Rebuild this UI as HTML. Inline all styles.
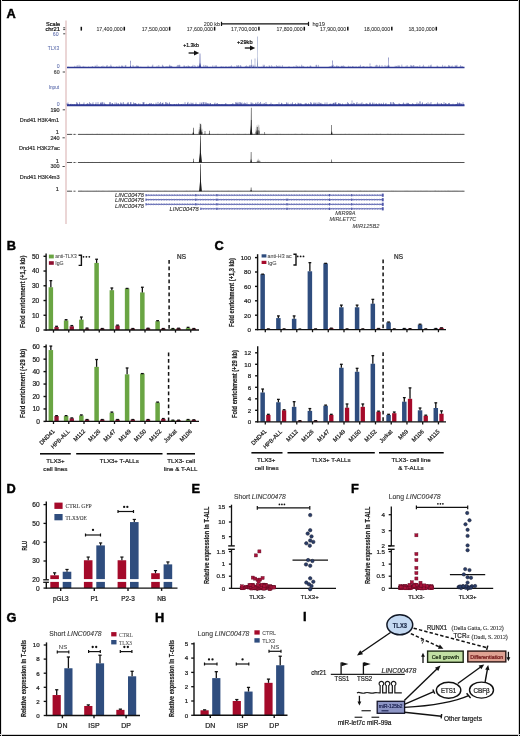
<!DOCTYPE html>
<html><head><meta charset="utf-8"><style>
html,body{margin:0;padding:0;background:#fff;}
svg{display:block;will-change:transform;}
text{font-family:"Liberation Sans", sans-serif;}
</style></head><body>
<svg width="520" height="736" viewBox="0 0 520 736">
<rect x="0" y="0" width="520" height="736" fill="#fff"/>
<text x="6.6" y="17.6" font-size="12.8" text-anchor="start" fill="#000" font-weight="bold" font-style="normal" stroke="#000" stroke-width="0.45">A</text>
<line x1="66" y1="20.5" x2="66" y2="224" stroke="#e4c9c8" stroke-width="1.5"/>
<text x="60" y="25.7" font-size="5.5" text-anchor="end" fill="#111" font-weight="normal" font-style="normal" textLength="14" lengthAdjust="spacingAndGlyphs" stroke="#111" stroke-width="0.22">Scale</text>
<text x="60" y="30.7" font-size="5.5" text-anchor="end" fill="#111" font-weight="normal" font-style="normal" textLength="14.6" lengthAdjust="spacingAndGlyphs" stroke="#111" stroke-width="0.22">chr21</text>
<line x1="63.2" y1="27.8" x2="65.2" y2="27.8" stroke="#333" stroke-width="0.9"/>
<line x1="63.2" y1="29.6" x2="65.2" y2="29.6" stroke="#333" stroke-width="0.9"/>
<line x1="63.2" y1="33.8" x2="65.2" y2="33.8" stroke="#333" stroke-width="0.9"/>
<text x="58.6" y="36" font-size="5.2" text-anchor="end" fill="#5868aa" font-weight="normal" font-style="normal" stroke="#5868aa" stroke-width="0.05">60</text>
<text x="59.2" y="50.3" font-size="5.2" text-anchor="end" fill="#5868aa" font-weight="normal" font-style="normal" textLength="11.5" lengthAdjust="spacingAndGlyphs" stroke="#5868aa" stroke-width="0.05">TLX3</text>
<text x="59.6" y="67.8" font-size="5.2" text-anchor="end" fill="#5868aa" font-weight="normal" font-style="normal" stroke="#5868aa" stroke-width="0.05">0</text>
<text x="59.6" y="73.8" font-size="5.2" text-anchor="end" fill="#555" font-weight="normal" font-style="normal" stroke="#555" stroke-width="0.22">60</text>
<line x1="62.7" y1="72" x2="65" y2="72" stroke="#333" stroke-width="0.9"/>
<text x="59.2" y="89" font-size="5.2" text-anchor="end" fill="#5868aa" font-weight="normal" font-style="normal" textLength="10.5" lengthAdjust="spacingAndGlyphs" stroke="#5868aa" stroke-width="0.05">Input</text>
<text x="59.6" y="106" font-size="5.2" text-anchor="end" fill="#5868aa" font-weight="normal" font-style="normal" stroke="#5868aa" stroke-width="0.05">0</text>
<text x="59.6" y="111.6" font-size="5.5" text-anchor="end" fill="#333" font-weight="normal" font-style="normal" stroke="#333" stroke-width="0.22">190</text>
<line x1="62.7" y1="109.8" x2="65" y2="109.8" stroke="#333" stroke-width="0.9"/>
<text x="59" y="121.6" font-size="5.5" text-anchor="end" fill="#333" font-weight="normal" font-style="normal" textLength="39.2" lengthAdjust="spacingAndGlyphs" stroke="#333" stroke-width="0.22">Dnd41 H3K4m1</text>
<text x="58.8" y="134.3" font-size="5.5" text-anchor="end" fill="#333" font-weight="normal" font-style="normal" stroke="#333" stroke-width="0.22">1</text>
<text x="59.6" y="139.9" font-size="5.5" text-anchor="end" fill="#333" font-weight="normal" font-style="normal" stroke="#333" stroke-width="0.22">240</text>
<line x1="62.5" y1="137.8" x2="64.8" y2="137.8" stroke="#333" stroke-width="0.9"/>
<text x="59.8" y="150.4" font-size="5.5" text-anchor="end" fill="#333" font-weight="normal" font-style="normal" textLength="40.8" lengthAdjust="spacingAndGlyphs" stroke="#333" stroke-width="0.22">Dnd41 H3K27ac</text>
<text x="58.8" y="163.1" font-size="5.5" text-anchor="end" fill="#333" font-weight="normal" font-style="normal" stroke="#333" stroke-width="0.22">1</text>
<text x="59.6" y="168.3" font-size="5.5" text-anchor="end" fill="#333" font-weight="normal" font-style="normal" stroke="#333" stroke-width="0.22">300</text>
<line x1="62.5" y1="166.5" x2="64.8" y2="166.5" stroke="#333" stroke-width="0.9"/>
<text x="59.6" y="178.6" font-size="5.5" text-anchor="end" fill="#333" font-weight="normal" font-style="normal" textLength="39.8" lengthAdjust="spacingAndGlyphs" stroke="#333" stroke-width="0.22">Dnd41 H3K4m3</text>
<text x="58.8" y="191.3" font-size="5.5" text-anchor="end" fill="#333" font-weight="normal" font-style="normal" stroke="#333" stroke-width="0.22">1</text>
<text x="220" y="25.6" font-size="5.5" text-anchor="end" fill="#333" font-weight="normal" font-style="normal" textLength="16.2" lengthAdjust="spacingAndGlyphs" stroke="#333" stroke-width="0.08">200 kb</text>
<line x1="221.5" y1="23.9" x2="308.5" y2="23.9" stroke="#111" stroke-width="1.2"/>
<line x1="221.5" y1="21.8" x2="221.5" y2="26" stroke="#111" stroke-width="1.2"/>
<line x1="308.5" y1="21.8" x2="308.5" y2="26" stroke="#111" stroke-width="1.2"/>
<text x="312.5" y="25.8" font-size="5.5" text-anchor="start" fill="#333" font-weight="normal" font-style="normal" textLength="12.5" lengthAdjust="spacingAndGlyphs" stroke="#333" stroke-width="0.08">hg19</text>
<line x1="81.3" y1="26.8" x2="81.3" y2="30.6" stroke="#111" stroke-width="1.5"/>
<text x="122.7" y="30.8" font-size="5.5" text-anchor="end" fill="#333" font-weight="normal" font-style="normal" textLength="26.3" lengthAdjust="spacingAndGlyphs" stroke="#333" stroke-width="0.08">17,400,000</text>
<line x1="124.3" y1="26.8" x2="124.3" y2="30.6" stroke="#111" stroke-width="1.5"/>
<text x="168" y="30.8" font-size="5.5" text-anchor="end" fill="#333" font-weight="normal" font-style="normal" textLength="26.3" lengthAdjust="spacingAndGlyphs" stroke="#333" stroke-width="0.08">17,500,000</text>
<line x1="169.6" y1="26.8" x2="169.6" y2="30.6" stroke="#111" stroke-width="1.5"/>
<text x="213" y="30.8" font-size="5.5" text-anchor="end" fill="#333" font-weight="normal" font-style="normal" textLength="26.3" lengthAdjust="spacingAndGlyphs" stroke="#333" stroke-width="0.08">17,600,000</text>
<line x1="214.6" y1="26.8" x2="214.6" y2="30.6" stroke="#111" stroke-width="1.5"/>
<text x="257.3" y="30.8" font-size="5.5" text-anchor="end" fill="#333" font-weight="normal" font-style="normal" textLength="26.3" lengthAdjust="spacingAndGlyphs" stroke="#333" stroke-width="0.08">17,700,000</text>
<line x1="258.9" y1="26.8" x2="258.9" y2="30.6" stroke="#111" stroke-width="1.5"/>
<text x="302.7" y="30.8" font-size="5.5" text-anchor="end" fill="#333" font-weight="normal" font-style="normal" textLength="26.3" lengthAdjust="spacingAndGlyphs" stroke="#333" stroke-width="0.08">17,800,000</text>
<line x1="304.3" y1="26.8" x2="304.3" y2="30.6" stroke="#111" stroke-width="1.5"/>
<text x="346.2" y="30.8" font-size="5.5" text-anchor="end" fill="#333" font-weight="normal" font-style="normal" textLength="26.3" lengthAdjust="spacingAndGlyphs" stroke="#333" stroke-width="0.08">17,900,000</text>
<line x1="347.8" y1="26.8" x2="347.8" y2="30.6" stroke="#111" stroke-width="1.5"/>
<text x="390.2" y="30.8" font-size="5.5" text-anchor="end" fill="#333" font-weight="normal" font-style="normal" textLength="26.3" lengthAdjust="spacingAndGlyphs" stroke="#333" stroke-width="0.08">18,000,000</text>
<line x1="391.8" y1="26.8" x2="391.8" y2="30.6" stroke="#111" stroke-width="1.5"/>
<text x="434.7" y="30.8" font-size="5.5" text-anchor="end" fill="#333" font-weight="normal" font-style="normal" textLength="26.3" lengthAdjust="spacingAndGlyphs" stroke="#333" stroke-width="0.08">18,100,000</text>
<line x1="436.3" y1="26.8" x2="436.3" y2="30.6" stroke="#111" stroke-width="1.5"/>
<path d="M67,67.4 v-0.1 M67.6,67.4 v-0.01 M68.2,67.4 v-0.77 M68.8,67.4 v-0 M69.4,67.4 v-0.43 M70,67.4 v-0.14 M70.6,67.4 v-0 M71.2,67.4 v-0.37 M71.8,67.4 v-0 M72.4,67.4 v-0.23 M73,67.4 v-0 M73.6,67.4 v-0 M74.2,67.4 v-0.21 M74.8,67.4 v-1.58 M75.4,67.4 v-0.01 M76,67.4 v-0.03 M76.6,67.4 v-0.69 M77.2,67.4 v-2.38 M77.8,67.4 v-0.54 M78.4,67.4 v-0.17 M79,67.4 v-2.61 M79.6,67.4 v-0 M80.2,67.4 v-1.77 M80.8,67.4 v-0.07 M81.4,67.4 v-0.01 M82,67.4 v-0 M82.6,67.4 v-0.08 M83.2,67.4 v-1.52 M83.8,67.4 v-0.02 M84.4,67.4 v-0.55 M85,67.4 v-0.73 M85.6,67.4 v-0.14 M86.2,67.4 v-0.46 M86.8,67.4 v-0 M87.4,67.4 v-0 M88,67.4 v-0.02 M88.6,67.4 v-0.88 M89.2,67.4 v-0.22 M89.8,67.4 v-0.09 M90.4,67.4 v-0.56 M91,67.4 v-0.26 M91.6,67.4 v-0.08 M92.2,67.4 v-1.4 M92.8,67.4 v-0.96 M93.4,67.4 v-0.04 M94,67.4 v-0.53 M94.6,67.4 v-0.41 M95.2,67.4 v-1.88 M95.8,67.4 v-1.09 M96.4,67.4 v-0.07 M97,67.4 v-2.64 M97.6,67.4 v-0 M98.2,67.4 v-0.2 M98.8,67.4 v-1.22 M99.4,67.4 v-0.01 M100,67.4 v-0.33 M100.6,67.4 v-0 M101.2,67.4 v-0.84 M101.8,67.4 v-1.25 M102.4,67.4 v-0.53 M103,67.4 v-1.88 M103.6,67.4 v-0.09 M104.2,67.4 v-0.94 M104.8,67.4 v-0.59 M105.4,67.4 v-0.55 M106,67.4 v-0.27 M106.6,67.4 v-1.66 M107.2,67.4 v-2.36 M107.8,67.4 v-0.3 M108.4,67.4 v-0.82 M109,67.4 v-0 M109.6,67.4 v-0.97 M110.2,67.4 v-0.76 M110.8,67.4 v-2.74 M111.4,67.4 v-1.55 M112,67.4 v-0.06 M112.6,67.4 v-0.16 M113.2,67.4 v-0.84 M113.8,67.4 v-0 M114.4,67.4 v-0.28 M115,67.4 v-0.01 M115.6,67.4 v-0 M116.2,67.4 v-0 M116.8,67.4 v-1.27 M117.4,67.4 v-0.01 M118,67.4 v-0.04 M118.6,67.4 v-0.17 M119.2,67.4 v-1.85 M119.8,67.4 v-0 M120.4,67.4 v-0.25 M121,67.4 v-0.46 M121.6,67.4 v-1.93 M122.2,67.4 v-1.54 M122.8,67.4 v-1.81 M123.4,67.4 v-0.06 M124,67.4 v-0.2 M124.6,67.4 v-0.13 M125.2,67.4 v-1.94 M125.8,67.4 v-2.46 M126.4,67.4 v-0.01 M127,67.4 v-0.02 M127.6,67.4 v-0.03 M128.2,67.4 v-0.04 M128.8,67.4 v-0.32 M129.4,67.4 v-0.57 M130,67.4 v-0.05 M130.6,67.4 v-0 M131.2,67.4 v-0.21 M131.8,67.4 v-0.14 M132.4,67.4 v-0.51 M133,67.4 v-2.42 M133.6,67.4 v-0.92 M134.2,67.4 v-0.38 M134.8,67.4 v-0.66 M135.4,67.4 v-0.87 M136,67.4 v-0 M136.6,67.4 v-2.04 M137.2,67.4 v-1.33 M137.8,67.4 v-1.87 M138.4,67.4 v-1.42 M139,67.4 v-0.17 M139.6,67.4 v-0.18 M140.2,67.4 v-0 M140.8,67.4 v-0.71 M141.4,67.4 v-0 M142,67.4 v-0 M142.6,67.4 v-0.03 M143.2,67.4 v-0.01 M143.8,67.4 v-0.11 M144.4,67.4 v-0 M145,67.4 v-0 M145.6,67.4 v-0.01 M146.2,67.4 v-0 M146.8,67.4 v-0.13 M147.4,67.4 v-0 M148,67.4 v-1.87 M148.6,67.4 v-0.65 M149.2,67.4 v-0.01 M149.8,67.4 v-0.04 M150.4,67.4 v-0.12 M151,67.4 v-0.14 M151.6,67.4 v-0.01 M152.2,67.4 v-1.71 M152.8,67.4 v-2.74 M153.4,67.4 v-0.28 M154,67.4 v-0.32 M154.6,67.4 v-0 M155.2,67.4 v-0 M155.8,67.4 v-0.11 M156.4,67.4 v-0.05 M157,67.4 v-1.59 M157.6,67.4 v-0.01 M158.2,67.4 v-0 M158.8,67.4 v-2.41 M159.4,67.4 v-0.41 M160,67.4 v-0.01 M160.6,67.4 v-0.45 M161.2,67.4 v-0 M161.8,67.4 v-0.41 M162.4,67.4 v-2.62 M163,67.4 v-1.8 M163.6,67.4 v-0.94 M164.2,67.4 v-0.05 M164.8,67.4 v-0.14 M165.4,67.4 v-0.01 M166,67.4 v-1.29 M166.6,67.4 v-0.42 M167.2,67.4 v-1.32 M167.8,67.4 v-0.1 M168.4,67.4 v-0.03 M169,67.4 v-1.5 M169.6,67.4 v-2.68 M170.2,67.4 v-1.74 M170.8,67.4 v-1.47 M171.4,67.4 v-1.53 M172,67.4 v-1.13 M172.6,67.4 v-0.03 M173.2,67.4 v-0.39 M173.8,67.4 v-0.13 M174.4,67.4 v-0 M175,67.4 v-0 M175.6,67.4 v-0.06 M176.2,67.4 v-0.05 M176.8,67.4 v-0.93 M177.4,67.4 v-2.45 M178,67.4 v-0.25 M178.6,67.4 v-2.3 M179.2,67.4 v-2.7 M179.8,67.4 v-2.44 M180.4,67.4 v-0.14 M181,67.4 v-0.03 M181.6,67.4 v-0.03 M182.2,67.4 v-0.02 M182.8,67.4 v-0.02 M183.4,67.4 v-0.68 M184,67.4 v-2.04 M184.6,67.4 v-1.66 M185.2,67.4 v-0.31 M185.8,67.4 v-0.78 M186.4,67.4 v-1.43 M187,67.4 v-0 M187.6,67.4 v-0.81 M188.2,67.4 v-2.11 M188.8,67.4 v-1.34 M189.4,67.4 v-1.18 M190,67.4 v-0.31 M190.6,67.4 v-0.02 M191.2,67.4 v-1.38 M191.8,67.4 v-0.1 M192.4,67.4 v-1.44 M193,67.4 v-2.57 M193.6,67.4 v-0.17 M194.2,67.4 v-0.18 M194.8,67.4 v-2.38 M195.4,67.4 v-1.07 M196,67.4 v-0.01 M196.6,67.4 v-0.01 M197.2,67.4 v-0.01 M197.8,67.4 v-2.07 M198.4,67.4 v-1.47 M199,67.4 v-0.01 M199.6,67.4 v-1.58 M200.2,67.4 v-2.64 M200.8,67.4 v-0.8 M201.4,67.4 v-0.12 M202,67.4 v-0.46 M202.6,67.4 v-0.01 M203.2,67.4 v-0 M203.8,67.4 v-2.56 M204.4,67.4 v-0.77 M205,67.4 v-0.41 M205.6,67.4 v-2.28 M206.2,67.4 v-0.23 M206.8,67.4 v-1.85 M207.4,67.4 v-1.58 M208,67.4 v-0.03 M208.6,67.4 v-0.04 M209.2,67.4 v-0.07 M209.8,67.4 v-0.04 M210.4,67.4 v-0.56 M211,67.4 v-0.05 M211.6,67.4 v-0.21 M212.2,67.4 v-0.01 M212.8,67.4 v-2.11 M213.4,67.4 v-0.12 M214,67.4 v-0.27 M214.6,67.4 v-0.56 M215.2,67.4 v-2.07 M215.8,67.4 v-0.21 M216.4,67.4 v-2.16 M217,67.4 v-0.35 M217.6,67.4 v-0.42 M218.2,67.4 v-0.4 M218.8,67.4 v-0 M219.4,67.4 v-0.24 M220,67.4 v-0.02 M220.6,67.4 v-0 M221.2,67.4 v-1.43 M221.8,67.4 v-0.01 M222.4,67.4 v-0.3 M223,67.4 v-1.07 M223.6,67.4 v-0.48 M224.2,67.4 v-0.1 M224.8,67.4 v-0.39 M225.4,67.4 v-0.48 M226,67.4 v-1.35 M226.6,67.4 v-0 M227.2,67.4 v-0.49 M227.8,67.4 v-0.04 M228.4,67.4 v-0.06 M229,67.4 v-1.29 M229.6,67.4 v-0.37 M230.2,67.4 v-0.5 M230.8,67.4 v-1.23 M231.4,67.4 v-2.13 M232,67.4 v-0.24 M232.6,67.4 v-0.64 M233.2,67.4 v-0.36 M233.8,67.4 v-0.38 M234.4,67.4 v-0.93 M235,67.4 v-0.26 M235.6,67.4 v-0.42 M236.2,67.4 v-0.31 M236.8,67.4 v-2.34 M237.4,67.4 v-0.96 M238,67.4 v-1.89 M238.6,67.4 v-2.34 M239.2,67.4 v-0.05 M239.8,67.4 v-0.49 M240.4,67.4 v-2.35 M241,67.4 v-1.66 M241.6,67.4 v-0.01 M242.2,67.4 v-0.01 M242.8,67.4 v-0.24 M243.4,67.4 v-0 M244,67.4 v-0.04 M244.6,67.4 v-0 M245.2,67.4 v-0.84 M245.8,67.4 v-1.35 M246.4,67.4 v-2.02 M247,67.4 v-0.01 M247.6,67.4 v-1.03 M248.2,67.4 v-0.81 M248.8,67.4 v-0.01 M249.4,67.4 v-1.93 M250,67.4 v-2.54 M250.6,67.4 v-0.03 M251.2,67.4 v-2.42 M251.8,67.4 v-0.18 M252.4,67.4 v-0.32 M253,67.4 v-2.72 M253.6,67.4 v-1.62 M254.2,67.4 v-0.01 M254.8,67.4 v-0.22 M255.4,67.4 v-0.38 M256,67.4 v-0.11 M256.6,67.4 v-0.02 M257.2,67.4 v-0.09 M257.8,67.4 v-1.05 M258.4,67.4 v-0 M259,67.4 v-0.48 M259.6,67.4 v-0.24 M260.2,67.4 v-0 M260.8,67.4 v-0.1 M261.4,67.4 v-0.68 M262,67.4 v-0.38 M262.6,67.4 v-0 M263.2,67.4 v-2.68 M263.8,67.4 v-1.37 M264.4,67.4 v-2.57 M265,67.4 v-0 M265.6,67.4 v-0.05 M266.2,67.4 v-0 M266.8,67.4 v-1.32 M267.4,67.4 v-0.06 M268,67.4 v-0.01 M268.6,67.4 v-0.21 M269.2,67.4 v-2.12 M269.8,67.4 v-1.54 M270.4,67.4 v-0.05 M271,67.4 v-0.01 M271.6,67.4 v-2.17 M272.2,67.4 v-0.52 M272.8,67.4 v-0.96 M273.4,67.4 v-0 M274,67.4 v-0 M274.6,67.4 v-0.91 M275.2,67.4 v-0.22 M275.8,67.4 v-0 M276.4,67.4 v-2.31 M277,67.4 v-0.72 M277.6,67.4 v-1.44 M278.2,67.4 v-0 M278.8,67.4 v-1.76 M279.4,67.4 v-0 M280,67.4 v-1.8 M280.6,67.4 v-0.26 M281.2,67.4 v-0.11 M281.8,67.4 v-0.47 M282.4,67.4 v-2.23 M283,67.4 v-0.05 M283.6,67.4 v-0.01 M284.2,67.4 v-0.41 M284.8,67.4 v-0.04 M285.4,67.4 v-0 M286,67.4 v-0.01 M286.6,67.4 v-0 M287.2,67.4 v-0.02 M287.8,67.4 v-0.09 M288.4,67.4 v-0.08 M289,67.4 v-1.23 M289.6,67.4 v-0.07 M290.2,67.4 v-0.35 M290.8,67.4 v-0.02 M291.4,67.4 v-0.12 M292,67.4 v-0 M292.6,67.4 v-0.04 M293.2,67.4 v-0 M293.8,67.4 v-1.1 M294.4,67.4 v-0.47 M295,67.4 v-0.02 M295.6,67.4 v-0.3 M296.2,67.4 v-2.29 M296.8,67.4 v-0 M297.4,67.4 v-1.54 M298,67.4 v-0.23 M298.6,67.4 v-0.34 M299.2,67.4 v-1.63 M299.8,67.4 v-0.17 M300.4,67.4 v-0.36 M301,67.4 v-0.91 M301.6,67.4 v-2.66 M302.2,67.4 v-0.11 M302.8,67.4 v-1.61 M303.4,67.4 v-0.99 M304,67.4 v-0.72 M304.6,67.4 v-0.19 M305.2,67.4 v-0.12 M305.8,67.4 v-0 M306.4,67.4 v-0.01 M307,67.4 v-0 M307.6,67.4 v-1.14 M308.2,67.4 v-0.05 M308.8,67.4 v-0.01 M309.4,67.4 v-0 M310,67.4 v-1.67 M310.6,67.4 v-1.85 M311.2,67.4 v-0.84 M311.8,67.4 v-0.06 M312.4,67.4 v-0.04 M313,67.4 v-0.07 M313.6,67.4 v-0.27 M314.2,67.4 v-0.01 M314.8,67.4 v-0.25 M315.4,67.4 v-0.05 M316,67.4 v-2.49 M316.6,67.4 v-2.58 M317.2,67.4 v-0.46 M317.8,67.4 v-0.04 M318.4,67.4 v-2.52 M319,67.4 v-0.08 M319.6,67.4 v-0.13 M320.2,67.4 v-0 M320.8,67.4 v-0.16 M321.4,67.4 v-0.3 M322,67.4 v-0.36 M322.6,67.4 v-0.02 M323.2,67.4 v-0.36 M323.8,67.4 v-0 M324.4,67.4 v-0.05 M325,67.4 v-0 M325.6,67.4 v-0.18 M326.2,67.4 v-0 M326.8,67.4 v-0 M327.4,67.4 v-0.08 M328,67.4 v-0.04 M328.6,67.4 v-0.56 M329.2,67.4 v-0.41 M329.8,67.4 v-1.18 M330.4,67.4 v-0.8 M331,67.4 v-1.03 M331.6,67.4 v-1.9 M332.2,67.4 v-0.17 M332.8,67.4 v-0.1 M333.4,67.4 v-2.67 M334,67.4 v-0.01 M334.6,67.4 v-1.06 M335.2,67.4 v-0.75 M335.8,67.4 v-0 M336.4,67.4 v-1.63 M337,67.4 v-1.99 M337.6,67.4 v-0.69 M338.2,67.4 v-1.11 M338.8,67.4 v-1.5 M339.4,67.4 v-0.01 M340,67.4 v-0.4 M340.6,67.4 v-0.36 M341.2,67.4 v-1.63 M341.8,67.4 v-1.46 M342.4,67.4 v-1.58 M343,67.4 v-0.56 M343.6,67.4 v-1.99 M344.2,67.4 v-0.89 M344.8,67.4 v-0.93 M345.4,67.4 v-0.03 M346,67.4 v-0 M346.6,67.4 v-0.01 M347.2,67.4 v-0.13 M347.8,67.4 v-0 M348.4,67.4 v-1.63 M349,67.4 v-0.49 M349.6,67.4 v-0.69 M350.2,67.4 v-0.69 M350.8,67.4 v-0.88 M351.4,67.4 v-0.33 M352,67.4 v-0 M352.6,67.4 v-1.42 M353.2,67.4 v-1.17 M353.8,67.4 v-0.36 M354.4,67.4 v-0.43 M355,67.4 v-0.8 M355.6,67.4 v-0 M356.2,67.4 v-1.12 M356.8,67.4 v-0.04 M357.4,67.4 v-0 M358,67.4 v-0.05 M358.6,67.4 v-1.09 M359.2,67.4 v-0.02 M359.8,67.4 v-1.13 M360.4,67.4 v-2.6 M361,67.4 v-0.34 M361.6,67.4 v-0.16 M362.2,67.4 v-0.31 M362.8,67.4 v-0.89 M363.4,67.4 v-1.26 M364,67.4 v-0.66 M364.6,67.4 v-0.74 M365.2,67.4 v-0 M365.8,67.4 v-0.01 M366.4,67.4 v-0.05 M367,67.4 v-1.15 M367.6,67.4 v-0.08 M368.2,67.4 v-0.51 M368.8,67.4 v-0 M369.4,67.4 v-0 M370,67.4 v-0.05 M370.6,67.4 v-0.85 M371.2,67.4 v-0.93 M371.8,67.4 v-0.86 M372.4,67.4 v-0.07 M373,67.4 v-0.39 M373.6,67.4 v-0.28 M374.2,67.4 v-0.28 M374.8,67.4 v-0 M375.4,67.4 v-2 M376,67.4 v-0.02 M376.6,67.4 v-2.62 M377.2,67.4 v-2.3 M377.8,67.4 v-0 M378.4,67.4 v-0.27 M379,67.4 v-1.54 M379.6,67.4 v-2.54 M380.2,67.4 v-0.25 M380.8,67.4 v-0.05 M381.4,67.4 v-0.03 M382,67.4 v-2.37 M382.6,67.4 v-0.03 M383.2,67.4 v-0.55 M383.8,67.4 v-0.01 M384.4,67.4 v-0.4 M385,67.4 v-2.42 M385.6,67.4 v-0.01 M386.2,67.4 v-1.55 M386.8,67.4 v-0.37 M387.4,67.4 v-1.95 M388,67.4 v-0.97 M388.6,67.4 v-0.03 M389.2,67.4 v-2.03 M389.8,67.4 v-0.32 M390.4,67.4 v-0 M391,67.4 v-0 M391.6,67.4 v-0.33 M392.2,67.4 v-0.26 M392.8,67.4 v-0.08 M393.4,67.4 v-0.01 M394,67.4 v-0.11 M394.6,67.4 v-0.09 M395.2,67.4 v-1.66 M395.8,67.4 v-0 M396.4,67.4 v-1.18 M397,67.4 v-1.65 M397.6,67.4 v-0 M398.2,67.4 v-2.23 M398.8,67.4 v-1.02 M399.4,67.4 v-2.05 M400,67.4 v-0.07 M400.6,67.4 v-0.14 M401.2,67.4 v-0.17 M401.8,67.4 v-2.79 M402.4,67.4 v-0.57 M403,67.4 v-0.13 M403.6,67.4 v-0.22 M404.2,67.4 v-0.06 M404.8,67.4 v-0 M405.4,67.4 v-0 M406,67.4 v-1.63 M406.6,67.4 v-0.07 M407.2,67.4 v-2.29 M407.8,67.4 v-0.04 M408.4,67.4 v-0.05 M409,67.4 v-0.37 M409.6,67.4 v-0.02 M410.2,67.4 v-0.15 M410.8,67.4 v-2.45 M411.4,67.4 v-1.94 M412,67.4 v-1.5 M412.6,67.4 v-0.7 M413.2,67.4 v-2.13 M413.8,67.4 v-2.33 M414.4,67.4 v-0.46 M415,67.4 v-1.04 M415.6,67.4 v-0 M416.2,67.4 v-1.1 M416.8,67.4 v-0.26 M417.4,67.4 v-1.19 M418,67.4 v-0.75 M418.6,67.4 v-0.07 M419.2,67.4 v-0 M419.8,67.4 v-2.23 M420.4,67.4 v-0.01 M421,67.4 v-0.29 M421.6,67.4 v-0.11 M422.2,67.4 v-0.07 M422.8,67.4 v-1.13 M423.4,67.4 v-2.61 M424,67.4 v-0.05 M424.6,67.4 v-0.79 M425.2,67.4 v-0.08 M425.8,67.4 v-0.48 M426.4,67.4 v-0.17 M427,67.4 v-0.01 M427.6,67.4 v-0.01 M428.2,67.4 v-0.03 M428.8,67.4 v-2.08 M429.4,67.4 v-0.34 M430,67.4 v-0.03 M430.6,67.4 v-2.08 M431.2,67.4 v-2.77 M431.8,67.4 v-0.26 M432.4,67.4 v-0.01 M433,67.4 v-0.02 M433.6,67.4 v-0 M434.2,67.4 v-0.11 M434.8,67.4 v-0 M435.4,67.4 v-0.04 M436,67.4 v-0.05 M436.6,67.4 v-0.52 M437.2,67.4 v-1.96 M437.8,67.4 v-1.18 M438.4,67.4 v-0.2 M439,67.4 v-0.2 M439.6,67.4 v-0.4 M440.2,67.4 v-0.15 M440.8,67.4 v-0.11 M441.4,67.4 v-0 M442,67.4 v-0.06 M442.6,67.4 v-2.54 M443.2,67.4 v-0.01 M443.8,67.4 v-0.36 M444.4,67.4 v-0.7 M445,67.4 v-1.8 M445.6,67.4 v-0.03 M446.2,67.4 v-0.06 M446.8,67.4 v-0.04 M447.4,67.4 v-0.18 M448,67.4 v-0.25 M448.6,67.4 v-2.43 M449.2,67.4 v-1.71 M449.8,67.4 v-1.86 M450.4,67.4 v-0 M451,67.4 v-0 M451.6,67.4 v-1 M452.2,67.4 v-2.01 M452.8,67.4 v-0.3 M453.4,67.4 v-0.57 M454,67.4 v-0 M454.6,67.4 v-0.17 M455.2,67.4 v-2.23 M455.8,67.4 v-1.58 M456.4,67.4 v-1.75 M457,67.4 v-2.57 M457.6,67.4 v-0.04 M458.2,67.4 v-0 M458.8,67.4 v-0.01 M459.4,67.4 v-0.4 M460,67.4 v-0.89 M460.6,67.4 v-2.34 M461.2,67.4 v-1.05 M461.8,67.4 v-0.76 M462.4,67.4 v-1.25 M463,67.4 v-0.27 M463.6,67.4 v-0.47 M464.2,67.4 v-0 " stroke="#2e3894" fill="none" stroke-width="0.45" opacity="0.85"/>
<line x1="67" y1="67.4" x2="464.5" y2="67.4" stroke="#2e3894" stroke-width="1.5"/>
<path d="M199,67.4 L199.65,62.54 L199.75,53.5 L200.25,53.5 L200.35,62.54 L201,67.4 Z" stroke="none" fill="#2e3894" stroke-width="1"/>
<path d="M256.9,67.4 L257.22,56.62 L257.15,36.6 L257.65,36.6 L257.57,56.62 L257.9,67.4 Z" stroke="none" fill="#7080b0" stroke-width="1"/>
<path d="M250.7,67.4 L251.09,64.64 L251.05,59.5 L251.55,59.5 L251.51,64.64 L251.9,67.4 Z" stroke="none" fill="#6070b0" stroke-width="1"/>
<path d="M254.5,67.4 L254.82,64.28 L254.75,58.5 L255.25,58.5 L255.18,64.28 L255.5,67.4 Z" stroke="none" fill="#6070b0" stroke-width="1"/>
<path d="M130.1,67.4 L130.42,65.09 L130.35,60.8 L130.85,60.8 L130.78,65.09 L131.1,67.4 Z" stroke="none" fill="#2e3894" stroke-width="1"/>
<path d="M332,67.4 L332.32,64.98 L332.25,60.5 L332.75,60.5 L332.68,64.98 L333,67.4 Z" stroke="none" fill="#2e3894" stroke-width="1"/>
<path d="M369.6,67.4 L369.86,66.03 L369.75,63.5 L370.25,63.5 L370.14,66.03 L370.4,67.4 Z" stroke="none" fill="#2e3894" stroke-width="1"/>
<path d="M388.05,67.4 L388.34,63.94 L388.25,57.5 L388.75,57.5 L388.66,63.94 L388.95,67.4 Z" stroke="none" fill="#2e3894" stroke-width="1"/>
<path d="M67,105.3 v-1.98 M67.5,105.3 v-0.14 M68,105.3 v-2.83 M68.5,105.3 v-1.3 M69,105.3 v-0.25 M69.5,105.3 v-0.04 M70,105.3 v-0.16 M70.5,105.3 v-1.26 M71,105.3 v-1.54 M71.5,105.3 v-0.03 M72,105.3 v-0.01 M72.5,105.3 v-0.82 M73,105.3 v-1.04 M73.5,105.3 v-0.42 M74,105.3 v-0.13 M74.5,105.3 v-1.11 M75,105.3 v-0 M75.5,105.3 v-0.24 M76,105.3 v-0.62 M76.5,105.3 v-3.1 M77,105.3 v-1.29 M77.5,105.3 v-2.59 M78,105.3 v-0.66 M78.5,105.3 v-0.14 M79,105.3 v-0.16 M79.5,105.3 v-3.11 M80,105.3 v-1.57 M80.5,105.3 v-0.25 M81,105.3 v-0 M81.5,105.3 v-0.73 M82,105.3 v-1.43 M82.5,105.3 v-0.5 M83,105.3 v-0.17 M83.5,105.3 v-1.4 M84,105.3 v-2.87 M84.5,105.3 v-0.13 M85,105.3 v-0 M85.5,105.3 v-0.31 M86,105.3 v-0.51 M86.5,105.3 v-1.47 M87,105.3 v-0.1 M87.5,105.3 v-2.06 M88,105.3 v-1.75 M88.5,105.3 v-0.76 M89,105.3 v-0.1 M89.5,105.3 v-3.18 M90,105.3 v-0.26 M90.5,105.3 v-2.2 M91,105.3 v-0.14 M91.5,105.3 v-0.12 M92,105.3 v-1.86 M92.5,105.3 v-0.23 M93,105.3 v-3.05 M93.5,105.3 v-0.73 M94,105.3 v-0.09 M94.5,105.3 v-0.13 M95,105.3 v-0.5 M95.5,105.3 v-1.39 M96,105.3 v-3.03 M96.5,105.3 v-0.05 M97,105.3 v-0.44 M97.5,105.3 v-0.11 M98,105.3 v-3.21 M98.5,105.3 v-0.05 M99,105.3 v-0.01 M99.5,105.3 v-0.01 M100,105.3 v-0.44 M100.5,105.3 v-2.68 M101,105.3 v-2.59 M101.5,105.3 v-1.72 M102,105.3 v-3.38 M102.5,105.3 v-2.91 M103,105.3 v-0.3 M103.5,105.3 v-0.08 M104,105.3 v-2.94 M104.5,105.3 v-1.79 M105,105.3 v-0 M105.5,105.3 v-1.38 M106,105.3 v-0.4 M106.5,105.3 v-0.39 M107,105.3 v-0.3 M107.5,105.3 v-0.07 M108,105.3 v-0 M108.5,105.3 v-0.21 M109,105.3 v-0.34 M109.5,105.3 v-3.08 M110,105.3 v-0.03 M110.5,105.3 v-3.14 M111,105.3 v-0.11 M111.5,105.3 v-0.35 M112,105.3 v-2.21 M112.5,105.3 v-2.21 M113,105.3 v-0.54 M113.5,105.3 v-0 M114,105.3 v-0.66 M114.5,105.3 v-0.39 M115,105.3 v-2.83 M115.5,105.3 v-0.09 M116,105.3 v-0.37 M116.5,105.3 v-2.68 M117,105.3 v-0 M117.5,105.3 v-0.48 M118,105.3 v-2.15 M118.5,105.3 v-1.9 M119,105.3 v-0 M119.5,105.3 v-0 M120,105.3 v-0.01 M120.5,105.3 v-2.83 M121,105.3 v-0.17 M121.5,105.3 v-1.79 M122,105.3 v-2.69 M122.5,105.3 v-0.31 M123,105.3 v-0.19 M123.5,105.3 v-3.09 M124,105.3 v-1.18 M124.5,105.3 v-0.18 M125,105.3 v-1.63 M125.5,105.3 v-0.27 M126,105.3 v-0.2 M126.5,105.3 v-0 M127,105.3 v-1.84 M127.5,105.3 v-2.81 M128,105.3 v-1.25 M128.5,105.3 v-2.99 M129,105.3 v-0 M129.5,105.3 v-0.14 M130,105.3 v-0.66 M130.5,105.3 v-3.09 M131,105.3 v-3.06 M131.5,105.3 v-0.42 M132,105.3 v-0.16 M132.5,105.3 v-0.53 M133,105.3 v-0.72 M133.5,105.3 v-2.89 M134,105.3 v-0.08 M134.5,105.3 v-2.1 M135,105.3 v-1.75 M135.5,105.3 v-2.21 M136,105.3 v-1.93 M136.5,105.3 v-1.13 M137,105.3 v-0.29 M137.5,105.3 v-0.28 M138,105.3 v-0.36 M138.5,105.3 v-1.98 M139,105.3 v-0.01 M139.5,105.3 v-0.1 M140,105.3 v-1.82 M140.5,105.3 v-0.16 M141,105.3 v-0.01 M141.5,105.3 v-0 M142,105.3 v-0.92 M142.5,105.3 v-0.29 M143,105.3 v-3.25 M143.5,105.3 v-2.59 M144,105.3 v-3.31 M144.5,105.3 v-0.18 M145,105.3 v-0.01 M145.5,105.3 v-0.02 M146,105.3 v-0.74 M146.5,105.3 v-1.6 M147,105.3 v-0.58 M147.5,105.3 v-0.14 M148,105.3 v-0.5 M148.5,105.3 v-1.19 M149,105.3 v-1.43 M149.5,105.3 v-1.79 M150,105.3 v-2.36 M150.5,105.3 v-1.38 M151,105.3 v-0.03 M151.5,105.3 v-2.32 M152,105.3 v-0.23 M152.5,105.3 v-0.98 M153,105.3 v-0.39 M153.5,105.3 v-1.74 M154,105.3 v-0.1 M154.5,105.3 v-0.16 M155,105.3 v-0.15 M155.5,105.3 v-0.05 M156,105.3 v-2.59 M156.5,105.3 v-1.02 M157,105.3 v-0.29 M157.5,105.3 v-0.44 M158,105.3 v-3.34 M158.5,105.3 v-0.76 M159,105.3 v-0.14 M159.5,105.3 v-2.13 M160,105.3 v-1.33 M160.5,105.3 v-3.33 M161,105.3 v-0.02 M161.5,105.3 v-0.66 M162,105.3 v-2.19 M162.5,105.3 v-2.32 M163,105.3 v-2.79 M163.5,105.3 v-0 M164,105.3 v-0.23 M164.5,105.3 v-0.03 M165,105.3 v-0.09 M165.5,105.3 v-3.2 M166,105.3 v-1.04 M166.5,105.3 v-2.9 M167,105.3 v-0.39 M167.5,105.3 v-2.48 M168,105.3 v-0.58 M168.5,105.3 v-0.18 M169,105.3 v-1.96 M169.5,105.3 v-3.01 M170,105.3 v-0.02 M170.5,105.3 v-1.09 M171,105.3 v-1.19 M171.5,105.3 v-0.12 M172,105.3 v-0.38 M172.5,105.3 v-0.05 M173,105.3 v-0.1 M173.5,105.3 v-0.17 M174,105.3 v-1.1 M174.5,105.3 v-1.33 M175,105.3 v-0.1 M175.5,105.3 v-0 M176,105.3 v-0.29 M176.5,105.3 v-1.45 M177,105.3 v-0.08 M177.5,105.3 v-0.26 M178,105.3 v-0.1 M178.5,105.3 v-2.05 M179,105.3 v-0.91 M179.5,105.3 v-0.01 M180,105.3 v-0.02 M180.5,105.3 v-0.44 M181,105.3 v-0.91 M181.5,105.3 v-1.27 M182,105.3 v-0.02 M182.5,105.3 v-0.06 M183,105.3 v-1.53 M183.5,105.3 v-0.48 M184,105.3 v-0.21 M184.5,105.3 v-0.25 M185,105.3 v-3.06 M185.5,105.3 v-0.26 M186,105.3 v-0.97 M186.5,105.3 v-0.35 M187,105.3 v-0.49 M187.5,105.3 v-2.47 M188,105.3 v-3.37 M188.5,105.3 v-0.37 M189,105.3 v-0.1 M189.5,105.3 v-1.69 M190,105.3 v-0.1 M190.5,105.3 v-0 M191,105.3 v-2.71 M191.5,105.3 v-0.51 M192,105.3 v-2.2 M192.5,105.3 v-0.47 M193,105.3 v-2.58 M193.5,105.3 v-0.62 M194,105.3 v-0.06 M194.5,105.3 v-0 M195,105.3 v-0.92 M195.5,105.3 v-1.28 M196,105.3 v-2.76 M196.5,105.3 v-0.02 M197,105.3 v-1.2 M197.5,105.3 v-0.38 M198,105.3 v-0.75 M198.5,105.3 v-0.05 M199,105.3 v-0.21 M199.5,105.3 v-0.81 M200,105.3 v-2.87 M200.5,105.3 v-0.03 M201,105.3 v-0.71 M201.5,105.3 v-2.11 M202,105.3 v-3.16 M202.5,105.3 v-0.1 M203,105.3 v-0.04 M203.5,105.3 v-2.99 M204,105.3 v-3.22 M204.5,105.3 v-0.68 M205,105.3 v-0.01 M205.5,105.3 v-2.87 M206,105.3 v-0.42 M206.5,105.3 v-2.72 M207,105.3 v-1.19 M207.5,105.3 v-2.22 M208,105.3 v-0.06 M208.5,105.3 v-2 M209,105.3 v-0.12 M209.5,105.3 v-0.46 M210,105.3 v-2.36 M210.5,105.3 v-2.25 M211,105.3 v-0.08 M211.5,105.3 v-0.12 M212,105.3 v-0.45 M212.5,105.3 v-0.8 M213,105.3 v-0.41 M213.5,105.3 v-0.03 M214,105.3 v-0.16 M214.5,105.3 v-1.68 M215,105.3 v-2.68 M215.5,105.3 v-0 M216,105.3 v-0.96 M216.5,105.3 v-1.85 M217,105.3 v-0 M217.5,105.3 v-2.31 M218,105.3 v-0.03 M218.5,105.3 v-1.1 M219,105.3 v-0.91 M219.5,105.3 v-1.22 M220,105.3 v-0.25 M220.5,105.3 v-0.5 M221,105.3 v-1.04 M221.5,105.3 v-0.52 M222,105.3 v-1.36 M222.5,105.3 v-0.58 M223,105.3 v-0.55 M223.5,105.3 v-0 M224,105.3 v-1.18 M224.5,105.3 v-0.71 M225,105.3 v-0.14 M225.5,105.3 v-1.88 M226,105.3 v-1.97 M226.5,105.3 v-0.61 M227,105.3 v-0.08 M227.5,105.3 v-0.66 M228,105.3 v-0.02 M228.5,105.3 v-0.04 M229,105.3 v-0.53 M229.5,105.3 v-0.02 M230,105.3 v-0.56 M230.5,105.3 v-0.77 M231,105.3 v-0 M231.5,105.3 v-1.26 M232,105.3 v-0.01 M232.5,105.3 v-1.72 M233,105.3 v-1.96 M233.5,105.3 v-0.78 M234,105.3 v-0.01 M234.5,105.3 v-0.75 M235,105.3 v-0.4 M235.5,105.3 v-3.04 M236,105.3 v-0.04 M236.5,105.3 v-2.42 M237,105.3 v-3.37 M237.5,105.3 v-1.71 M238,105.3 v-2.17 M238.5,105.3 v-0.09 M239,105.3 v-3.26 M239.5,105.3 v-0.71 M240,105.3 v-3.08 M240.5,105.3 v-2.8 M241,105.3 v-0.06 M241.5,105.3 v-2.02 M242,105.3 v-2.9 M242.5,105.3 v-0.01 M243,105.3 v-0.34 M243.5,105.3 v-1.84 M244,105.3 v-0.06 M244.5,105.3 v-2.67 M245,105.3 v-0.2 M245.5,105.3 v-2.17 M246,105.3 v-0.05 M246.5,105.3 v-0.75 M247,105.3 v-2.83 M247.5,105.3 v-0.11 M248,105.3 v-0.18 M248.5,105.3 v-0.76 M249,105.3 v-0.28 M249.5,105.3 v-0 M250,105.3 v-0.08 M250.5,105.3 v-0.06 M251,105.3 v-2.94 M251.5,105.3 v-1.45 M252,105.3 v-2.67 M252.5,105.3 v-0.07 M253,105.3 v-2 M253.5,105.3 v-0.03 M254,105.3 v-0.84 M254.5,105.3 v-1.26 M255,105.3 v-0.36 M255.5,105.3 v-2.52 M256,105.3 v-0.93 M256.5,105.3 v-1.03 M257,105.3 v-2.58 M257.5,105.3 v-0.02 M258,105.3 v-3.35 M258.5,105.3 v-1.23 M259,105.3 v-0.44 M259.5,105.3 v-2.07 M260,105.3 v-0.18 M260.5,105.3 v-3.33 M261,105.3 v-1.02 M261.5,105.3 v-0.36 M262,105.3 v-1.88 M262.5,105.3 v-0.56 M263,105.3 v-0.08 M263.5,105.3 v-1.77 M264,105.3 v-0 M264.5,105.3 v-2.2 M265,105.3 v-0.17 M265.5,105.3 v-1.27 M266,105.3 v-3.28 M266.5,105.3 v-1.05 M267,105.3 v-1.38 M267.5,105.3 v-0.26 M268,105.3 v-0 M268.5,105.3 v-0 M269,105.3 v-0.05 M269.5,105.3 v-1.17 M270,105.3 v-0.54 M270.5,105.3 v-0.78 M271,105.3 v-2.67 M271.5,105.3 v-0.04 M272,105.3 v-0.13 M272.5,105.3 v-1.33 M273,105.3 v-0 M273.5,105.3 v-0 M274,105.3 v-0.35 M274.5,105.3 v-0.02 M275,105.3 v-0.35 M275.5,105.3 v-0.13 M276,105.3 v-1.04 M276.5,105.3 v-1.06 M277,105.3 v-0.1 M277.5,105.3 v-1.2 M278,105.3 v-0.66 M278.5,105.3 v-0.04 M279,105.3 v-2.94 M279.5,105.3 v-0.15 M280,105.3 v-0.05 M280.5,105.3 v-0.02 M281,105.3 v-1.27 M281.5,105.3 v-2.51 M282,105.3 v-1.98 M282.5,105.3 v-0.46 M283,105.3 v-0.18 M283.5,105.3 v-0 M284,105.3 v-1.3 M284.5,105.3 v-0.96 M285,105.3 v-0.34 M285.5,105.3 v-1.3 M286,105.3 v-0.57 M286.5,105.3 v-2.95 M287,105.3 v-1.72 M287.5,105.3 v-0.16 M288,105.3 v-2.72 M288.5,105.3 v-0 M289,105.3 v-0.85 M289.5,105.3 v-0.47 M290,105.3 v-0.14 M290.5,105.3 v-0.01 M291,105.3 v-1.96 M291.5,105.3 v-0 M292,105.3 v-0.92 M292.5,105.3 v-2.97 M293,105.3 v-0.05 M293.5,105.3 v-0.1 M294,105.3 v-1.14 M294.5,105.3 v-0.76 M295,105.3 v-1.28 M295.5,105.3 v-2.16 M296,105.3 v-0.07 M296.5,105.3 v-0.26 M297,105.3 v-0.24 M297.5,105.3 v-0 M298,105.3 v-2.63 M298.5,105.3 v-1.98 M299,105.3 v-1.63 M299.5,105.3 v-0 M300,105.3 v-2.34 M300.5,105.3 v-1.78 M301,105.3 v-0.63 M301.5,105.3 v-1.76 M302,105.3 v-0.59 M302.5,105.3 v-0.13 M303,105.3 v-0.02 M303.5,105.3 v-0.14 M304,105.3 v-0 M304.5,105.3 v-0.31 M305,105.3 v-1.8 M305.5,105.3 v-1.53 M306,105.3 v-2.35 M306.5,105.3 v-1.61 M307,105.3 v-0.18 M307.5,105.3 v-0.93 M308,105.3 v-0.55 M308.5,105.3 v-2.02 M309,105.3 v-0.82 M309.5,105.3 v-0.18 M310,105.3 v-1.28 M310.5,105.3 v-3.14 M311,105.3 v-0.12 M311.5,105.3 v-2.57 M312,105.3 v-0 M312.5,105.3 v-0.18 M313,105.3 v-0.14 M313.5,105.3 v-1.77 M314,105.3 v-3 M314.5,105.3 v-1.79 M315,105.3 v-0.29 M315.5,105.3 v-2.57 M316,105.3 v-0.29 M316.5,105.3 v-0.15 M317,105.3 v-2.75 M317.5,105.3 v-1.23 M318,105.3 v-1.52 M318.5,105.3 v-1.39 M319,105.3 v-3.24 M319.5,105.3 v-0.64 M320,105.3 v-2.32 M320.5,105.3 v-1.54 M321,105.3 v-2.42 M321.5,105.3 v-0.55 M322,105.3 v-1.67 M322.5,105.3 v-0.99 M323,105.3 v-0.25 M323.5,105.3 v-0.11 M324,105.3 v-1.2 M324.5,105.3 v-0.01 M325,105.3 v-2.77 M325.5,105.3 v-0.05 M326,105.3 v-0 M326.5,105.3 v-0.02 M327,105.3 v-2.89 M327.5,105.3 v-0.33 M328,105.3 v-0.05 M328.5,105.3 v-0 M329,105.3 v-0 M329.5,105.3 v-1.52 M330,105.3 v-1.25 M330.5,105.3 v-1.54 M331,105.3 v-1.74 M331.5,105.3 v-0.01 M332,105.3 v-1.07 M332.5,105.3 v-0.37 M333,105.3 v-2.18 M333.5,105.3 v-2.19 M334,105.3 v-2.64 M334.5,105.3 v-0.01 M335,105.3 v-2.49 M335.5,105.3 v-2.79 M336,105.3 v-3 M336.5,105.3 v-0.02 M337,105.3 v-0.1 M337.5,105.3 v-0.03 M338,105.3 v-0 M338.5,105.3 v-2.36 M339,105.3 v-2.15 M339.5,105.3 v-1.25 M340,105.3 v-2.23 M340.5,105.3 v-1.24 M341,105.3 v-0.22 M341.5,105.3 v-0.02 M342,105.3 v-0.02 M342.5,105.3 v-1.84 M343,105.3 v-0.1 M343.5,105.3 v-0.28 M344,105.3 v-0.51 M344.5,105.3 v-0 M345,105.3 v-0.17 M345.5,105.3 v-0.21 M346,105.3 v-1.63 M346.5,105.3 v-0.38 M347,105.3 v-0.28 M347.5,105.3 v-3.14 M348,105.3 v-0.75 M348.5,105.3 v-2.39 M349,105.3 v-1.18 M349.5,105.3 v-0 M350,105.3 v-0.49 M350.5,105.3 v-0.55 M351,105.3 v-1.93 M351.5,105.3 v-0.33 M352,105.3 v-1.57 M352.5,105.3 v-0.87 M353,105.3 v-0.12 M353.5,105.3 v-2.45 M354,105.3 v-0.02 M354.5,105.3 v-2.2 M355,105.3 v-0.07 M355.5,105.3 v-0 M356,105.3 v-0.1 M356.5,105.3 v-1.87 M357,105.3 v-3.24 M357.5,105.3 v-0 M358,105.3 v-0.71 M358.5,105.3 v-0.71 M359,105.3 v-2.06 M359.5,105.3 v-0.08 M360,105.3 v-0.72 M360.5,105.3 v-0.33 M361,105.3 v-2.27 M361.5,105.3 v-0.18 M362,105.3 v-2.99 M362.5,105.3 v-0.21 M363,105.3 v-0.12 M363.5,105.3 v-1.55 M364,105.3 v-0.73 M364.5,105.3 v-0.03 M365,105.3 v-1.26 M365.5,105.3 v-0.01 M366,105.3 v-2.01 M366.5,105.3 v-1.54 M367,105.3 v-2.01 M367.5,105.3 v-1.22 M368,105.3 v-0.35 M368.5,105.3 v-0.46 M369,105.3 v-0.44 M369.5,105.3 v-2.63 M370,105.3 v-0.02 M370.5,105.3 v-2.62 M371,105.3 v-0 M371.5,105.3 v-0.11 M372,105.3 v-0.18 M372.5,105.3 v-2.7 M373,105.3 v-0.74 M373.5,105.3 v-0.4 M374,105.3 v-2.59 M374.5,105.3 v-0.14 M375,105.3 v-0.62 M375.5,105.3 v-0.85 M376,105.3 v-1.83 M376.5,105.3 v-1.82 M377,105.3 v-1.3 M377.5,105.3 v-0.33 M378,105.3 v-0.29 M378.5,105.3 v-0.06 M379,105.3 v-2.34 M379.5,105.3 v-1.37 M380,105.3 v-1.76 M380.5,105.3 v-0.07 M381,105.3 v-0.56 M381.5,105.3 v-1.93 M382,105.3 v-1.02 M382.5,105.3 v-0.04 M383,105.3 v-0.62 M383.5,105.3 v-2.6 M384,105.3 v-0.14 M384.5,105.3 v-0.09 M385,105.3 v-0.24 M385.5,105.3 v-1.57 M386,105.3 v-2.34 M386.5,105.3 v-0.06 M387,105.3 v-0.06 M387.5,105.3 v-0.16 M388,105.3 v-0.29 M388.5,105.3 v-0.81 M389,105.3 v-0.06 M389.5,105.3 v-0.29 M390,105.3 v-0.09 M390.5,105.3 v-3.22 M391,105.3 v-1.69 M391.5,105.3 v-0.02 M392,105.3 v-3.12 M392.5,105.3 v-0.02 M393,105.3 v-0.41 M393.5,105.3 v-3.28 M394,105.3 v-2.05 M394.5,105.3 v-1.72 M395,105.3 v-0.54 M395.5,105.3 v-0.09 M396,105.3 v-1.26 M396.5,105.3 v-0.02 M397,105.3 v-0.11 M397.5,105.3 v-0.42 M398,105.3 v-0 M398.5,105.3 v-0.45 M399,105.3 v-2.03 M399.5,105.3 v-1.52 M400,105.3 v-0.74 M400.5,105.3 v-1.24 M401,105.3 v-0.63 M401.5,105.3 v-0.05 M402,105.3 v-1.12 M402.5,105.3 v-0.46 M403,105.3 v-1.76 M403.5,105.3 v-2.75 M404,105.3 v-0.53 M404.5,105.3 v-1 M405,105.3 v-1.8 M405.5,105.3 v-0.51 M406,105.3 v-0.13 M406.5,105.3 v-1.66 M407,105.3 v-2.57 M407.5,105.3 v-1.94 M408,105.3 v-1.55 M408.5,105.3 v-2.39 M409,105.3 v-1.45 M409.5,105.3 v-1.28 M410,105.3 v-0.6 M410.5,105.3 v-0.26 M411,105.3 v-1.22 M411.5,105.3 v-0.02 M412,105.3 v-0.5 M412.5,105.3 v-1.98 M413,105.3 v-1.62 M413.5,105.3 v-1.23 M414,105.3 v-0.16 M414.5,105.3 v-0.51 M415,105.3 v-0.6 M415.5,105.3 v-1.19 M416,105.3 v-0.48 M416.5,105.3 v-1.43 M417,105.3 v-2.9 M417.5,105.3 v-0.08 M418,105.3 v-1.34 M418.5,105.3 v-1.96 M419,105.3 v-0.43 M419.5,105.3 v-0.71 M420,105.3 v-3.21 M420.5,105.3 v-0 M421,105.3 v-0.89 M421.5,105.3 v-0.06 M422,105.3 v-1.98 M422.5,105.3 v-2.97 M423,105.3 v-0.8 M423.5,105.3 v-0.02 M424,105.3 v-1 M424.5,105.3 v-0.88 M425,105.3 v-1.64 M425.5,105.3 v-0.78 M426,105.3 v-1.27 M426.5,105.3 v-2.25 M427,105.3 v-0.81 M427.5,105.3 v-0.48 M428,105.3 v-3.02 M428.5,105.3 v-0.11 M429,105.3 v-1.48 M429.5,105.3 v-0.43 M430,105.3 v-1.87 M430.5,105.3 v-0.03 M431,105.3 v-3.28 M431.5,105.3 v-0.35 M432,105.3 v-0.01 M432.5,105.3 v-0.2 M433,105.3 v-0.45 M433.5,105.3 v-0 M434,105.3 v-0.5 M434.5,105.3 v-0.51 M435,105.3 v-1.54 M435.5,105.3 v-0.34 M436,105.3 v-0.18 M436.5,105.3 v-0.13 M437,105.3 v-1.76 M437.5,105.3 v-2.97 M438,105.3 v-0.83 M438.5,105.3 v-0.12 M439,105.3 v-2.09 M439.5,105.3 v-0.43 M440,105.3 v-0.11 M440.5,105.3 v-0.04 M441,105.3 v-1.95 M441.5,105.3 v-2.14 M442,105.3 v-1.25 M442.5,105.3 v-0.64 M443,105.3 v-0.96 M443.5,105.3 v-0.13 M444,105.3 v-3.14 M444.5,105.3 v-0.34 M445,105.3 v-1.27 M445.5,105.3 v-2.19 M446,105.3 v-2.17 M446.5,105.3 v-0.64 M447,105.3 v-0.23 M447.5,105.3 v-0.91 M448,105.3 v-0.04 M448.5,105.3 v-2.28 M449,105.3 v-0.35 M449.5,105.3 v-2.38 M450,105.3 v-0.19 M450.5,105.3 v-0.4 M451,105.3 v-0.17 M451.5,105.3 v-0.52 M452,105.3 v-0.08 M452.5,105.3 v-0 M453,105.3 v-1.66 M453.5,105.3 v-0.21 M454,105.3 v-0.15 M454.5,105.3 v-0.24 M455,105.3 v-0.68 M455.5,105.3 v-0.53 M456,105.3 v-1.26 M456.5,105.3 v-1.36 M457,105.3 v-0.36 M457.5,105.3 v-2.89 M458,105.3 v-2.41 M458.5,105.3 v-0.01 M459,105.3 v-2.24 M459.5,105.3 v-2.73 M460,105.3 v-1.99 M460.5,105.3 v-0.05 M461,105.3 v-2.26 M461.5,105.3 v-1.24 M462,105.3 v-0 M462.5,105.3 v-0 M463,105.3 v-3.05 M463.5,105.3 v-1.34 M464,105.3 v-0.16 " stroke="#2e3894" fill="none" stroke-width="0.55" opacity="0.9"/>
<line x1="67" y1="105.3" x2="464.5" y2="105.3" stroke="#2e3894" stroke-width="1.9"/>
<path d="M351.6,105.3 L351.86,103.62 L351.75,100.5 L352.25,100.5 L352.14,103.62 L352.4,105.3 Z" stroke="none" fill="#2e3894" stroke-width="1"/>
<path d="M419.6,105.3 L419.86,103.8 L419.75,101 L420.25,101 L420.14,103.8 L420.4,105.3 Z" stroke="none" fill="#2e3894" stroke-width="1"/>
<line x1="199" y1="134.4" x2="199" y2="129.48" stroke="#999" stroke-width="0.45"/>
<line x1="199" y1="134.4" x2="199" y2="132.19" stroke="#222" stroke-width="0.5"/>
<line x1="199.45" y1="134.4" x2="199.45" y2="127.04" stroke="#999" stroke-width="0.45"/>
<line x1="199.45" y1="134.4" x2="199.45" y2="131.09" stroke="#222" stroke-width="0.5"/>
<line x1="199.9" y1="134.4" x2="199.9" y2="123.19" stroke="#999" stroke-width="0.45"/>
<line x1="199.9" y1="134.4" x2="199.9" y2="129.36" stroke="#222" stroke-width="0.5"/>
<line x1="200.35" y1="134.4" x2="200.35" y2="124.07" stroke="#999" stroke-width="0.45"/>
<line x1="200.35" y1="134.4" x2="200.35" y2="129.75" stroke="#222" stroke-width="0.5"/>
<line x1="200.8" y1="134.4" x2="200.8" y2="123.65" stroke="#999" stroke-width="0.45"/>
<line x1="200.8" y1="134.4" x2="200.8" y2="129.56" stroke="#222" stroke-width="0.5"/>
<line x1="201.25" y1="134.4" x2="201.25" y2="124.76" stroke="#999" stroke-width="0.45"/>
<line x1="201.25" y1="134.4" x2="201.25" y2="130.06" stroke="#222" stroke-width="0.5"/>
<line x1="201.7" y1="134.4" x2="201.7" y2="128.4" stroke="#999" stroke-width="0.45"/>
<line x1="201.7" y1="134.4" x2="201.7" y2="131.7" stroke="#222" stroke-width="0.5"/>
<line x1="202.15" y1="134.4" x2="202.15" y2="129.3" stroke="#999" stroke-width="0.45"/>
<line x1="202.15" y1="134.4" x2="202.15" y2="132.11" stroke="#222" stroke-width="0.5"/>
<line x1="255.8" y1="134.4" x2="255.8" y2="129.41" stroke="#aaa" stroke-width="0.45"/>
<line x1="255.8" y1="134.4" x2="255.8" y2="132.16" stroke="#333" stroke-width="0.5"/>
<line x1="256.25" y1="134.4" x2="256.25" y2="127.35" stroke="#aaa" stroke-width="0.45"/>
<line x1="256.25" y1="134.4" x2="256.25" y2="131.23" stroke="#333" stroke-width="0.5"/>
<line x1="256.7" y1="134.4" x2="256.7" y2="125.44" stroke="#aaa" stroke-width="0.45"/>
<line x1="256.7" y1="134.4" x2="256.7" y2="130.37" stroke="#333" stroke-width="0.5"/>
<line x1="257.15" y1="134.4" x2="257.15" y2="126.81" stroke="#aaa" stroke-width="0.45"/>
<line x1="257.15" y1="134.4" x2="257.15" y2="130.98" stroke="#333" stroke-width="0.5"/>
<line x1="257.6" y1="134.4" x2="257.6" y2="126.66" stroke="#aaa" stroke-width="0.45"/>
<line x1="257.6" y1="134.4" x2="257.6" y2="130.92" stroke="#333" stroke-width="0.5"/>
<line x1="258.05" y1="134.4" x2="258.05" y2="124.49" stroke="#aaa" stroke-width="0.45"/>
<line x1="258.05" y1="134.4" x2="258.05" y2="129.94" stroke="#333" stroke-width="0.5"/>
<line x1="258.5" y1="134.4" x2="258.5" y2="126.2" stroke="#aaa" stroke-width="0.45"/>
<line x1="258.5" y1="134.4" x2="258.5" y2="130.71" stroke="#333" stroke-width="0.5"/>
<line x1="258.95" y1="134.4" x2="258.95" y2="124.96" stroke="#aaa" stroke-width="0.45"/>
<line x1="258.95" y1="134.4" x2="258.95" y2="130.15" stroke="#333" stroke-width="0.5"/>
<line x1="259.4" y1="134.4" x2="259.4" y2="127.47" stroke="#aaa" stroke-width="0.45"/>
<line x1="259.4" y1="134.4" x2="259.4" y2="131.28" stroke="#333" stroke-width="0.5"/>
<path d="M67,134.4 v-0 M67.6,134.4 v-0 M68.2,134.4 v-0.01 M68.8,134.4 v-0.33 M69.4,134.4 v-0.03 M70,134.4 v-0 M70.6,134.4 v-0.52 M71.2,134.4 v-0.35 M71.8,134.4 v-0 M72.4,134.4 v-0.5 M73,134.4 v-0.16 M73.6,134.4 v-0.33 M74.2,134.4 v-0.21 M74.8,134.4 v-0.5 M75.4,134.4 v-0.34 M76,134.4 v-0.41 M76.6,134.4 v-0.01 M77.2,134.4 v-0.23 M77.8,134.4 v-0.1 M78.4,134.4 v-0.29 M79,134.4 v-0.06 M79.6,134.4 v-0.48 M80.2,134.4 v-0.12 M80.8,134.4 v-0.01 M81.4,134.4 v-0.01 M82,134.4 v-0 M82.6,134.4 v-0.08 M83.2,134.4 v-0 M83.8,134.4 v-0.07 M84.4,134.4 v-0 M85,134.4 v-0.08 M85.6,134.4 v-0.09 M86.2,134.4 v-0.11 M86.8,134.4 v-0.45 M87.4,134.4 v-0 M88,134.4 v-0.42 M88.6,134.4 v-0.07 M89.2,134.4 v-0.12 M89.8,134.4 v-0.21 M90.4,134.4 v-0.42 M91,134.4 v-0.04 M91.6,134.4 v-0.05 M92.2,134.4 v-0.62 M92.8,134.4 v-0 M93.4,134.4 v-0.18 M94,134.4 v-0.18 M94.6,134.4 v-0 M95.2,134.4 v-0.16 M95.8,134.4 v-0.22 M96.4,134.4 v-0.57 M97,134.4 v-0.03 M97.6,134.4 v-0.66 M98.2,134.4 v-0.09 M98.8,134.4 v-0.08 M99.4,134.4 v-0.51 M100,134.4 v-0 M100.6,134.4 v-0.26 M101.2,134.4 v-0.17 M101.8,134.4 v-0.03 M102.4,134.4 v-0.45 M103,134.4 v-0.03 M103.6,134.4 v-0.07 M104.2,134.4 v-0.1 M104.8,134.4 v-0.32 M105.4,134.4 v-0.01 M106,134.4 v-0.06 M106.6,134.4 v-0.05 M107.2,134.4 v-0.12 M107.8,134.4 v-0.4 M108.4,134.4 v-0.02 M109,134.4 v-0.4 M109.6,134.4 v-0.05 M110.2,134.4 v-0.09 M110.8,134.4 v-0.01 M111.4,134.4 v-0.09 M112,134.4 v-0.65 M112.6,134.4 v-0.2 M113.2,134.4 v-0.35 M113.8,134.4 v-0.03 M114.4,134.4 v-0.02 M115,134.4 v-0.02 M115.6,134.4 v-0.14 M116.2,134.4 v-0.18 M116.8,134.4 v-0.34 M117.4,134.4 v-0 M118,134.4 v-0.26 M118.6,134.4 v-0.49 M119.2,134.4 v-0.11 M119.8,134.4 v-0 M120.4,134.4 v-0.02 M121,134.4 v-0 M121.6,134.4 v-0 M122.2,134.4 v-0.55 M122.8,134.4 v-0.16 M123.4,134.4 v-0.2 M124,134.4 v-0.34 M124.6,134.4 v-0.53 M125.2,134.4 v-0.16 M125.8,134.4 v-0.16 M126.4,134.4 v-0.17 M127,134.4 v-0.24 M127.6,134.4 v-0.15 M128.2,134.4 v-0.22 M128.8,134.4 v-0.01 M129.4,134.4 v-0.21 M130,134.4 v-0.07 M130.6,134.4 v-0.31 M131.2,134.4 v-0 M131.8,134.4 v-0 M132.4,134.4 v-0 M133,134.4 v-0.33 M133.6,134.4 v-0.53 M134.2,134.4 v-0.2 M134.8,134.4 v-0.04 M135.4,134.4 v-0.39 M136,134.4 v-0.34 M136.6,134.4 v-0.12 M137.2,134.4 v-0.01 M137.8,134.4 v-0.02 M138.4,134.4 v-0.05 M139,134.4 v-0.02 M139.6,134.4 v-0.06 M140.2,134.4 v-0.19 M140.8,134.4 v-0.57 M141.4,134.4 v-0 M142,134.4 v-0.13 M142.6,134.4 v-0 M143.2,134.4 v-0 M143.8,134.4 v-0.37 M144.4,134.4 v-0.13 M145,134.4 v-0.54 M145.6,134.4 v-0.06 M146.2,134.4 v-0 M146.8,134.4 v-0.04 M147.4,134.4 v-0.15 M148,134.4 v-0.58 M148.6,134.4 v-0.66 M149.2,134.4 v-0.08 M149.8,134.4 v-0.05 M150.4,134.4 v-0 M151,134.4 v-0.19 M151.6,134.4 v-0.01 M152.2,134.4 v-0 M152.8,134.4 v-0 M153.4,134.4 v-0 M154,134.4 v-0.22 M154.6,134.4 v-0 M155.2,134.4 v-0.63 M155.8,134.4 v-0 M156.4,134.4 v-0.46 M157,134.4 v-0 M157.6,134.4 v-0 M158.2,134.4 v-0.26 M158.8,134.4 v-0.01 M159.4,134.4 v-0.28 M160,134.4 v-0 M160.6,134.4 v-0 M161.2,134.4 v-0.32 M161.8,134.4 v-0.25 M162.4,134.4 v-0.44 M163,134.4 v-0.27 M163.6,134.4 v-0 M164.2,134.4 v-0.17 M164.8,134.4 v-0.25 M165.4,134.4 v-0.07 M166,134.4 v-0.57 M166.6,134.4 v-0.01 M167.2,134.4 v-0.63 M167.8,134.4 v-0.26 M168.4,134.4 v-0 M169,134.4 v-0 M169.6,134.4 v-0.19 M170.2,134.4 v-0.38 M170.8,134.4 v-0 M171.4,134.4 v-0.02 M172,134.4 v-0.27 M172.6,134.4 v-0 M173.2,134.4 v-0.45 M173.8,134.4 v-0.08 M174.4,134.4 v-0 M175,134.4 v-0.03 M175.6,134.4 v-0.13 M176.2,134.4 v-0.06 M176.8,134.4 v-0.22 M177.4,134.4 v-0 M178,134.4 v-0.35 M178.6,134.4 v-0.03 M179.2,134.4 v-0.19 M179.8,134.4 v-0.17 M180.4,134.4 v-0.05 M181,134.4 v-0.04 M181.6,134.4 v-0.34 M182.2,134.4 v-0.59 M182.8,134.4 v-0.34 M183.4,134.4 v-0.13 M184,134.4 v-0.02 M184.6,134.4 v-0 M185.2,134.4 v-0.65 M185.8,134.4 v-0.24 M186.4,134.4 v-0.4 M187,134.4 v-0.03 M187.6,134.4 v-0.16 M188.2,134.4 v-0.65 M188.8,134.4 v-0.4 M189.4,134.4 v-0.15 M190,134.4 v-0.02 M190.6,134.4 v-0.06 M191.2,134.4 v-0.49 M191.8,134.4 v-0.04 M192.4,134.4 v-0.22 M193,134.4 v-0.15 M193.6,134.4 v-0.5 M194.2,134.4 v-0.37 M194.8,134.4 v-0.02 M195.4,134.4 v-0 M196,134.4 v-0.01 M196.6,134.4 v-0.05 M197.2,134.4 v-0.14 M197.8,134.4 v-0.38 M198.4,134.4 v-0.49 M199,134.4 v-0 M199.6,134.4 v-0.4 M200.2,134.4 v-0.37 M200.8,134.4 v-0.46 M201.4,134.4 v-0.13 M202,134.4 v-0.01 M202.6,134.4 v-0.43 M203.2,134.4 v-0.37 M203.8,134.4 v-0.22 M204.4,134.4 v-0.53 M205,134.4 v-0.03 M205.6,134.4 v-0 M206.2,134.4 v-0.12 M206.8,134.4 v-0.35 M207.4,134.4 v-0.01 M208,134.4 v-0.3 M208.6,134.4 v-0.57 M209.2,134.4 v-0.01 M209.8,134.4 v-0.16 M210.4,134.4 v-0.22 M211,134.4 v-0.07 M211.6,134.4 v-0.01 M212.2,134.4 v-0.01 M212.8,134.4 v-0.3 M213.4,134.4 v-0.35 M214,134.4 v-0.07 M214.6,134.4 v-0 M215.2,134.4 v-0.37 M215.8,134.4 v-0.32 M216.4,134.4 v-0.01 M217,134.4 v-0.14 M217.6,134.4 v-0.51 M218.2,134.4 v-0.49 M218.8,134.4 v-0.1 M219.4,134.4 v-0.08 M220,134.4 v-0.14 M220.6,134.4 v-0 M221.2,134.4 v-0 M221.8,134.4 v-0 M222.4,134.4 v-0.24 M223,134.4 v-0.03 M223.6,134.4 v-0.13 M224.2,134.4 v-0.05 M224.8,134.4 v-0.1 M225.4,134.4 v-0 M226,134.4 v-0 M226.6,134.4 v-0.69 M227.2,134.4 v-0.04 M227.8,134.4 v-0 M228.4,134.4 v-0.18 M229,134.4 v-0.34 M229.6,134.4 v-0 M230.2,134.4 v-0.15 M230.8,134.4 v-0.03 M231.4,134.4 v-0.1 M232,134.4 v-0 M232.6,134.4 v-0 M233.2,134.4 v-0.68 M233.8,134.4 v-0.45 M234.4,134.4 v-0.08 M235,134.4 v-0.13 M235.6,134.4 v-0.01 M236.2,134.4 v-0.33 M236.8,134.4 v-0.05 M237.4,134.4 v-0.59 M238,134.4 v-0.32 M238.6,134.4 v-0.38 M239.2,134.4 v-0.63 M239.8,134.4 v-0.01 M240.4,134.4 v-0 M241,134.4 v-0.01 M241.6,134.4 v-0 M242.2,134.4 v-0 M242.8,134.4 v-0 M243.4,134.4 v-0.12 M244,134.4 v-0.46 M244.6,134.4 v-0.07 M245.2,134.4 v-0.59 M245.8,134.4 v-0.53 M246.4,134.4 v-0 M247,134.4 v-0.15 M247.6,134.4 v-0.04 M248.2,134.4 v-0 M248.8,134.4 v-0.62 M249.4,134.4 v-0.01 M250,134.4 v-0.13 M250.6,134.4 v-0.18 M251.2,134.4 v-0.61 M251.8,134.4 v-0.21 M252.4,134.4 v-0.04 M253,134.4 v-0.06 M253.6,134.4 v-0 M254.2,134.4 v-0.63 M254.8,134.4 v-0.68 M255.4,134.4 v-0.01 M256,134.4 v-0 M256.6,134.4 v-0.01 M257.2,134.4 v-0.03 M257.8,134.4 v-0.51 M258.4,134.4 v-0.52 M259,134.4 v-0.41 M259.6,134.4 v-0 M260.2,134.4 v-0.34 M260.8,134.4 v-0.25 M261.4,134.4 v-0.19 M262,134.4 v-0.67 M262.6,134.4 v-0 M263.2,134.4 v-0 M263.8,134.4 v-0.3 M264.4,134.4 v-0.58 M265,134.4 v-0.22 M265.6,134.4 v-0.02 M266.2,134.4 v-0.14 M266.8,134.4 v-0.3 M267.4,134.4 v-0 M268,134.4 v-0.02 M268.6,134.4 v-0.01 M269.2,134.4 v-0 M269.8,134.4 v-0.08 M270.4,134.4 v-0 M271,134.4 v-0.01 M271.6,134.4 v-0 M272.2,134.4 v-0.22 M272.8,134.4 v-0 M273.4,134.4 v-0.26 M274,134.4 v-0.01 M274.6,134.4 v-0 M275.2,134.4 v-0.56 M275.8,134.4 v-0.01 M276.4,134.4 v-0.57 M277,134.4 v-0.46 M277.6,134.4 v-0.49 M278.2,134.4 v-0 M278.8,134.4 v-0.06 M279.4,134.4 v-0 M280,134.4 v-0.56 M280.6,134.4 v-0.42 M281.2,134.4 v-0.17 M281.8,134.4 v-0.06 M282.4,134.4 v-0.03 M283,134.4 v-0.39 M283.6,134.4 v-0.08 M284.2,134.4 v-0.17 M284.8,134.4 v-0 M285.4,134.4 v-0.01 M286,134.4 v-0 M286.6,134.4 v-0.25 M287.2,134.4 v-0.12 M287.8,134.4 v-0 M288.4,134.4 v-0.46 M289,134.4 v-0.01 M289.6,134.4 v-0.05 M290.2,134.4 v-0 M290.8,134.4 v-0.01 M291.4,134.4 v-0.41 M292,134.4 v-0.03 M292.6,134.4 v-0 M293.2,134.4 v-0.08 M293.8,134.4 v-0.02 M294.4,134.4 v-0.52 M295,134.4 v-0 M295.6,134.4 v-0.66 M296.2,134.4 v-0 M296.8,134.4 v-0.5 M297.4,134.4 v-0.21 M298,134.4 v-0.01 M298.6,134.4 v-0.08 M299.2,134.4 v-0.02 M299.8,134.4 v-0.01 M300.4,134.4 v-0.01 M301,134.4 v-0.03 M301.6,134.4 v-0.68 M302.2,134.4 v-0.7 M302.8,134.4 v-0.55 M303.4,134.4 v-0 M304,134.4 v-0.02 M304.6,134.4 v-0.5 M305.2,134.4 v-0 M305.8,134.4 v-0.27 M306.4,134.4 v-0.02 M307,134.4 v-0.66 M307.6,134.4 v-0 M308.2,134.4 v-0.37 M308.8,134.4 v-0.03 M309.4,134.4 v-0 M310,134.4 v-0 M310.6,134.4 v-0.4 M311.2,134.4 v-0.1 M311.8,134.4 v-0 M312.4,134.4 v-0.06 M313,134.4 v-0.53 M313.6,134.4 v-0.01 M314.2,134.4 v-0.13 M314.8,134.4 v-0 M315.4,134.4 v-0 M316,134.4 v-0.32 M316.6,134.4 v-0.25 M317.2,134.4 v-0.01 M317.8,134.4 v-0 M318.4,134.4 v-0 M319,134.4 v-0.16 M319.6,134.4 v-0.09 M320.2,134.4 v-0.01 M320.8,134.4 v-0.01 M321.4,134.4 v-0.16 M322,134.4 v-0.25 M322.6,134.4 v-0.37 M323.2,134.4 v-0.14 M323.8,134.4 v-0.01 M324.4,134.4 v-0 M325,134.4 v-0.28 M325.6,134.4 v-0.05 M326.2,134.4 v-0.26 M326.8,134.4 v-0 M327.4,134.4 v-0.37 M328,134.4 v-0.03 M328.6,134.4 v-0.42 M329.2,134.4 v-0.45 M329.8,134.4 v-0.08 M330.4,134.4 v-0 M331,134.4 v-0.53 M331.6,134.4 v-0.08 M332.2,134.4 v-0.46 M332.8,134.4 v-0.01 M333.4,134.4 v-0 M334,134.4 v-0.4 M334.6,134.4 v-0.03 M335.2,134.4 v-0 M335.8,134.4 v-0.04 M336.4,134.4 v-0.15 M337,134.4 v-0 M337.6,134.4 v-0.1 M338.2,134.4 v-0.06 M338.8,134.4 v-0.1 M339.4,134.4 v-0 M340,134.4 v-0.26 M340.6,134.4 v-0.38 M341.2,134.4 v-0.45 M341.8,134.4 v-0.02 M342.4,134.4 v-0.25 M343,134.4 v-0.04 M343.6,134.4 v-0.3 M344.2,134.4 v-0 M344.8,134.4 v-0.47 M345.4,134.4 v-0.61 M346,134.4 v-0.08 M346.6,134.4 v-0.09 M347.2,134.4 v-0.1 M347.8,134.4 v-0.11 M348.4,134.4 v-0 M349,134.4 v-0.63 M349.6,134.4 v-0.01 M350.2,134.4 v-0 M350.8,134.4 v-0 M351.4,134.4 v-0.01 M352,134.4 v-0.38 M352.6,134.4 v-0 M353.2,134.4 v-0 M353.8,134.4 v-0.24 M354.4,134.4 v-0.01 M355,134.4 v-0 M355.6,134.4 v-0.15 M356.2,134.4 v-0.13 M356.8,134.4 v-0.1 M357.4,134.4 v-0.24 M358,134.4 v-0 M358.6,134.4 v-0.46 M359.2,134.4 v-0.26 M359.8,134.4 v-0 M360.4,134.4 v-0 M361,134.4 v-0.08 M361.6,134.4 v-0.09 M362.2,134.4 v-0.02 M362.8,134.4 v-0 M363.4,134.4 v-0.05 M364,134.4 v-0 M364.6,134.4 v-0.15 M365.2,134.4 v-0.45 M365.8,134.4 v-0 M366.4,134.4 v-0.13 M367,134.4 v-0.29 M367.6,134.4 v-0 M368.2,134.4 v-0.39 M368.8,134.4 v-0.58 M369.4,134.4 v-0.04 M370,134.4 v-0.05 M370.6,134.4 v-0.41 M371.2,134.4 v-0.1 M371.8,134.4 v-0.04 M372.4,134.4 v-0.58 M373,134.4 v-0.33 M373.6,134.4 v-0.03 M374.2,134.4 v-0.01 M374.8,134.4 v-0.03 M375.4,134.4 v-0.06 M376,134.4 v-0.66 M376.6,134.4 v-0.36 M377.2,134.4 v-0.53 M377.8,134.4 v-0.38 M378.4,134.4 v-0.43 M379,134.4 v-0 M379.6,134.4 v-0.1 M380.2,134.4 v-0.62 M380.8,134.4 v-0.57 M381.4,134.4 v-0.01 M382,134.4 v-0.05 M382.6,134.4 v-0.18 M383.2,134.4 v-0.03 M383.8,134.4 v-0.1 M384.4,134.4 v-0 M385,134.4 v-0.06 M385.6,134.4 v-0.09 M386.2,134.4 v-0 M386.8,134.4 v-0 M387.4,134.4 v-0.64 M388,134.4 v-0.33 M388.6,134.4 v-0.58 M389.2,134.4 v-0.18 M389.8,134.4 v-0.37 M390.4,134.4 v-0.48 M391,134.4 v-0.48 M391.6,134.4 v-0 M392.2,134.4 v-0.18 M392.8,134.4 v-0.01 M393.4,134.4 v-0.22 M394,134.4 v-0.01 M394.6,134.4 v-0.11 M395.2,134.4 v-0.55 M395.8,134.4 v-0.17 M396.4,134.4 v-0.01 M397,134.4 v-0.1 M397.6,134.4 v-0.06 M398.2,134.4 v-0.6 M398.8,134.4 v-0.02 M399.4,134.4 v-0.02 M400,134.4 v-0.19 M400.6,134.4 v-0 M401.2,134.4 v-0.15 M401.8,134.4 v-0.61 M402.4,134.4 v-0.09 M403,134.4 v-0.01 M403.6,134.4 v-0.07 M404.2,134.4 v-0.11 M404.8,134.4 v-0 M405.4,134.4 v-0 M406,134.4 v-0 M406.6,134.4 v-0.02 M407.2,134.4 v-0.05 M407.8,134.4 v-0.02 M408.4,134.4 v-0.01 M409,134.4 v-0 M409.6,134.4 v-0.11 M410.2,134.4 v-0.41 M410.8,134.4 v-0.16 M411.4,134.4 v-0.13 M412,134.4 v-0.19 M412.6,134.4 v-0.01 M413.2,134.4 v-0.25 M413.8,134.4 v-0.07 M414.4,134.4 v-0.12 M415,134.4 v-0.16 M415.6,134.4 v-0.07 M416.2,134.4 v-0.02 M416.8,134.4 v-0.01 M417.4,134.4 v-0.01 M418,134.4 v-0.09 M418.6,134.4 v-0.04 M419.2,134.4 v-0.14 M419.8,134.4 v-0 M420.4,134.4 v-0.03 M421,134.4 v-0.45 M421.6,134.4 v-0.01 M422.2,134.4 v-0.12 M422.8,134.4 v-0.08 M423.4,134.4 v-0.02 M424,134.4 v-0.67 M424.6,134.4 v-0.02 M425.2,134.4 v-0.32 M425.8,134.4 v-0 M426.4,134.4 v-0 M427,134.4 v-0.46 M427.6,134.4 v-0.06 M428.2,134.4 v-0 M428.8,134.4 v-0.04 M429.4,134.4 v-0.06 M430,134.4 v-0.28 M430.6,134.4 v-0 M431.2,134.4 v-0.01 M431.8,134.4 v-0.62 M432.4,134.4 v-0.28 M433,134.4 v-0 M433.6,134.4 v-0.03 M434.2,134.4 v-0.03 M434.8,134.4 v-0.22 M435.4,134.4 v-0.16 M436,134.4 v-0.43 M436.6,134.4 v-0.39 M437.2,134.4 v-0.1 M437.8,134.4 v-0.28 M438.4,134.4 v-0.29 M439,134.4 v-0.31 M439.6,134.4 v-0.08 M440.2,134.4 v-0.34 M440.8,134.4 v-0.25 M441.4,134.4 v-0.54 M442,134.4 v-0 M442.6,134.4 v-0.46 M443.2,134.4 v-0 M443.8,134.4 v-0.31 M444.4,134.4 v-0.14 M445,134.4 v-0.09 M445.6,134.4 v-0.62 M446.2,134.4 v-0.13 M446.8,134.4 v-0.05 M447.4,134.4 v-0.34 M448,134.4 v-0.47 M448.6,134.4 v-0.16 M449.2,134.4 v-0.04 M449.8,134.4 v-0.06 M450.4,134.4 v-0.07 M451,134.4 v-0.26 M451.6,134.4 v-0.02 M452.2,134.4 v-0.04 M452.8,134.4 v-0.12 M453.4,134.4 v-0.04 M454,134.4 v-0.02 M454.6,134.4 v-0.34 M455.2,134.4 v-0.43 M455.8,134.4 v-0.09 M456.4,134.4 v-0.06 M457,134.4 v-0 M457.6,134.4 v-0.02 M458.2,134.4 v-0 M458.8,134.4 v-0.13 M459.4,134.4 v-0.14 M460,134.4 v-0 M460.6,134.4 v-0.55 M461.2,134.4 v-0.02 M461.8,134.4 v-0.42 M462.4,134.4 v-0.41 M463,134.4 v-0.62 M463.6,134.4 v-0.01 M464.2,134.4 v-0.05 " stroke="#1a1a1a" fill="none" stroke-width="0.45" opacity="0.6"/>
<line x1="67" y1="134.4" x2="72" y2="134.4" stroke="#4a4a4a" stroke-width="0.95"/>
<line x1="73.5" y1="134.4" x2="75.5" y2="134.4" stroke="#4a4a4a" stroke-width="0.95"/>
<line x1="78" y1="134.4" x2="464.5" y2="134.4" stroke="#4a4a4a" stroke-width="0.95"/>
<path d="M192.4,134.4 L192.99,132.06 L193.05,127.7 L193.55,127.7 L193.62,132.06 L194.2,134.4 Z" stroke="none" fill="#1a1a1a" stroke-width="1"/>
<path d="M199.3,134.4 L200.14,130.76 L200.35,124 L200.85,124 L201.06,130.76 L201.9,134.4 Z" stroke="none" fill="#1a1a1a" stroke-width="1"/>
<path d="M204.4,134.4 L204.79,133.21 L204.75,131 L205.25,131 L205.21,133.21 L205.6,134.4 Z" stroke="none" fill="#1a1a1a" stroke-width="1"/>
<path d="M208.7,134.4 L209.16,133.14 L209.15,130.8 L209.65,130.8 L209.65,133.14 L210.1,134.4 Z" stroke="none" fill="#1a1a1a" stroke-width="1"/>
<path d="M250.2,134.4 L250.85,125.09 L250.95,107.8 L251.45,107.8 L251.55,125.09 L252.2,134.4 Z" stroke="none" fill="#1a1a1a" stroke-width="1"/>
<path d="M250,134.4 L250.78,129.36 L250.95,120 L251.45,120 L251.62,129.36 L252.4,134.4 Z" stroke="none" fill="#1a1a1a" stroke-width="1"/>
<path d="M256.3,134.4 L256.88,131.81 L256.95,127 L257.45,127 L257.51,131.81 L258.1,134.4 Z" stroke="none" fill="#1a1a1a" stroke-width="1"/>
<path d="M264.3,134.4 L264.62,133.56 L264.55,132 L265.05,132 L264.98,133.56 L265.3,134.4 Z" stroke="none" fill="#1a1a1a" stroke-width="1"/>
<path d="M330.9,134.4 L331.42,131.11 L331.45,125 L331.95,125 L331.98,131.11 L332.5,134.4 Z" stroke="none" fill="#1a1a1a" stroke-width="1"/>
<line x1="257" y1="162.5" x2="257" y2="161.16" stroke="#aaa" stroke-width="0.45"/>
<line x1="257" y1="162.5" x2="257" y2="161.9" stroke="#333" stroke-width="0.5"/>
<line x1="257.45" y1="162.5" x2="257.45" y2="160.13" stroke="#aaa" stroke-width="0.45"/>
<line x1="257.45" y1="162.5" x2="257.45" y2="161.44" stroke="#333" stroke-width="0.5"/>
<line x1="257.9" y1="162.5" x2="257.9" y2="159.51" stroke="#aaa" stroke-width="0.45"/>
<line x1="257.9" y1="162.5" x2="257.9" y2="161.15" stroke="#333" stroke-width="0.5"/>
<line x1="258.35" y1="162.5" x2="258.35" y2="158.69" stroke="#aaa" stroke-width="0.45"/>
<line x1="258.35" y1="162.5" x2="258.35" y2="160.79" stroke="#333" stroke-width="0.5"/>
<line x1="258.8" y1="162.5" x2="258.8" y2="159.72" stroke="#aaa" stroke-width="0.45"/>
<line x1="258.8" y1="162.5" x2="258.8" y2="161.25" stroke="#333" stroke-width="0.5"/>
<line x1="259.25" y1="162.5" x2="259.25" y2="160" stroke="#aaa" stroke-width="0.45"/>
<line x1="259.25" y1="162.5" x2="259.25" y2="161.37" stroke="#333" stroke-width="0.5"/>
<line x1="259.7" y1="162.5" x2="259.7" y2="160.54" stroke="#aaa" stroke-width="0.45"/>
<line x1="259.7" y1="162.5" x2="259.7" y2="161.62" stroke="#333" stroke-width="0.5"/>
<line x1="260.15" y1="162.5" x2="260.15" y2="160.96" stroke="#aaa" stroke-width="0.45"/>
<line x1="260.15" y1="162.5" x2="260.15" y2="161.81" stroke="#333" stroke-width="0.5"/>
<path d="M67,162.5 v-0.45 M67.6,162.5 v-0 M68.2,162.5 v-0 M68.8,162.5 v-0.11 M69.4,162.5 v-0.07 M70,162.5 v-0.47 M70.6,162.5 v-0.28 M71.2,162.5 v-0.09 M71.8,162.5 v-0.6 M72.4,162.5 v-0.08 M73,162.5 v-0.08 M73.6,162.5 v-0.19 M74.2,162.5 v-0.04 M74.8,162.5 v-0.03 M75.4,162.5 v-0.13 M76,162.5 v-0.03 M76.6,162.5 v-0.51 M77.2,162.5 v-0.19 M77.8,162.5 v-0.09 M78.4,162.5 v-0 M79,162.5 v-0.03 M79.6,162.5 v-0.04 M80.2,162.5 v-0.11 M80.8,162.5 v-0.11 M81.4,162.5 v-0.41 M82,162.5 v-0.54 M82.6,162.5 v-0.07 M83.2,162.5 v-0.05 M83.8,162.5 v-0.15 M84.4,162.5 v-0.59 M85,162.5 v-0.02 M85.6,162.5 v-0.09 M86.2,162.5 v-0.33 M86.8,162.5 v-0 M87.4,162.5 v-0.02 M88,162.5 v-0.56 M88.6,162.5 v-0.34 M89.2,162.5 v-0.08 M89.8,162.5 v-0 M90.4,162.5 v-0.43 M91,162.5 v-0.2 M91.6,162.5 v-0.33 M92.2,162.5 v-0.58 M92.8,162.5 v-0.42 M93.4,162.5 v-0.04 M94,162.5 v-0 M94.6,162.5 v-0.01 M95.2,162.5 v-0.08 M95.8,162.5 v-0.08 M96.4,162.5 v-0 M97,162.5 v-0 M97.6,162.5 v-0.15 M98.2,162.5 v-0.13 M98.8,162.5 v-0.03 M99.4,162.5 v-0.59 M100,162.5 v-0.15 M100.6,162.5 v-0 M101.2,162.5 v-0.04 M101.8,162.5 v-0.29 M102.4,162.5 v-0.02 M103,162.5 v-0.2 M103.6,162.5 v-0 M104.2,162.5 v-0.02 M104.8,162.5 v-0.36 M105.4,162.5 v-0.12 M106,162.5 v-0.18 M106.6,162.5 v-0 M107.2,162.5 v-0.07 M107.8,162.5 v-0.1 M108.4,162.5 v-0.01 M109,162.5 v-0.16 M109.6,162.5 v-0.09 M110.2,162.5 v-0.59 M110.8,162.5 v-0.11 M111.4,162.5 v-0.04 M112,162.5 v-0 M112.6,162.5 v-0 M113.2,162.5 v-0.26 M113.8,162.5 v-0 M114.4,162.5 v-0 M115,162.5 v-0 M115.6,162.5 v-0.09 M116.2,162.5 v-0.33 M116.8,162.5 v-0.14 M117.4,162.5 v-0.31 M118,162.5 v-0 M118.6,162.5 v-0 M119.2,162.5 v-0.27 M119.8,162.5 v-0.02 M120.4,162.5 v-0.22 M121,162.5 v-0.03 M121.6,162.5 v-0 M122.2,162.5 v-0.01 M122.8,162.5 v-0 M123.4,162.5 v-0.44 M124,162.5 v-0.12 M124.6,162.5 v-0.03 M125.2,162.5 v-0.05 M125.8,162.5 v-0.03 M126.4,162.5 v-0 M127,162.5 v-0.42 M127.6,162.5 v-0.12 M128.2,162.5 v-0.53 M128.8,162.5 v-0.05 M129.4,162.5 v-0.14 M130,162.5 v-0.01 M130.6,162.5 v-0 M131.2,162.5 v-0.48 M131.8,162.5 v-0.37 M132.4,162.5 v-0.02 M133,162.5 v-0.44 M133.6,162.5 v-0.33 M134.2,162.5 v-0.02 M134.8,162.5 v-0.13 M135.4,162.5 v-0.53 M136,162.5 v-0.07 M136.6,162.5 v-0.51 M137.2,162.5 v-0.01 M137.8,162.5 v-0.04 M138.4,162.5 v-0.22 M139,162.5 v-0.01 M139.6,162.5 v-0.02 M140.2,162.5 v-0.4 M140.8,162.5 v-0.07 M141.4,162.5 v-0.3 M142,162.5 v-0.01 M142.6,162.5 v-0 M143.2,162.5 v-0.03 M143.8,162.5 v-0 M144.4,162.5 v-0.55 M145,162.5 v-0.01 M145.6,162.5 v-0.11 M146.2,162.5 v-0 M146.8,162.5 v-0.09 M147.4,162.5 v-0.03 M148,162.5 v-0.04 M148.6,162.5 v-0 M149.2,162.5 v-0 M149.8,162.5 v-0.34 M150.4,162.5 v-0.03 M151,162.5 v-0.01 M151.6,162.5 v-0 M152.2,162.5 v-0.01 M152.8,162.5 v-0.01 M153.4,162.5 v-0 M154,162.5 v-0.18 M154.6,162.5 v-0.02 M155.2,162.5 v-0 M155.8,162.5 v-0.21 M156.4,162.5 v-0 M157,162.5 v-0.01 M157.6,162.5 v-0.35 M158.2,162.5 v-0 M158.8,162.5 v-0.05 M159.4,162.5 v-0.35 M160,162.5 v-0.31 M160.6,162.5 v-0 M161.2,162.5 v-0.03 M161.8,162.5 v-0.23 M162.4,162.5 v-0.03 M163,162.5 v-0.53 M163.6,162.5 v-0.01 M164.2,162.5 v-0.52 M164.8,162.5 v-0.08 M165.4,162.5 v-0.01 M166,162.5 v-0.06 M166.6,162.5 v-0 M167.2,162.5 v-0.21 M167.8,162.5 v-0.01 M168.4,162.5 v-0.44 M169,162.5 v-0.12 M169.6,162.5 v-0.03 M170.2,162.5 v-0.01 M170.8,162.5 v-0.13 M171.4,162.5 v-0.01 M172,162.5 v-0.4 M172.6,162.5 v-0 M173.2,162.5 v-0.08 M173.8,162.5 v-0.1 M174.4,162.5 v-0.01 M175,162.5 v-0.28 M175.6,162.5 v-0.03 M176.2,162.5 v-0.17 M176.8,162.5 v-0.11 M177.4,162.5 v-0.02 M178,162.5 v-0.04 M178.6,162.5 v-0 M179.2,162.5 v-0 M179.8,162.5 v-0.37 M180.4,162.5 v-0.02 M181,162.5 v-0.17 M181.6,162.5 v-0 M182.2,162.5 v-0.11 M182.8,162.5 v-0.03 M183.4,162.5 v-0.08 M184,162.5 v-0.02 M184.6,162.5 v-0 M185.2,162.5 v-0.02 M185.8,162.5 v-0.01 M186.4,162.5 v-0 M187,162.5 v-0.22 M187.6,162.5 v-0.01 M188.2,162.5 v-0.04 M188.8,162.5 v-0.45 M189.4,162.5 v-0.28 M190,162.5 v-0.41 M190.6,162.5 v-0.38 M191.2,162.5 v-0 M191.8,162.5 v-0.01 M192.4,162.5 v-0 M193,162.5 v-0.19 M193.6,162.5 v-0.18 M194.2,162.5 v-0.03 M194.8,162.5 v-0.04 M195.4,162.5 v-0.17 M196,162.5 v-0.21 M196.6,162.5 v-0.01 M197.2,162.5 v-0.36 M197.8,162.5 v-0.03 M198.4,162.5 v-0.15 M199,162.5 v-0 M199.6,162.5 v-0 M200.2,162.5 v-0.46 M200.8,162.5 v-0.24 M201.4,162.5 v-0.22 M202,162.5 v-0 M202.6,162.5 v-0 M203.2,162.5 v-0 M203.8,162.5 v-0 M204.4,162.5 v-0.02 M205,162.5 v-0.03 M205.6,162.5 v-0 M206.2,162.5 v-0.02 M206.8,162.5 v-0.16 M207.4,162.5 v-0 M208,162.5 v-0.35 M208.6,162.5 v-0.11 M209.2,162.5 v-0.22 M209.8,162.5 v-0.01 M210.4,162.5 v-0.05 M211,162.5 v-0.19 M211.6,162.5 v-0.03 M212.2,162.5 v-0 M212.8,162.5 v-0.35 M213.4,162.5 v-0.28 M214,162.5 v-0.01 M214.6,162.5 v-0 M215.2,162.5 v-0.37 M215.8,162.5 v-0.13 M216.4,162.5 v-0 M217,162.5 v-0.01 M217.6,162.5 v-0 M218.2,162.5 v-0.3 M218.8,162.5 v-0.01 M219.4,162.5 v-0.46 M220,162.5 v-0.25 M220.6,162.5 v-0 M221.2,162.5 v-0.2 M221.8,162.5 v-0.04 M222.4,162.5 v-0.25 M223,162.5 v-0.34 M223.6,162.5 v-0.01 M224.2,162.5 v-0 M224.8,162.5 v-0.51 M225.4,162.5 v-0.05 M226,162.5 v-0.48 M226.6,162.5 v-0.2 M227.2,162.5 v-0.24 M227.8,162.5 v-0.34 M228.4,162.5 v-0.15 M229,162.5 v-0.06 M229.6,162.5 v-0 M230.2,162.5 v-0.2 M230.8,162.5 v-0.05 M231.4,162.5 v-0.08 M232,162.5 v-0.48 M232.6,162.5 v-0 M233.2,162.5 v-0.27 M233.8,162.5 v-0 M234.4,162.5 v-0.21 M235,162.5 v-0.31 M235.6,162.5 v-0.01 M236.2,162.5 v-0.1 M236.8,162.5 v-0.55 M237.4,162.5 v-0.16 M238,162.5 v-0.1 M238.6,162.5 v-0.01 M239.2,162.5 v-0 M239.8,162.5 v-0.03 M240.4,162.5 v-0.04 M241,162.5 v-0 M241.6,162.5 v-0.02 M242.2,162.5 v-0 M242.8,162.5 v-0.21 M243.4,162.5 v-0.18 M244,162.5 v-0.01 M244.6,162.5 v-0.01 M245.2,162.5 v-0.08 M245.8,162.5 v-0.05 M246.4,162.5 v-0.49 M247,162.5 v-0.03 M247.6,162.5 v-0.02 M248.2,162.5 v-0.42 M248.8,162.5 v-0 M249.4,162.5 v-0.11 M250,162.5 v-0.02 M250.6,162.5 v-0.33 M251.2,162.5 v-0.1 M251.8,162.5 v-0.26 M252.4,162.5 v-0 M253,162.5 v-0.18 M253.6,162.5 v-0.13 M254.2,162.5 v-0.06 M254.8,162.5 v-0.27 M255.4,162.5 v-0.34 M256,162.5 v-0 M256.6,162.5 v-0.01 M257.2,162.5 v-0.03 M257.8,162.5 v-0.01 M258.4,162.5 v-0 M259,162.5 v-0.01 M259.6,162.5 v-0 M260.2,162.5 v-0.21 M260.8,162.5 v-0.05 M261.4,162.5 v-0 M262,162.5 v-0.02 M262.6,162.5 v-0.06 M263.2,162.5 v-0.03 M263.8,162.5 v-0 M264.4,162.5 v-0 M265,162.5 v-0 M265.6,162.5 v-0.59 M266.2,162.5 v-0.25 M266.8,162.5 v-0 M267.4,162.5 v-0.22 M268,162.5 v-0.57 M268.6,162.5 v-0.11 M269.2,162.5 v-0 M269.8,162.5 v-0.07 M270.4,162.5 v-0.05 M271,162.5 v-0 M271.6,162.5 v-0.1 M272.2,162.5 v-0 M272.8,162.5 v-0.47 M273.4,162.5 v-0.16 M274,162.5 v-0.15 M274.6,162.5 v-0.49 M275.2,162.5 v-0.17 M275.8,162.5 v-0.01 M276.4,162.5 v-0.01 M277,162.5 v-0 M277.6,162.5 v-0 M278.2,162.5 v-0.28 M278.8,162.5 v-0.36 M279.4,162.5 v-0.02 M280,162.5 v-0 M280.6,162.5 v-0.16 M281.2,162.5 v-0.36 M281.8,162.5 v-0.48 M282.4,162.5 v-0 M283,162.5 v-0.29 M283.6,162.5 v-0.34 M284.2,162.5 v-0.25 M284.8,162.5 v-0.02 M285.4,162.5 v-0 M286,162.5 v-0.34 M286.6,162.5 v-0.02 M287.2,162.5 v-0.03 M287.8,162.5 v-0.1 M288.4,162.5 v-0.03 M289,162.5 v-0.34 M289.6,162.5 v-0.01 M290.2,162.5 v-0 M290.8,162.5 v-0.11 M291.4,162.5 v-0.15 M292,162.5 v-0.33 M292.6,162.5 v-0.21 M293.2,162.5 v-0.45 M293.8,162.5 v-0.51 M294.4,162.5 v-0.07 M295,162.5 v-0.07 M295.6,162.5 v-0 M296.2,162.5 v-0.02 M296.8,162.5 v-0.12 M297.4,162.5 v-0 M298,162.5 v-0.2 M298.6,162.5 v-0 M299.2,162.5 v-0.05 M299.8,162.5 v-0.55 M300.4,162.5 v-0 M301,162.5 v-0 M301.6,162.5 v-0.05 M302.2,162.5 v-0 M302.8,162.5 v-0.23 M303.4,162.5 v-0 M304,162.5 v-0.36 M304.6,162.5 v-0.38 M305.2,162.5 v-0.29 M305.8,162.5 v-0.05 M306.4,162.5 v-0.01 M307,162.5 v-0.17 M307.6,162.5 v-0.08 M308.2,162.5 v-0.04 M308.8,162.5 v-0.02 M309.4,162.5 v-0.05 M310,162.5 v-0.18 M310.6,162.5 v-0.34 M311.2,162.5 v-0.44 M311.8,162.5 v-0 M312.4,162.5 v-0.02 M313,162.5 v-0.05 M313.6,162.5 v-0.11 M314.2,162.5 v-0.03 M314.8,162.5 v-0 M315.4,162.5 v-0 M316,162.5 v-0.02 M316.6,162.5 v-0.06 M317.2,162.5 v-0.55 M317.8,162.5 v-0.45 M318.4,162.5 v-0.39 M319,162.5 v-0.56 M319.6,162.5 v-0.53 M320.2,162.5 v-0.14 M320.8,162.5 v-0.32 M321.4,162.5 v-0 M322,162.5 v-0.19 M322.6,162.5 v-0.14 M323.2,162.5 v-0.02 M323.8,162.5 v-0.11 M324.4,162.5 v-0.52 M325,162.5 v-0.07 M325.6,162.5 v-0.16 M326.2,162.5 v-0.02 M326.8,162.5 v-0.02 M327.4,162.5 v-0.42 M328,162.5 v-0 M328.6,162.5 v-0 M329.2,162.5 v-0.19 M329.8,162.5 v-0.05 M330.4,162.5 v-0 M331,162.5 v-0.17 M331.6,162.5 v-0.03 M332.2,162.5 v-0.12 M332.8,162.5 v-0.04 M333.4,162.5 v-0.09 M334,162.5 v-0.11 M334.6,162.5 v-0.04 M335.2,162.5 v-0 M335.8,162.5 v-0 M336.4,162.5 v-0.42 M337,162.5 v-0.1 M337.6,162.5 v-0 M338.2,162.5 v-0.38 M338.8,162.5 v-0.01 M339.4,162.5 v-0 M340,162.5 v-0.09 M340.6,162.5 v-0.01 M341.2,162.5 v-0.07 M341.8,162.5 v-0.1 M342.4,162.5 v-0.01 M343,162.5 v-0.11 M343.6,162.5 v-0 M344.2,162.5 v-0.08 M344.8,162.5 v-0.12 M345.4,162.5 v-0 M346,162.5 v-0.04 M346.6,162.5 v-0 M347.2,162.5 v-0.05 M347.8,162.5 v-0.39 M348.4,162.5 v-0.1 M349,162.5 v-0.22 M349.6,162.5 v-0.26 M350.2,162.5 v-0 M350.8,162.5 v-0.58 M351.4,162.5 v-0.23 M352,162.5 v-0 M352.6,162.5 v-0.34 M353.2,162.5 v-0.04 M353.8,162.5 v-0 M354.4,162.5 v-0.53 M355,162.5 v-0.11 M355.6,162.5 v-0.28 M356.2,162.5 v-0 M356.8,162.5 v-0.28 M357.4,162.5 v-0 M358,162.5 v-0.01 M358.6,162.5 v-0.03 M359.2,162.5 v-0 M359.8,162.5 v-0.13 M360.4,162.5 v-0.01 M361,162.5 v-0.02 M361.6,162.5 v-0.21 M362.2,162.5 v-0.05 M362.8,162.5 v-0.42 M363.4,162.5 v-0.14 M364,162.5 v-0.4 M364.6,162.5 v-0.11 M365.2,162.5 v-0.46 M365.8,162.5 v-0.4 M366.4,162.5 v-0 M367,162.5 v-0.25 M367.6,162.5 v-0.02 M368.2,162.5 v-0.27 M368.8,162.5 v-0.19 M369.4,162.5 v-0.34 M370,162.5 v-0 M370.6,162.5 v-0.03 M371.2,162.5 v-0.24 M371.8,162.5 v-0.51 M372.4,162.5 v-0.23 M373,162.5 v-0 M373.6,162.5 v-0.13 M374.2,162.5 v-0 M374.8,162.5 v-0.1 M375.4,162.5 v-0.31 M376,162.5 v-0 M376.6,162.5 v-0.48 M377.2,162.5 v-0.18 M377.8,162.5 v-0.01 M378.4,162.5 v-0 M379,162.5 v-0.05 M379.6,162.5 v-0.35 M380.2,162.5 v-0.12 M380.8,162.5 v-0 M381.4,162.5 v-0 M382,162.5 v-0 M382.6,162.5 v-0.31 M383.2,162.5 v-0 M383.8,162.5 v-0.1 M384.4,162.5 v-0.01 M385,162.5 v-0.19 M385.6,162.5 v-0.03 M386.2,162.5 v-0 M386.8,162.5 v-0.4 M387.4,162.5 v-0.09 M388,162.5 v-0.2 M388.6,162.5 v-0.32 M389.2,162.5 v-0.51 M389.8,162.5 v-0 M390.4,162.5 v-0.02 M391,162.5 v-0 M391.6,162.5 v-0.08 M392.2,162.5 v-0.4 M392.8,162.5 v-0.31 M393.4,162.5 v-0 M394,162.5 v-0 M394.6,162.5 v-0.33 M395.2,162.5 v-0.19 M395.8,162.5 v-0.04 M396.4,162.5 v-0.06 M397,162.5 v-0 M397.6,162.5 v-0.36 M398.2,162.5 v-0.04 M398.8,162.5 v-0.4 M399.4,162.5 v-0.14 M400,162.5 v-0 M400.6,162.5 v-0.02 M401.2,162.5 v-0.01 M401.8,162.5 v-0.43 M402.4,162.5 v-0.12 M403,162.5 v-0 M403.6,162.5 v-0 M404.2,162.5 v-0.03 M404.8,162.5 v-0.06 M405.4,162.5 v-0.12 M406,162.5 v-0.04 M406.6,162.5 v-0.03 M407.2,162.5 v-0 M407.8,162.5 v-0.12 M408.4,162.5 v-0.02 M409,162.5 v-0 M409.6,162.5 v-0.06 M410.2,162.5 v-0.58 M410.8,162.5 v-0 M411.4,162.5 v-0 M412,162.5 v-0.18 M412.6,162.5 v-0.01 M413.2,162.5 v-0.01 M413.8,162.5 v-0.08 M414.4,162.5 v-0.01 M415,162.5 v-0.11 M415.6,162.5 v-0.09 M416.2,162.5 v-0.53 M416.8,162.5 v-0.59 M417.4,162.5 v-0 M418,162.5 v-0.11 M418.6,162.5 v-0.27 M419.2,162.5 v-0.4 M419.8,162.5 v-0.28 M420.4,162.5 v-0.15 M421,162.5 v-0.15 M421.6,162.5 v-0.03 M422.2,162.5 v-0.01 M422.8,162.5 v-0.3 M423.4,162.5 v-0.4 M424,162.5 v-0.5 M424.6,162.5 v-0.19 M425.2,162.5 v-0.02 M425.8,162.5 v-0.27 M426.4,162.5 v-0.24 M427,162.5 v-0.08 M427.6,162.5 v-0.15 M428.2,162.5 v-0.03 M428.8,162.5 v-0.1 M429.4,162.5 v-0.04 M430,162.5 v-0 M430.6,162.5 v-0.02 M431.2,162.5 v-0.02 M431.8,162.5 v-0.58 M432.4,162.5 v-0.07 M433,162.5 v-0.03 M433.6,162.5 v-0.01 M434.2,162.5 v-0.01 M434.8,162.5 v-0.03 M435.4,162.5 v-0 M436,162.5 v-0 M436.6,162.5 v-0.4 M437.2,162.5 v-0.06 M437.8,162.5 v-0.05 M438.4,162.5 v-0.11 M439,162.5 v-0.02 M439.6,162.5 v-0 M440.2,162.5 v-0 M440.8,162.5 v-0.02 M441.4,162.5 v-0.02 M442,162.5 v-0.23 M442.6,162.5 v-0.1 M443.2,162.5 v-0.49 M443.8,162.5 v-0.02 M444.4,162.5 v-0.47 M445,162.5 v-0.12 M445.6,162.5 v-0 M446.2,162.5 v-0 M446.8,162.5 v-0.12 M447.4,162.5 v-0.58 M448,162.5 v-0.03 M448.6,162.5 v-0.28 M449.2,162.5 v-0.05 M449.8,162.5 v-0.39 M450.4,162.5 v-0 M451,162.5 v-0.07 M451.6,162.5 v-0.44 M452.2,162.5 v-0.01 M452.8,162.5 v-0.01 M453.4,162.5 v-0 M454,162.5 v-0 M454.6,162.5 v-0.01 M455.2,162.5 v-0.21 M455.8,162.5 v-0.01 M456.4,162.5 v-0.04 M457,162.5 v-0 M457.6,162.5 v-0.13 M458.2,162.5 v-0.39 M458.8,162.5 v-0.16 M459.4,162.5 v-0 M460,162.5 v-0.24 M460.6,162.5 v-0.54 M461.2,162.5 v-0.13 M461.8,162.5 v-0 M462.4,162.5 v-0.32 M463,162.5 v-0.4 M463.6,162.5 v-0.02 M464.2,162.5 v-0 " stroke="#1a1a1a" fill="none" stroke-width="0.45" opacity="0.6"/>
<line x1="67" y1="162.5" x2="72" y2="162.5" stroke="#4a4a4a" stroke-width="0.95"/>
<line x1="73.5" y1="162.5" x2="75.5" y2="162.5" stroke="#4a4a4a" stroke-width="0.95"/>
<line x1="78" y1="162.5" x2="464.5" y2="162.5" stroke="#4a4a4a" stroke-width="0.95"/>
<path d="M198.8,162.5 L199.84,153.05 L200.15,135.5 L200.65,135.5 L200.96,153.05 L202,162.5 Z" stroke="none" fill="#1a1a1a" stroke-width="1"/>
<path d="M192.8,162.5 L193.25,161.21 L193.25,158.8 L193.75,158.8 L193.75,161.21 L194.2,162.5 Z" stroke="none" fill="#1a1a1a" stroke-width="1"/>
<path d="M250.2,162.5 L250.78,158.82 L250.85,152 L251.35,152 L251.41,158.82 L252,162.5 Z" stroke="none" fill="#1a1a1a" stroke-width="1"/>
<path d="M331,162.5 L331.45,161.45 L331.45,159.5 L331.95,159.5 L331.94,161.45 L332.4,162.5 Z" stroke="none" fill="#1a1a1a" stroke-width="1"/>
<path d="M67,191.2 v-0 M67.6,191.2 v-0.08 M68.2,191.2 v-0.34 M68.8,191.2 v-0.13 M69.4,191.2 v-0.39 M70,191.2 v-0 M70.6,191.2 v-0.02 M71.2,191.2 v-0.21 M71.8,191.2 v-0.14 M72.4,191.2 v-0.03 M73,191.2 v-0.16 M73.6,191.2 v-0.02 M74.2,191.2 v-0 M74.8,191.2 v-0.04 M75.4,191.2 v-0 M76,191.2 v-0.12 M76.6,191.2 v-0.02 M77.2,191.2 v-0.06 M77.8,191.2 v-0.11 M78.4,191.2 v-0.01 M79,191.2 v-0.05 M79.6,191.2 v-0 M80.2,191.2 v-0.4 M80.8,191.2 v-0.09 M81.4,191.2 v-0.48 M82,191.2 v-0 M82.6,191.2 v-0.12 M83.2,191.2 v-0.19 M83.8,191.2 v-0.02 M84.4,191.2 v-0 M85,191.2 v-0 M85.6,191.2 v-0 M86.2,191.2 v-0.23 M86.8,191.2 v-0 M87.4,191.2 v-0.27 M88,191.2 v-0.04 M88.6,191.2 v-0.08 M89.2,191.2 v-0.1 M89.8,191.2 v-0.09 M90.4,191.2 v-0.14 M91,191.2 v-0.11 M91.6,191.2 v-0.02 M92.2,191.2 v-0.2 M92.8,191.2 v-0.01 M93.4,191.2 v-0.18 M94,191.2 v-0.22 M94.6,191.2 v-0.23 M95.2,191.2 v-0.01 M95.8,191.2 v-0.23 M96.4,191.2 v-0.47 M97,191.2 v-0.05 M97.6,191.2 v-0.01 M98.2,191.2 v-0.07 M98.8,191.2 v-0.42 M99.4,191.2 v-0 M100,191.2 v-0 M100.6,191.2 v-0.05 M101.2,191.2 v-0.14 M101.8,191.2 v-0.23 M102.4,191.2 v-0.02 M103,191.2 v-0.48 M103.6,191.2 v-0.01 M104.2,191.2 v-0.22 M104.8,191.2 v-0 M105.4,191.2 v-0 M106,191.2 v-0 M106.6,191.2 v-0 M107.2,191.2 v-0.06 M107.8,191.2 v-0.09 M108.4,191.2 v-0 M109,191.2 v-0.41 M109.6,191.2 v-0.02 M110.2,191.2 v-0 M110.8,191.2 v-0 M111.4,191.2 v-0.2 M112,191.2 v-0.39 M112.6,191.2 v-0 M113.2,191.2 v-0 M113.8,191.2 v-0.24 M114.4,191.2 v-0.01 M115,191.2 v-0.47 M115.6,191.2 v-0.06 M116.2,191.2 v-0.13 M116.8,191.2 v-0.02 M117.4,191.2 v-0.26 M118,191.2 v-0.05 M118.6,191.2 v-0.02 M119.2,191.2 v-0.37 M119.8,191.2 v-0 M120.4,191.2 v-0.2 M121,191.2 v-0 M121.6,191.2 v-0.13 M122.2,191.2 v-0.03 M122.8,191.2 v-0.32 M123.4,191.2 v-0 M124,191.2 v-0.09 M124.6,191.2 v-0.03 M125.2,191.2 v-0.39 M125.8,191.2 v-0.42 M126.4,191.2 v-0.12 M127,191.2 v-0.01 M127.6,191.2 v-0.01 M128.2,191.2 v-0.01 M128.8,191.2 v-0.04 M129.4,191.2 v-0.01 M130,191.2 v-0 M130.6,191.2 v-0.22 M131.2,191.2 v-0.13 M131.8,191.2 v-0.01 M132.4,191.2 v-0.49 M133,191.2 v-0.01 M133.6,191.2 v-0.09 M134.2,191.2 v-0 M134.8,191.2 v-0.32 M135.4,191.2 v-0.33 M136,191.2 v-0.01 M136.6,191.2 v-0.21 M137.2,191.2 v-0.28 M137.8,191.2 v-0.01 M138.4,191.2 v-0.02 M139,191.2 v-0.06 M139.6,191.2 v-0.35 M140.2,191.2 v-0 M140.8,191.2 v-0.16 M141.4,191.2 v-0.11 M142,191.2 v-0.05 M142.6,191.2 v-0.1 M143.2,191.2 v-0.34 M143.8,191.2 v-0 M144.4,191.2 v-0.34 M145,191.2 v-0.02 M145.6,191.2 v-0.24 M146.2,191.2 v-0.32 M146.8,191.2 v-0 M147.4,191.2 v-0.32 M148,191.2 v-0.49 M148.6,191.2 v-0.01 M149.2,191.2 v-0 M149.8,191.2 v-0 M150.4,191.2 v-0.46 M151,191.2 v-0 M151.6,191.2 v-0.38 M152.2,191.2 v-0 M152.8,191.2 v-0.2 M153.4,191.2 v-0 M154,191.2 v-0 M154.6,191.2 v-0.16 M155.2,191.2 v-0 M155.8,191.2 v-0.02 M156.4,191.2 v-0.39 M157,191.2 v-0.18 M157.6,191.2 v-0.34 M158.2,191.2 v-0.47 M158.8,191.2 v-0 M159.4,191.2 v-0.01 M160,191.2 v-0.25 M160.6,191.2 v-0.16 M161.2,191.2 v-0 M161.8,191.2 v-0.06 M162.4,191.2 v-0.01 M163,191.2 v-0.04 M163.6,191.2 v-0 M164.2,191.2 v-0 M164.8,191.2 v-0.49 M165.4,191.2 v-0.02 M166,191.2 v-0.34 M166.6,191.2 v-0 M167.2,191.2 v-0.06 M167.8,191.2 v-0 M168.4,191.2 v-0.04 M169,191.2 v-0 M169.6,191.2 v-0.16 M170.2,191.2 v-0 M170.8,191.2 v-0.2 M171.4,191.2 v-0.06 M172,191.2 v-0 M172.6,191.2 v-0.02 M173.2,191.2 v-0.06 M173.8,191.2 v-0.39 M174.4,191.2 v-0.02 M175,191.2 v-0 M175.6,191.2 v-0.45 M176.2,191.2 v-0.34 M176.8,191.2 v-0.2 M177.4,191.2 v-0.01 M178,191.2 v-0 M178.6,191.2 v-0.01 M179.2,191.2 v-0 M179.8,191.2 v-0 M180.4,191.2 v-0.07 M181,191.2 v-0.03 M181.6,191.2 v-0.09 M182.2,191.2 v-0.02 M182.8,191.2 v-0 M183.4,191.2 v-0.16 M184,191.2 v-0.14 M184.6,191.2 v-0.08 M185.2,191.2 v-0.08 M185.8,191.2 v-0.16 M186.4,191.2 v-0.47 M187,191.2 v-0.33 M187.6,191.2 v-0.18 M188.2,191.2 v-0.03 M188.8,191.2 v-0.02 M189.4,191.2 v-0.04 M190,191.2 v-0.46 M190.6,191.2 v-0.03 M191.2,191.2 v-0.03 M191.8,191.2 v-0.03 M192.4,191.2 v-0 M193,191.2 v-0.5 M193.6,191.2 v-0 M194.2,191.2 v-0.11 M194.8,191.2 v-0.4 M195.4,191.2 v-0.01 M196,191.2 v-0.11 M196.6,191.2 v-0.03 M197.2,191.2 v-0.01 M197.8,191.2 v-0 M198.4,191.2 v-0 M199,191.2 v-0.3 M199.6,191.2 v-0.24 M200.2,191.2 v-0.37 M200.8,191.2 v-0 M201.4,191.2 v-0.17 M202,191.2 v-0.02 M202.6,191.2 v-0.13 M203.2,191.2 v-0.08 M203.8,191.2 v-0.02 M204.4,191.2 v-0.46 M205,191.2 v-0 M205.6,191.2 v-0.21 M206.2,191.2 v-0.31 M206.8,191.2 v-0.07 M207.4,191.2 v-0.1 M208,191.2 v-0.49 M208.6,191.2 v-0.01 M209.2,191.2 v-0.12 M209.8,191.2 v-0.21 M210.4,191.2 v-0.03 M211,191.2 v-0.18 M211.6,191.2 v-0.03 M212.2,191.2 v-0.07 M212.8,191.2 v-0.12 M213.4,191.2 v-0.16 M214,191.2 v-0.02 M214.6,191.2 v-0.12 M215.2,191.2 v-0.08 M215.8,191.2 v-0.01 M216.4,191.2 v-0.11 M217,191.2 v-0.01 M217.6,191.2 v-0.38 M218.2,191.2 v-0.05 M218.8,191.2 v-0.19 M219.4,191.2 v-0.07 M220,191.2 v-0.05 M220.6,191.2 v-0.01 M221.2,191.2 v-0 M221.8,191.2 v-0.4 M222.4,191.2 v-0.07 M223,191.2 v-0.07 M223.6,191.2 v-0.07 M224.2,191.2 v-0.27 M224.8,191.2 v-0.01 M225.4,191.2 v-0 M226,191.2 v-0.28 M226.6,191.2 v-0.05 M227.2,191.2 v-0.13 M227.8,191.2 v-0.28 M228.4,191.2 v-0.36 M229,191.2 v-0.33 M229.6,191.2 v-0 M230.2,191.2 v-0.03 M230.8,191.2 v-0.29 M231.4,191.2 v-0.27 M232,191.2 v-0 M232.6,191.2 v-0 M233.2,191.2 v-0.01 M233.8,191.2 v-0 M234.4,191.2 v-0.02 M235,191.2 v-0.26 M235.6,191.2 v-0.07 M236.2,191.2 v-0.05 M236.8,191.2 v-0 M237.4,191.2 v-0.03 M238,191.2 v-0.5 M238.6,191.2 v-0.17 M239.2,191.2 v-0.05 M239.8,191.2 v-0.05 M240.4,191.2 v-0.25 M241,191.2 v-0.22 M241.6,191.2 v-0 M242.2,191.2 v-0.16 M242.8,191.2 v-0.02 M243.4,191.2 v-0.07 M244,191.2 v-0.01 M244.6,191.2 v-0.03 M245.2,191.2 v-0.02 M245.8,191.2 v-0.03 M246.4,191.2 v-0 M247,191.2 v-0 M247.6,191.2 v-0.09 M248.2,191.2 v-0 M248.8,191.2 v-0 M249.4,191.2 v-0.19 M250,191.2 v-0.01 M250.6,191.2 v-0.02 M251.2,191.2 v-0.01 M251.8,191.2 v-0.29 M252.4,191.2 v-0 M253,191.2 v-0.13 M253.6,191.2 v-0.32 M254.2,191.2 v-0 M254.8,191.2 v-0.04 M255.4,191.2 v-0.25 M256,191.2 v-0.12 M256.6,191.2 v-0.03 M257.2,191.2 v-0 M257.8,191.2 v-0.04 M258.4,191.2 v-0.02 M259,191.2 v-0.18 M259.6,191.2 v-0.01 M260.2,191.2 v-0.03 M260.8,191.2 v-0.14 M261.4,191.2 v-0.27 M262,191.2 v-0.02 M262.6,191.2 v-0.03 M263.2,191.2 v-0.1 M263.8,191.2 v-0.4 M264.4,191.2 v-0 M265,191.2 v-0.46 M265.6,191.2 v-0.18 M266.2,191.2 v-0.03 M266.8,191.2 v-0.15 M267.4,191.2 v-0.02 M268,191.2 v-0 M268.6,191.2 v-0.22 M269.2,191.2 v-0.03 M269.8,191.2 v-0.07 M270.4,191.2 v-0.06 M271,191.2 v-0.37 M271.6,191.2 v-0.22 M272.2,191.2 v-0 M272.8,191.2 v-0.1 M273.4,191.2 v-0.05 M274,191.2 v-0.05 M274.6,191.2 v-0.3 M275.2,191.2 v-0.04 M275.8,191.2 v-0.05 M276.4,191.2 v-0.35 M277,191.2 v-0.04 M277.6,191.2 v-0.06 M278.2,191.2 v-0.07 M278.8,191.2 v-0.28 M279.4,191.2 v-0.15 M280,191.2 v-0.2 M280.6,191.2 v-0.03 M281.2,191.2 v-0 M281.8,191.2 v-0.16 M282.4,191.2 v-0.08 M283,191.2 v-0.23 M283.6,191.2 v-0.23 M284.2,191.2 v-0 M284.8,191.2 v-0.01 M285.4,191.2 v-0 M286,191.2 v-0.27 M286.6,191.2 v-0 M287.2,191.2 v-0 M287.8,191.2 v-0.21 M288.4,191.2 v-0.09 M289,191.2 v-0 M289.6,191.2 v-0.16 M290.2,191.2 v-0.18 M290.8,191.2 v-0.06 M291.4,191.2 v-0 M292,191.2 v-0.16 M292.6,191.2 v-0.04 M293.2,191.2 v-0.1 M293.8,191.2 v-0.5 M294.4,191.2 v-0.27 M295,191.2 v-0.33 M295.6,191.2 v-0 M296.2,191.2 v-0.02 M296.8,191.2 v-0.07 M297.4,191.2 v-0 M298,191.2 v-0.48 M298.6,191.2 v-0.01 M299.2,191.2 v-0.01 M299.8,191.2 v-0.02 M300.4,191.2 v-0.01 M301,191.2 v-0.32 M301.6,191.2 v-0.09 M302.2,191.2 v-0.07 M302.8,191.2 v-0.04 M303.4,191.2 v-0 M304,191.2 v-0.01 M304.6,191.2 v-0.33 M305.2,191.2 v-0.26 M305.8,191.2 v-0.31 M306.4,191.2 v-0.01 M307,191.2 v-0 M307.6,191.2 v-0 M308.2,191.2 v-0.08 M308.8,191.2 v-0.03 M309.4,191.2 v-0.05 M310,191.2 v-0.06 M310.6,191.2 v-0.1 M311.2,191.2 v-0.02 M311.8,191.2 v-0.26 M312.4,191.2 v-0 M313,191.2 v-0.39 M313.6,191.2 v-0.09 M314.2,191.2 v-0 M314.8,191.2 v-0.02 M315.4,191.2 v-0.08 M316,191.2 v-0.03 M316.6,191.2 v-0.09 M317.2,191.2 v-0.02 M317.8,191.2 v-0.01 M318.4,191.2 v-0.25 M319,191.2 v-0.01 M319.6,191.2 v-0.18 M320.2,191.2 v-0.26 M320.8,191.2 v-0.1 M321.4,191.2 v-0.05 M322,191.2 v-0.41 M322.6,191.2 v-0.04 M323.2,191.2 v-0.34 M323.8,191.2 v-0 M324.4,191.2 v-0.04 M325,191.2 v-0.13 M325.6,191.2 v-0 M326.2,191.2 v-0.32 M326.8,191.2 v-0 M327.4,191.2 v-0.11 M328,191.2 v-0 M328.6,191.2 v-0.39 M329.2,191.2 v-0.09 M329.8,191.2 v-0.26 M330.4,191.2 v-0.06 M331,191.2 v-0.15 M331.6,191.2 v-0.15 M332.2,191.2 v-0.01 M332.8,191.2 v-0 M333.4,191.2 v-0.29 M334,191.2 v-0 M334.6,191.2 v-0.39 M335.2,191.2 v-0 M335.8,191.2 v-0 M336.4,191.2 v-0 M337,191.2 v-0.24 M337.6,191.2 v-0.43 M338.2,191.2 v-0.04 M338.8,191.2 v-0.14 M339.4,191.2 v-0.01 M340,191.2 v-0.37 M340.6,191.2 v-0.16 M341.2,191.2 v-0 M341.8,191.2 v-0 M342.4,191.2 v-0.17 M343,191.2 v-0 M343.6,191.2 v-0.29 M344.2,191.2 v-0.01 M344.8,191.2 v-0.01 M345.4,191.2 v-0.1 M346,191.2 v-0.02 M346.6,191.2 v-0.09 M347.2,191.2 v-0 M347.8,191.2 v-0.38 M348.4,191.2 v-0.02 M349,191.2 v-0.3 M349.6,191.2 v-0 M350.2,191.2 v-0.26 M350.8,191.2 v-0.47 M351.4,191.2 v-0.03 M352,191.2 v-0 M352.6,191.2 v-0.03 M353.2,191.2 v-0.13 M353.8,191.2 v-0.01 M354.4,191.2 v-0.08 M355,191.2 v-0 M355.6,191.2 v-0.05 M356.2,191.2 v-0.19 M356.8,191.2 v-0.04 M357.4,191.2 v-0.16 M358,191.2 v-0 M358.6,191.2 v-0.28 M359.2,191.2 v-0 M359.8,191.2 v-0.39 M360.4,191.2 v-0.49 M361,191.2 v-0.41 M361.6,191.2 v-0.07 M362.2,191.2 v-0.01 M362.8,191.2 v-0.02 M363.4,191.2 v-0.21 M364,191.2 v-0.06 M364.6,191.2 v-0.4 M365.2,191.2 v-0 M365.8,191.2 v-0.06 M366.4,191.2 v-0.32 M367,191.2 v-0.11 M367.6,191.2 v-0.08 M368.2,191.2 v-0 M368.8,191.2 v-0 M369.4,191.2 v-0.01 M370,191.2 v-0.36 M370.6,191.2 v-0.3 M371.2,191.2 v-0.01 M371.8,191.2 v-0.4 M372.4,191.2 v-0 M373,191.2 v-0.11 M373.6,191.2 v-0.45 M374.2,191.2 v-0.02 M374.8,191.2 v-0.42 M375.4,191.2 v-0.14 M376,191.2 v-0 M376.6,191.2 v-0.02 M377.2,191.2 v-0.05 M377.8,191.2 v-0.01 M378.4,191.2 v-0.2 M379,191.2 v-0 M379.6,191.2 v-0.24 M380.2,191.2 v-0.01 M380.8,191.2 v-0 M381.4,191.2 v-0.09 M382,191.2 v-0 M382.6,191.2 v-0.08 M383.2,191.2 v-0.24 M383.8,191.2 v-0.11 M384.4,191.2 v-0.05 M385,191.2 v-0 M385.6,191.2 v-0.07 M386.2,191.2 v-0 M386.8,191.2 v-0.14 M387.4,191.2 v-0 M388,191.2 v-0.1 M388.6,191.2 v-0.02 M389.2,191.2 v-0.03 M389.8,191.2 v-0.15 M390.4,191.2 v-0 M391,191.2 v-0 M391.6,191.2 v-0.42 M392.2,191.2 v-0.02 M392.8,191.2 v-0.3 M393.4,191.2 v-0.33 M394,191.2 v-0.06 M394.6,191.2 v-0 M395.2,191.2 v-0 M395.8,191.2 v-0.34 M396.4,191.2 v-0 M397,191.2 v-0.06 M397.6,191.2 v-0.08 M398.2,191.2 v-0 M398.8,191.2 v-0.05 M399.4,191.2 v-0 M400,191.2 v-0.08 M400.6,191.2 v-0.07 M401.2,191.2 v-0.02 M401.8,191.2 v-0 M402.4,191.2 v-0.03 M403,191.2 v-0 M403.6,191.2 v-0 M404.2,191.2 v-0.01 M404.8,191.2 v-0.33 M405.4,191.2 v-0.06 M406,191.2 v-0.35 M406.6,191.2 v-0 M407.2,191.2 v-0.42 M407.8,191.2 v-0.06 M408.4,191.2 v-0.25 M409,191.2 v-0.09 M409.6,191.2 v-0.16 M410.2,191.2 v-0.01 M410.8,191.2 v-0.21 M411.4,191.2 v-0 M412,191.2 v-0.01 M412.6,191.2 v-0 M413.2,191.2 v-0.03 M413.8,191.2 v-0.07 M414.4,191.2 v-0.01 M415,191.2 v-0.35 M415.6,191.2 v-0 M416.2,191.2 v-0.1 M416.8,191.2 v-0.01 M417.4,191.2 v-0.11 M418,191.2 v-0.24 M418.6,191.2 v-0.18 M419.2,191.2 v-0 M419.8,191.2 v-0.01 M420.4,191.2 v-0.11 M421,191.2 v-0.47 M421.6,191.2 v-0 M422.2,191.2 v-0.12 M422.8,191.2 v-0.17 M423.4,191.2 v-0.27 M424,191.2 v-0.02 M424.6,191.2 v-0.27 M425.2,191.2 v-0.05 M425.8,191.2 v-0.39 M426.4,191.2 v-0 M427,191.2 v-0.42 M427.6,191.2 v-0.03 M428.2,191.2 v-0.03 M428.8,191.2 v-0 M429.4,191.2 v-0.01 M430,191.2 v-0.2 M430.6,191.2 v-0.16 M431.2,191.2 v-0 M431.8,191.2 v-0.02 M432.4,191.2 v-0 M433,191.2 v-0 M433.6,191.2 v-0.01 M434.2,191.2 v-0.02 M434.8,191.2 v-0.46 M435.4,191.2 v-0.5 M436,191.2 v-0.25 M436.6,191.2 v-0.06 M437.2,191.2 v-0.06 M437.8,191.2 v-0.24 M438.4,191.2 v-0.37 M439,191.2 v-0.21 M439.6,191.2 v-0.13 M440.2,191.2 v-0 M440.8,191.2 v-0.12 M441.4,191.2 v-0.3 M442,191.2 v-0.24 M442.6,191.2 v-0 M443.2,191.2 v-0.18 M443.8,191.2 v-0.02 M444.4,191.2 v-0 M445,191.2 v-0.45 M445.6,191.2 v-0.15 M446.2,191.2 v-0.21 M446.8,191.2 v-0 M447.4,191.2 v-0.28 M448,191.2 v-0.41 M448.6,191.2 v-0.37 M449.2,191.2 v-0.21 M449.8,191.2 v-0.29 M450.4,191.2 v-0.26 M451,191.2 v-0.1 M451.6,191.2 v-0.04 M452.2,191.2 v-0.28 M452.8,191.2 v-0.24 M453.4,191.2 v-0.33 M454,191.2 v-0.01 M454.6,191.2 v-0.44 M455.2,191.2 v-0.08 M455.8,191.2 v-0.42 M456.4,191.2 v-0 M457,191.2 v-0.45 M457.6,191.2 v-0.24 M458.2,191.2 v-0.01 M458.8,191.2 v-0.29 M459.4,191.2 v-0.01 M460,191.2 v-0 M460.6,191.2 v-0.05 M461.2,191.2 v-0.01 M461.8,191.2 v-0.06 M462.4,191.2 v-0.37 M463,191.2 v-0.16 M463.6,191.2 v-0.18 M464.2,191.2 v-0.03 " stroke="#1a1a1a" fill="none" stroke-width="0.45" opacity="0.6"/>
<line x1="67" y1="191.2" x2="72" y2="191.2" stroke="#4a4a4a" stroke-width="0.95"/>
<line x1="73.5" y1="191.2" x2="75.5" y2="191.2" stroke="#4a4a4a" stroke-width="0.95"/>
<line x1="78" y1="191.2" x2="464.5" y2="191.2" stroke="#4a4a4a" stroke-width="0.95"/>
<path d="M199.1,191.2 L200.01,181.75 L200.25,164.2 L200.75,164.2 L200.99,181.75 L201.9,191.2 Z" stroke="none" fill="#1a1a1a" stroke-width="1"/>
<path d="M250.2,191.2 L250.78,189.87 L250.85,187.4 L251.35,187.4 L251.41,189.87 L252,191.2 Z" stroke="none" fill="#1a1a1a" stroke-width="1"/>
<line x1="146" y1="195.2" x2="383.2" y2="195.2" stroke="#5058aa" stroke-width="0.95"/>
<path d="M148.3,194.2 L149.3,195.2 L148.3,196.2" stroke="#5058aa" fill="none" stroke-width="0.5"/>
<path d="M150.9,194.2 L151.9,195.2 L150.9,196.2" stroke="#5058aa" fill="none" stroke-width="0.5"/>
<path d="M153.5,194.2 L154.5,195.2 L153.5,196.2" stroke="#5058aa" fill="none" stroke-width="0.5"/>
<path d="M156.1,194.2 L157.1,195.2 L156.1,196.2" stroke="#5058aa" fill="none" stroke-width="0.5"/>
<path d="M158.7,194.2 L159.7,195.2 L158.7,196.2" stroke="#5058aa" fill="none" stroke-width="0.5"/>
<path d="M161.3,194.2 L162.3,195.2 L161.3,196.2" stroke="#5058aa" fill="none" stroke-width="0.5"/>
<path d="M163.9,194.2 L164.9,195.2 L163.9,196.2" stroke="#5058aa" fill="none" stroke-width="0.5"/>
<path d="M166.5,194.2 L167.5,195.2 L166.5,196.2" stroke="#5058aa" fill="none" stroke-width="0.5"/>
<path d="M169.1,194.2 L170.1,195.2 L169.1,196.2" stroke="#5058aa" fill="none" stroke-width="0.5"/>
<path d="M171.7,194.2 L172.7,195.2 L171.7,196.2" stroke="#5058aa" fill="none" stroke-width="0.5"/>
<path d="M174.3,194.2 L175.3,195.2 L174.3,196.2" stroke="#5058aa" fill="none" stroke-width="0.5"/>
<path d="M176.9,194.2 L177.9,195.2 L176.9,196.2" stroke="#5058aa" fill="none" stroke-width="0.5"/>
<path d="M179.5,194.2 L180.5,195.2 L179.5,196.2" stroke="#5058aa" fill="none" stroke-width="0.5"/>
<path d="M182.1,194.2 L183.1,195.2 L182.1,196.2" stroke="#5058aa" fill="none" stroke-width="0.5"/>
<path d="M184.7,194.2 L185.7,195.2 L184.7,196.2" stroke="#5058aa" fill="none" stroke-width="0.5"/>
<path d="M187.3,194.2 L188.3,195.2 L187.3,196.2" stroke="#5058aa" fill="none" stroke-width="0.5"/>
<path d="M189.9,194.2 L190.9,195.2 L189.9,196.2" stroke="#5058aa" fill="none" stroke-width="0.5"/>
<path d="M192.5,194.2 L193.5,195.2 L192.5,196.2" stroke="#5058aa" fill="none" stroke-width="0.5"/>
<path d="M195.1,194.2 L196.1,195.2 L195.1,196.2" stroke="#5058aa" fill="none" stroke-width="0.5"/>
<path d="M197.7,194.2 L198.7,195.2 L197.7,196.2" stroke="#5058aa" fill="none" stroke-width="0.5"/>
<path d="M200.3,194.2 L201.3,195.2 L200.3,196.2" stroke="#5058aa" fill="none" stroke-width="0.5"/>
<path d="M202.9,194.2 L203.9,195.2 L202.9,196.2" stroke="#5058aa" fill="none" stroke-width="0.5"/>
<path d="M205.5,194.2 L206.5,195.2 L205.5,196.2" stroke="#5058aa" fill="none" stroke-width="0.5"/>
<path d="M208.1,194.2 L209.1,195.2 L208.1,196.2" stroke="#5058aa" fill="none" stroke-width="0.5"/>
<path d="M210.7,194.2 L211.7,195.2 L210.7,196.2" stroke="#5058aa" fill="none" stroke-width="0.5"/>
<path d="M213.3,194.2 L214.3,195.2 L213.3,196.2" stroke="#5058aa" fill="none" stroke-width="0.5"/>
<path d="M215.9,194.2 L216.9,195.2 L215.9,196.2" stroke="#5058aa" fill="none" stroke-width="0.5"/>
<path d="M218.5,194.2 L219.5,195.2 L218.5,196.2" stroke="#5058aa" fill="none" stroke-width="0.5"/>
<path d="M221.1,194.2 L222.1,195.2 L221.1,196.2" stroke="#5058aa" fill="none" stroke-width="0.5"/>
<path d="M223.7,194.2 L224.7,195.2 L223.7,196.2" stroke="#5058aa" fill="none" stroke-width="0.5"/>
<path d="M226.3,194.2 L227.3,195.2 L226.3,196.2" stroke="#5058aa" fill="none" stroke-width="0.5"/>
<path d="M228.9,194.2 L229.9,195.2 L228.9,196.2" stroke="#5058aa" fill="none" stroke-width="0.5"/>
<path d="M231.5,194.2 L232.5,195.2 L231.5,196.2" stroke="#5058aa" fill="none" stroke-width="0.5"/>
<path d="M234.1,194.2 L235.1,195.2 L234.1,196.2" stroke="#5058aa" fill="none" stroke-width="0.5"/>
<path d="M236.7,194.2 L237.7,195.2 L236.7,196.2" stroke="#5058aa" fill="none" stroke-width="0.5"/>
<path d="M239.3,194.2 L240.3,195.2 L239.3,196.2" stroke="#5058aa" fill="none" stroke-width="0.5"/>
<path d="M241.9,194.2 L242.9,195.2 L241.9,196.2" stroke="#5058aa" fill="none" stroke-width="0.5"/>
<path d="M244.5,194.2 L245.5,195.2 L244.5,196.2" stroke="#5058aa" fill="none" stroke-width="0.5"/>
<path d="M247.1,194.2 L248.1,195.2 L247.1,196.2" stroke="#5058aa" fill="none" stroke-width="0.5"/>
<path d="M249.7,194.2 L250.7,195.2 L249.7,196.2" stroke="#5058aa" fill="none" stroke-width="0.5"/>
<path d="M252.3,194.2 L253.3,195.2 L252.3,196.2" stroke="#5058aa" fill="none" stroke-width="0.5"/>
<path d="M254.9,194.2 L255.9,195.2 L254.9,196.2" stroke="#5058aa" fill="none" stroke-width="0.5"/>
<path d="M257.5,194.2 L258.5,195.2 L257.5,196.2" stroke="#5058aa" fill="none" stroke-width="0.5"/>
<path d="M260.1,194.2 L261.1,195.2 L260.1,196.2" stroke="#5058aa" fill="none" stroke-width="0.5"/>
<path d="M262.7,194.2 L263.7,195.2 L262.7,196.2" stroke="#5058aa" fill="none" stroke-width="0.5"/>
<path d="M265.3,194.2 L266.3,195.2 L265.3,196.2" stroke="#5058aa" fill="none" stroke-width="0.5"/>
<path d="M267.9,194.2 L268.9,195.2 L267.9,196.2" stroke="#5058aa" fill="none" stroke-width="0.5"/>
<path d="M270.5,194.2 L271.5,195.2 L270.5,196.2" stroke="#5058aa" fill="none" stroke-width="0.5"/>
<path d="M273.1,194.2 L274.1,195.2 L273.1,196.2" stroke="#5058aa" fill="none" stroke-width="0.5"/>
<path d="M275.7,194.2 L276.7,195.2 L275.7,196.2" stroke="#5058aa" fill="none" stroke-width="0.5"/>
<path d="M278.3,194.2 L279.3,195.2 L278.3,196.2" stroke="#5058aa" fill="none" stroke-width="0.5"/>
<path d="M280.9,194.2 L281.9,195.2 L280.9,196.2" stroke="#5058aa" fill="none" stroke-width="0.5"/>
<path d="M283.5,194.2 L284.5,195.2 L283.5,196.2" stroke="#5058aa" fill="none" stroke-width="0.5"/>
<path d="M286.1,194.2 L287.1,195.2 L286.1,196.2" stroke="#5058aa" fill="none" stroke-width="0.5"/>
<path d="M288.7,194.2 L289.7,195.2 L288.7,196.2" stroke="#5058aa" fill="none" stroke-width="0.5"/>
<path d="M291.3,194.2 L292.3,195.2 L291.3,196.2" stroke="#5058aa" fill="none" stroke-width="0.5"/>
<path d="M293.9,194.2 L294.9,195.2 L293.9,196.2" stroke="#5058aa" fill="none" stroke-width="0.5"/>
<path d="M296.5,194.2 L297.5,195.2 L296.5,196.2" stroke="#5058aa" fill="none" stroke-width="0.5"/>
<path d="M299.1,194.2 L300.1,195.2 L299.1,196.2" stroke="#5058aa" fill="none" stroke-width="0.5"/>
<path d="M301.7,194.2 L302.7,195.2 L301.7,196.2" stroke="#5058aa" fill="none" stroke-width="0.5"/>
<path d="M304.3,194.2 L305.3,195.2 L304.3,196.2" stroke="#5058aa" fill="none" stroke-width="0.5"/>
<path d="M306.9,194.2 L307.9,195.2 L306.9,196.2" stroke="#5058aa" fill="none" stroke-width="0.5"/>
<path d="M309.5,194.2 L310.5,195.2 L309.5,196.2" stroke="#5058aa" fill="none" stroke-width="0.5"/>
<path d="M312.1,194.2 L313.1,195.2 L312.1,196.2" stroke="#5058aa" fill="none" stroke-width="0.5"/>
<path d="M314.7,194.2 L315.7,195.2 L314.7,196.2" stroke="#5058aa" fill="none" stroke-width="0.5"/>
<path d="M317.3,194.2 L318.3,195.2 L317.3,196.2" stroke="#5058aa" fill="none" stroke-width="0.5"/>
<path d="M319.9,194.2 L320.9,195.2 L319.9,196.2" stroke="#5058aa" fill="none" stroke-width="0.5"/>
<path d="M322.5,194.2 L323.5,195.2 L322.5,196.2" stroke="#5058aa" fill="none" stroke-width="0.5"/>
<path d="M325.1,194.2 L326.1,195.2 L325.1,196.2" stroke="#5058aa" fill="none" stroke-width="0.5"/>
<path d="M327.7,194.2 L328.7,195.2 L327.7,196.2" stroke="#5058aa" fill="none" stroke-width="0.5"/>
<path d="M330.3,194.2 L331.3,195.2 L330.3,196.2" stroke="#5058aa" fill="none" stroke-width="0.5"/>
<path d="M332.9,194.2 L333.9,195.2 L332.9,196.2" stroke="#5058aa" fill="none" stroke-width="0.5"/>
<path d="M335.5,194.2 L336.5,195.2 L335.5,196.2" stroke="#5058aa" fill="none" stroke-width="0.5"/>
<path d="M338.1,194.2 L339.1,195.2 L338.1,196.2" stroke="#5058aa" fill="none" stroke-width="0.5"/>
<path d="M340.7,194.2 L341.7,195.2 L340.7,196.2" stroke="#5058aa" fill="none" stroke-width="0.5"/>
<path d="M343.3,194.2 L344.3,195.2 L343.3,196.2" stroke="#5058aa" fill="none" stroke-width="0.5"/>
<path d="M345.9,194.2 L346.9,195.2 L345.9,196.2" stroke="#5058aa" fill="none" stroke-width="0.5"/>
<path d="M348.5,194.2 L349.5,195.2 L348.5,196.2" stroke="#5058aa" fill="none" stroke-width="0.5"/>
<path d="M351.1,194.2 L352.1,195.2 L351.1,196.2" stroke="#5058aa" fill="none" stroke-width="0.5"/>
<path d="M353.7,194.2 L354.7,195.2 L353.7,196.2" stroke="#5058aa" fill="none" stroke-width="0.5"/>
<path d="M356.3,194.2 L357.3,195.2 L356.3,196.2" stroke="#5058aa" fill="none" stroke-width="0.5"/>
<path d="M358.9,194.2 L359.9,195.2 L358.9,196.2" stroke="#5058aa" fill="none" stroke-width="0.5"/>
<path d="M361.5,194.2 L362.5,195.2 L361.5,196.2" stroke="#5058aa" fill="none" stroke-width="0.5"/>
<path d="M364.1,194.2 L365.1,195.2 L364.1,196.2" stroke="#5058aa" fill="none" stroke-width="0.5"/>
<path d="M366.7,194.2 L367.7,195.2 L366.7,196.2" stroke="#5058aa" fill="none" stroke-width="0.5"/>
<path d="M369.3,194.2 L370.3,195.2 L369.3,196.2" stroke="#5058aa" fill="none" stroke-width="0.5"/>
<path d="M371.9,194.2 L372.9,195.2 L371.9,196.2" stroke="#5058aa" fill="none" stroke-width="0.5"/>
<path d="M374.5,194.2 L375.5,195.2 L374.5,196.2" stroke="#5058aa" fill="none" stroke-width="0.5"/>
<path d="M377.1,194.2 L378.1,195.2 L377.1,196.2" stroke="#5058aa" fill="none" stroke-width="0.5"/>
<path d="M379.7,194.2 L380.7,195.2 L379.7,196.2" stroke="#5058aa" fill="none" stroke-width="0.5"/>
<rect x="145.5" y="194" width="1.1" height="2.4" fill="#5058aa"/>
<rect x="216.4" y="194" width="1.1" height="2.4" fill="#5058aa"/>
<rect x="328.9" y="194" width="1.1" height="2.4" fill="#5058aa"/>
<rect x="351.2" y="194" width="1.1" height="2.4" fill="#5058aa"/>
<rect x="195.3" y="194" width="1.1" height="2.4" fill="#5058aa"/>
<rect x="381.8" y="193.6" width="1.9" height="3.2" fill="#5058aa"/>
<line x1="146" y1="199.7" x2="383.2" y2="199.7" stroke="#5058aa" stroke-width="0.95"/>
<path d="M148.3,198.7 L149.3,199.7 L148.3,200.7" stroke="#5058aa" fill="none" stroke-width="0.5"/>
<path d="M150.9,198.7 L151.9,199.7 L150.9,200.7" stroke="#5058aa" fill="none" stroke-width="0.5"/>
<path d="M153.5,198.7 L154.5,199.7 L153.5,200.7" stroke="#5058aa" fill="none" stroke-width="0.5"/>
<path d="M156.1,198.7 L157.1,199.7 L156.1,200.7" stroke="#5058aa" fill="none" stroke-width="0.5"/>
<path d="M158.7,198.7 L159.7,199.7 L158.7,200.7" stroke="#5058aa" fill="none" stroke-width="0.5"/>
<path d="M161.3,198.7 L162.3,199.7 L161.3,200.7" stroke="#5058aa" fill="none" stroke-width="0.5"/>
<path d="M163.9,198.7 L164.9,199.7 L163.9,200.7" stroke="#5058aa" fill="none" stroke-width="0.5"/>
<path d="M166.5,198.7 L167.5,199.7 L166.5,200.7" stroke="#5058aa" fill="none" stroke-width="0.5"/>
<path d="M169.1,198.7 L170.1,199.7 L169.1,200.7" stroke="#5058aa" fill="none" stroke-width="0.5"/>
<path d="M171.7,198.7 L172.7,199.7 L171.7,200.7" stroke="#5058aa" fill="none" stroke-width="0.5"/>
<path d="M174.3,198.7 L175.3,199.7 L174.3,200.7" stroke="#5058aa" fill="none" stroke-width="0.5"/>
<path d="M176.9,198.7 L177.9,199.7 L176.9,200.7" stroke="#5058aa" fill="none" stroke-width="0.5"/>
<path d="M179.5,198.7 L180.5,199.7 L179.5,200.7" stroke="#5058aa" fill="none" stroke-width="0.5"/>
<path d="M182.1,198.7 L183.1,199.7 L182.1,200.7" stroke="#5058aa" fill="none" stroke-width="0.5"/>
<path d="M184.7,198.7 L185.7,199.7 L184.7,200.7" stroke="#5058aa" fill="none" stroke-width="0.5"/>
<path d="M187.3,198.7 L188.3,199.7 L187.3,200.7" stroke="#5058aa" fill="none" stroke-width="0.5"/>
<path d="M189.9,198.7 L190.9,199.7 L189.9,200.7" stroke="#5058aa" fill="none" stroke-width="0.5"/>
<path d="M192.5,198.7 L193.5,199.7 L192.5,200.7" stroke="#5058aa" fill="none" stroke-width="0.5"/>
<path d="M195.1,198.7 L196.1,199.7 L195.1,200.7" stroke="#5058aa" fill="none" stroke-width="0.5"/>
<path d="M197.7,198.7 L198.7,199.7 L197.7,200.7" stroke="#5058aa" fill="none" stroke-width="0.5"/>
<path d="M200.3,198.7 L201.3,199.7 L200.3,200.7" stroke="#5058aa" fill="none" stroke-width="0.5"/>
<path d="M202.9,198.7 L203.9,199.7 L202.9,200.7" stroke="#5058aa" fill="none" stroke-width="0.5"/>
<path d="M205.5,198.7 L206.5,199.7 L205.5,200.7" stroke="#5058aa" fill="none" stroke-width="0.5"/>
<path d="M208.1,198.7 L209.1,199.7 L208.1,200.7" stroke="#5058aa" fill="none" stroke-width="0.5"/>
<path d="M210.7,198.7 L211.7,199.7 L210.7,200.7" stroke="#5058aa" fill="none" stroke-width="0.5"/>
<path d="M213.3,198.7 L214.3,199.7 L213.3,200.7" stroke="#5058aa" fill="none" stroke-width="0.5"/>
<path d="M215.9,198.7 L216.9,199.7 L215.9,200.7" stroke="#5058aa" fill="none" stroke-width="0.5"/>
<path d="M218.5,198.7 L219.5,199.7 L218.5,200.7" stroke="#5058aa" fill="none" stroke-width="0.5"/>
<path d="M221.1,198.7 L222.1,199.7 L221.1,200.7" stroke="#5058aa" fill="none" stroke-width="0.5"/>
<path d="M223.7,198.7 L224.7,199.7 L223.7,200.7" stroke="#5058aa" fill="none" stroke-width="0.5"/>
<path d="M226.3,198.7 L227.3,199.7 L226.3,200.7" stroke="#5058aa" fill="none" stroke-width="0.5"/>
<path d="M228.9,198.7 L229.9,199.7 L228.9,200.7" stroke="#5058aa" fill="none" stroke-width="0.5"/>
<path d="M231.5,198.7 L232.5,199.7 L231.5,200.7" stroke="#5058aa" fill="none" stroke-width="0.5"/>
<path d="M234.1,198.7 L235.1,199.7 L234.1,200.7" stroke="#5058aa" fill="none" stroke-width="0.5"/>
<path d="M236.7,198.7 L237.7,199.7 L236.7,200.7" stroke="#5058aa" fill="none" stroke-width="0.5"/>
<path d="M239.3,198.7 L240.3,199.7 L239.3,200.7" stroke="#5058aa" fill="none" stroke-width="0.5"/>
<path d="M241.9,198.7 L242.9,199.7 L241.9,200.7" stroke="#5058aa" fill="none" stroke-width="0.5"/>
<path d="M244.5,198.7 L245.5,199.7 L244.5,200.7" stroke="#5058aa" fill="none" stroke-width="0.5"/>
<path d="M247.1,198.7 L248.1,199.7 L247.1,200.7" stroke="#5058aa" fill="none" stroke-width="0.5"/>
<path d="M249.7,198.7 L250.7,199.7 L249.7,200.7" stroke="#5058aa" fill="none" stroke-width="0.5"/>
<path d="M252.3,198.7 L253.3,199.7 L252.3,200.7" stroke="#5058aa" fill="none" stroke-width="0.5"/>
<path d="M254.9,198.7 L255.9,199.7 L254.9,200.7" stroke="#5058aa" fill="none" stroke-width="0.5"/>
<path d="M257.5,198.7 L258.5,199.7 L257.5,200.7" stroke="#5058aa" fill="none" stroke-width="0.5"/>
<path d="M260.1,198.7 L261.1,199.7 L260.1,200.7" stroke="#5058aa" fill="none" stroke-width="0.5"/>
<path d="M262.7,198.7 L263.7,199.7 L262.7,200.7" stroke="#5058aa" fill="none" stroke-width="0.5"/>
<path d="M265.3,198.7 L266.3,199.7 L265.3,200.7" stroke="#5058aa" fill="none" stroke-width="0.5"/>
<path d="M267.9,198.7 L268.9,199.7 L267.9,200.7" stroke="#5058aa" fill="none" stroke-width="0.5"/>
<path d="M270.5,198.7 L271.5,199.7 L270.5,200.7" stroke="#5058aa" fill="none" stroke-width="0.5"/>
<path d="M273.1,198.7 L274.1,199.7 L273.1,200.7" stroke="#5058aa" fill="none" stroke-width="0.5"/>
<path d="M275.7,198.7 L276.7,199.7 L275.7,200.7" stroke="#5058aa" fill="none" stroke-width="0.5"/>
<path d="M278.3,198.7 L279.3,199.7 L278.3,200.7" stroke="#5058aa" fill="none" stroke-width="0.5"/>
<path d="M280.9,198.7 L281.9,199.7 L280.9,200.7" stroke="#5058aa" fill="none" stroke-width="0.5"/>
<path d="M283.5,198.7 L284.5,199.7 L283.5,200.7" stroke="#5058aa" fill="none" stroke-width="0.5"/>
<path d="M286.1,198.7 L287.1,199.7 L286.1,200.7" stroke="#5058aa" fill="none" stroke-width="0.5"/>
<path d="M288.7,198.7 L289.7,199.7 L288.7,200.7" stroke="#5058aa" fill="none" stroke-width="0.5"/>
<path d="M291.3,198.7 L292.3,199.7 L291.3,200.7" stroke="#5058aa" fill="none" stroke-width="0.5"/>
<path d="M293.9,198.7 L294.9,199.7 L293.9,200.7" stroke="#5058aa" fill="none" stroke-width="0.5"/>
<path d="M296.5,198.7 L297.5,199.7 L296.5,200.7" stroke="#5058aa" fill="none" stroke-width="0.5"/>
<path d="M299.1,198.7 L300.1,199.7 L299.1,200.7" stroke="#5058aa" fill="none" stroke-width="0.5"/>
<path d="M301.7,198.7 L302.7,199.7 L301.7,200.7" stroke="#5058aa" fill="none" stroke-width="0.5"/>
<path d="M304.3,198.7 L305.3,199.7 L304.3,200.7" stroke="#5058aa" fill="none" stroke-width="0.5"/>
<path d="M306.9,198.7 L307.9,199.7 L306.9,200.7" stroke="#5058aa" fill="none" stroke-width="0.5"/>
<path d="M309.5,198.7 L310.5,199.7 L309.5,200.7" stroke="#5058aa" fill="none" stroke-width="0.5"/>
<path d="M312.1,198.7 L313.1,199.7 L312.1,200.7" stroke="#5058aa" fill="none" stroke-width="0.5"/>
<path d="M314.7,198.7 L315.7,199.7 L314.7,200.7" stroke="#5058aa" fill="none" stroke-width="0.5"/>
<path d="M317.3,198.7 L318.3,199.7 L317.3,200.7" stroke="#5058aa" fill="none" stroke-width="0.5"/>
<path d="M319.9,198.7 L320.9,199.7 L319.9,200.7" stroke="#5058aa" fill="none" stroke-width="0.5"/>
<path d="M322.5,198.7 L323.5,199.7 L322.5,200.7" stroke="#5058aa" fill="none" stroke-width="0.5"/>
<path d="M325.1,198.7 L326.1,199.7 L325.1,200.7" stroke="#5058aa" fill="none" stroke-width="0.5"/>
<path d="M327.7,198.7 L328.7,199.7 L327.7,200.7" stroke="#5058aa" fill="none" stroke-width="0.5"/>
<path d="M330.3,198.7 L331.3,199.7 L330.3,200.7" stroke="#5058aa" fill="none" stroke-width="0.5"/>
<path d="M332.9,198.7 L333.9,199.7 L332.9,200.7" stroke="#5058aa" fill="none" stroke-width="0.5"/>
<path d="M335.5,198.7 L336.5,199.7 L335.5,200.7" stroke="#5058aa" fill="none" stroke-width="0.5"/>
<path d="M338.1,198.7 L339.1,199.7 L338.1,200.7" stroke="#5058aa" fill="none" stroke-width="0.5"/>
<path d="M340.7,198.7 L341.7,199.7 L340.7,200.7" stroke="#5058aa" fill="none" stroke-width="0.5"/>
<path d="M343.3,198.7 L344.3,199.7 L343.3,200.7" stroke="#5058aa" fill="none" stroke-width="0.5"/>
<path d="M345.9,198.7 L346.9,199.7 L345.9,200.7" stroke="#5058aa" fill="none" stroke-width="0.5"/>
<path d="M348.5,198.7 L349.5,199.7 L348.5,200.7" stroke="#5058aa" fill="none" stroke-width="0.5"/>
<path d="M351.1,198.7 L352.1,199.7 L351.1,200.7" stroke="#5058aa" fill="none" stroke-width="0.5"/>
<path d="M353.7,198.7 L354.7,199.7 L353.7,200.7" stroke="#5058aa" fill="none" stroke-width="0.5"/>
<path d="M356.3,198.7 L357.3,199.7 L356.3,200.7" stroke="#5058aa" fill="none" stroke-width="0.5"/>
<path d="M358.9,198.7 L359.9,199.7 L358.9,200.7" stroke="#5058aa" fill="none" stroke-width="0.5"/>
<path d="M361.5,198.7 L362.5,199.7 L361.5,200.7" stroke="#5058aa" fill="none" stroke-width="0.5"/>
<path d="M364.1,198.7 L365.1,199.7 L364.1,200.7" stroke="#5058aa" fill="none" stroke-width="0.5"/>
<path d="M366.7,198.7 L367.7,199.7 L366.7,200.7" stroke="#5058aa" fill="none" stroke-width="0.5"/>
<path d="M369.3,198.7 L370.3,199.7 L369.3,200.7" stroke="#5058aa" fill="none" stroke-width="0.5"/>
<path d="M371.9,198.7 L372.9,199.7 L371.9,200.7" stroke="#5058aa" fill="none" stroke-width="0.5"/>
<path d="M374.5,198.7 L375.5,199.7 L374.5,200.7" stroke="#5058aa" fill="none" stroke-width="0.5"/>
<path d="M377.1,198.7 L378.1,199.7 L377.1,200.7" stroke="#5058aa" fill="none" stroke-width="0.5"/>
<path d="M379.7,198.7 L380.7,199.7 L379.7,200.7" stroke="#5058aa" fill="none" stroke-width="0.5"/>
<rect x="145.5" y="198.5" width="1.1" height="2.4" fill="#5058aa"/>
<rect x="216.4" y="198.5" width="1.1" height="2.4" fill="#5058aa"/>
<rect x="328.9" y="198.5" width="1.1" height="2.4" fill="#5058aa"/>
<rect x="351.2" y="198.5" width="1.1" height="2.4" fill="#5058aa"/>
<rect x="195.3" y="198.5" width="1.1" height="2.4" fill="#5058aa"/>
<rect x="286.5" y="198.5" width="1.1" height="2.4" fill="#5058aa"/>
<rect x="381.8" y="198.1" width="1.9" height="3.2" fill="#5058aa"/>
<line x1="146" y1="204.3" x2="383.2" y2="204.3" stroke="#5058aa" stroke-width="0.95"/>
<path d="M148.3,203.3 L149.3,204.3 L148.3,205.3" stroke="#5058aa" fill="none" stroke-width="0.5"/>
<path d="M150.9,203.3 L151.9,204.3 L150.9,205.3" stroke="#5058aa" fill="none" stroke-width="0.5"/>
<path d="M153.5,203.3 L154.5,204.3 L153.5,205.3" stroke="#5058aa" fill="none" stroke-width="0.5"/>
<path d="M156.1,203.3 L157.1,204.3 L156.1,205.3" stroke="#5058aa" fill="none" stroke-width="0.5"/>
<path d="M158.7,203.3 L159.7,204.3 L158.7,205.3" stroke="#5058aa" fill="none" stroke-width="0.5"/>
<path d="M161.3,203.3 L162.3,204.3 L161.3,205.3" stroke="#5058aa" fill="none" stroke-width="0.5"/>
<path d="M163.9,203.3 L164.9,204.3 L163.9,205.3" stroke="#5058aa" fill="none" stroke-width="0.5"/>
<path d="M166.5,203.3 L167.5,204.3 L166.5,205.3" stroke="#5058aa" fill="none" stroke-width="0.5"/>
<path d="M169.1,203.3 L170.1,204.3 L169.1,205.3" stroke="#5058aa" fill="none" stroke-width="0.5"/>
<path d="M171.7,203.3 L172.7,204.3 L171.7,205.3" stroke="#5058aa" fill="none" stroke-width="0.5"/>
<path d="M174.3,203.3 L175.3,204.3 L174.3,205.3" stroke="#5058aa" fill="none" stroke-width="0.5"/>
<path d="M176.9,203.3 L177.9,204.3 L176.9,205.3" stroke="#5058aa" fill="none" stroke-width="0.5"/>
<path d="M179.5,203.3 L180.5,204.3 L179.5,205.3" stroke="#5058aa" fill="none" stroke-width="0.5"/>
<path d="M182.1,203.3 L183.1,204.3 L182.1,205.3" stroke="#5058aa" fill="none" stroke-width="0.5"/>
<path d="M184.7,203.3 L185.7,204.3 L184.7,205.3" stroke="#5058aa" fill="none" stroke-width="0.5"/>
<path d="M187.3,203.3 L188.3,204.3 L187.3,205.3" stroke="#5058aa" fill="none" stroke-width="0.5"/>
<path d="M189.9,203.3 L190.9,204.3 L189.9,205.3" stroke="#5058aa" fill="none" stroke-width="0.5"/>
<path d="M192.5,203.3 L193.5,204.3 L192.5,205.3" stroke="#5058aa" fill="none" stroke-width="0.5"/>
<path d="M195.1,203.3 L196.1,204.3 L195.1,205.3" stroke="#5058aa" fill="none" stroke-width="0.5"/>
<path d="M197.7,203.3 L198.7,204.3 L197.7,205.3" stroke="#5058aa" fill="none" stroke-width="0.5"/>
<path d="M200.3,203.3 L201.3,204.3 L200.3,205.3" stroke="#5058aa" fill="none" stroke-width="0.5"/>
<path d="M202.9,203.3 L203.9,204.3 L202.9,205.3" stroke="#5058aa" fill="none" stroke-width="0.5"/>
<path d="M205.5,203.3 L206.5,204.3 L205.5,205.3" stroke="#5058aa" fill="none" stroke-width="0.5"/>
<path d="M208.1,203.3 L209.1,204.3 L208.1,205.3" stroke="#5058aa" fill="none" stroke-width="0.5"/>
<path d="M210.7,203.3 L211.7,204.3 L210.7,205.3" stroke="#5058aa" fill="none" stroke-width="0.5"/>
<path d="M213.3,203.3 L214.3,204.3 L213.3,205.3" stroke="#5058aa" fill="none" stroke-width="0.5"/>
<path d="M215.9,203.3 L216.9,204.3 L215.9,205.3" stroke="#5058aa" fill="none" stroke-width="0.5"/>
<path d="M218.5,203.3 L219.5,204.3 L218.5,205.3" stroke="#5058aa" fill="none" stroke-width="0.5"/>
<path d="M221.1,203.3 L222.1,204.3 L221.1,205.3" stroke="#5058aa" fill="none" stroke-width="0.5"/>
<path d="M223.7,203.3 L224.7,204.3 L223.7,205.3" stroke="#5058aa" fill="none" stroke-width="0.5"/>
<path d="M226.3,203.3 L227.3,204.3 L226.3,205.3" stroke="#5058aa" fill="none" stroke-width="0.5"/>
<path d="M228.9,203.3 L229.9,204.3 L228.9,205.3" stroke="#5058aa" fill="none" stroke-width="0.5"/>
<path d="M231.5,203.3 L232.5,204.3 L231.5,205.3" stroke="#5058aa" fill="none" stroke-width="0.5"/>
<path d="M234.1,203.3 L235.1,204.3 L234.1,205.3" stroke="#5058aa" fill="none" stroke-width="0.5"/>
<path d="M236.7,203.3 L237.7,204.3 L236.7,205.3" stroke="#5058aa" fill="none" stroke-width="0.5"/>
<path d="M239.3,203.3 L240.3,204.3 L239.3,205.3" stroke="#5058aa" fill="none" stroke-width="0.5"/>
<path d="M241.9,203.3 L242.9,204.3 L241.9,205.3" stroke="#5058aa" fill="none" stroke-width="0.5"/>
<path d="M244.5,203.3 L245.5,204.3 L244.5,205.3" stroke="#5058aa" fill="none" stroke-width="0.5"/>
<path d="M247.1,203.3 L248.1,204.3 L247.1,205.3" stroke="#5058aa" fill="none" stroke-width="0.5"/>
<path d="M249.7,203.3 L250.7,204.3 L249.7,205.3" stroke="#5058aa" fill="none" stroke-width="0.5"/>
<path d="M252.3,203.3 L253.3,204.3 L252.3,205.3" stroke="#5058aa" fill="none" stroke-width="0.5"/>
<path d="M254.9,203.3 L255.9,204.3 L254.9,205.3" stroke="#5058aa" fill="none" stroke-width="0.5"/>
<path d="M257.5,203.3 L258.5,204.3 L257.5,205.3" stroke="#5058aa" fill="none" stroke-width="0.5"/>
<path d="M260.1,203.3 L261.1,204.3 L260.1,205.3" stroke="#5058aa" fill="none" stroke-width="0.5"/>
<path d="M262.7,203.3 L263.7,204.3 L262.7,205.3" stroke="#5058aa" fill="none" stroke-width="0.5"/>
<path d="M265.3,203.3 L266.3,204.3 L265.3,205.3" stroke="#5058aa" fill="none" stroke-width="0.5"/>
<path d="M267.9,203.3 L268.9,204.3 L267.9,205.3" stroke="#5058aa" fill="none" stroke-width="0.5"/>
<path d="M270.5,203.3 L271.5,204.3 L270.5,205.3" stroke="#5058aa" fill="none" stroke-width="0.5"/>
<path d="M273.1,203.3 L274.1,204.3 L273.1,205.3" stroke="#5058aa" fill="none" stroke-width="0.5"/>
<path d="M275.7,203.3 L276.7,204.3 L275.7,205.3" stroke="#5058aa" fill="none" stroke-width="0.5"/>
<path d="M278.3,203.3 L279.3,204.3 L278.3,205.3" stroke="#5058aa" fill="none" stroke-width="0.5"/>
<path d="M280.9,203.3 L281.9,204.3 L280.9,205.3" stroke="#5058aa" fill="none" stroke-width="0.5"/>
<path d="M283.5,203.3 L284.5,204.3 L283.5,205.3" stroke="#5058aa" fill="none" stroke-width="0.5"/>
<path d="M286.1,203.3 L287.1,204.3 L286.1,205.3" stroke="#5058aa" fill="none" stroke-width="0.5"/>
<path d="M288.7,203.3 L289.7,204.3 L288.7,205.3" stroke="#5058aa" fill="none" stroke-width="0.5"/>
<path d="M291.3,203.3 L292.3,204.3 L291.3,205.3" stroke="#5058aa" fill="none" stroke-width="0.5"/>
<path d="M293.9,203.3 L294.9,204.3 L293.9,205.3" stroke="#5058aa" fill="none" stroke-width="0.5"/>
<path d="M296.5,203.3 L297.5,204.3 L296.5,205.3" stroke="#5058aa" fill="none" stroke-width="0.5"/>
<path d="M299.1,203.3 L300.1,204.3 L299.1,205.3" stroke="#5058aa" fill="none" stroke-width="0.5"/>
<path d="M301.7,203.3 L302.7,204.3 L301.7,205.3" stroke="#5058aa" fill="none" stroke-width="0.5"/>
<path d="M304.3,203.3 L305.3,204.3 L304.3,205.3" stroke="#5058aa" fill="none" stroke-width="0.5"/>
<path d="M306.9,203.3 L307.9,204.3 L306.9,205.3" stroke="#5058aa" fill="none" stroke-width="0.5"/>
<path d="M309.5,203.3 L310.5,204.3 L309.5,205.3" stroke="#5058aa" fill="none" stroke-width="0.5"/>
<path d="M312.1,203.3 L313.1,204.3 L312.1,205.3" stroke="#5058aa" fill="none" stroke-width="0.5"/>
<path d="M314.7,203.3 L315.7,204.3 L314.7,205.3" stroke="#5058aa" fill="none" stroke-width="0.5"/>
<path d="M317.3,203.3 L318.3,204.3 L317.3,205.3" stroke="#5058aa" fill="none" stroke-width="0.5"/>
<path d="M319.9,203.3 L320.9,204.3 L319.9,205.3" stroke="#5058aa" fill="none" stroke-width="0.5"/>
<path d="M322.5,203.3 L323.5,204.3 L322.5,205.3" stroke="#5058aa" fill="none" stroke-width="0.5"/>
<path d="M325.1,203.3 L326.1,204.3 L325.1,205.3" stroke="#5058aa" fill="none" stroke-width="0.5"/>
<path d="M327.7,203.3 L328.7,204.3 L327.7,205.3" stroke="#5058aa" fill="none" stroke-width="0.5"/>
<path d="M330.3,203.3 L331.3,204.3 L330.3,205.3" stroke="#5058aa" fill="none" stroke-width="0.5"/>
<path d="M332.9,203.3 L333.9,204.3 L332.9,205.3" stroke="#5058aa" fill="none" stroke-width="0.5"/>
<path d="M335.5,203.3 L336.5,204.3 L335.5,205.3" stroke="#5058aa" fill="none" stroke-width="0.5"/>
<path d="M338.1,203.3 L339.1,204.3 L338.1,205.3" stroke="#5058aa" fill="none" stroke-width="0.5"/>
<path d="M340.7,203.3 L341.7,204.3 L340.7,205.3" stroke="#5058aa" fill="none" stroke-width="0.5"/>
<path d="M343.3,203.3 L344.3,204.3 L343.3,205.3" stroke="#5058aa" fill="none" stroke-width="0.5"/>
<path d="M345.9,203.3 L346.9,204.3 L345.9,205.3" stroke="#5058aa" fill="none" stroke-width="0.5"/>
<path d="M348.5,203.3 L349.5,204.3 L348.5,205.3" stroke="#5058aa" fill="none" stroke-width="0.5"/>
<path d="M351.1,203.3 L352.1,204.3 L351.1,205.3" stroke="#5058aa" fill="none" stroke-width="0.5"/>
<path d="M353.7,203.3 L354.7,204.3 L353.7,205.3" stroke="#5058aa" fill="none" stroke-width="0.5"/>
<path d="M356.3,203.3 L357.3,204.3 L356.3,205.3" stroke="#5058aa" fill="none" stroke-width="0.5"/>
<path d="M358.9,203.3 L359.9,204.3 L358.9,205.3" stroke="#5058aa" fill="none" stroke-width="0.5"/>
<path d="M361.5,203.3 L362.5,204.3 L361.5,205.3" stroke="#5058aa" fill="none" stroke-width="0.5"/>
<path d="M364.1,203.3 L365.1,204.3 L364.1,205.3" stroke="#5058aa" fill="none" stroke-width="0.5"/>
<path d="M366.7,203.3 L367.7,204.3 L366.7,205.3" stroke="#5058aa" fill="none" stroke-width="0.5"/>
<path d="M369.3,203.3 L370.3,204.3 L369.3,205.3" stroke="#5058aa" fill="none" stroke-width="0.5"/>
<path d="M371.9,203.3 L372.9,204.3 L371.9,205.3" stroke="#5058aa" fill="none" stroke-width="0.5"/>
<path d="M374.5,203.3 L375.5,204.3 L374.5,205.3" stroke="#5058aa" fill="none" stroke-width="0.5"/>
<path d="M377.1,203.3 L378.1,204.3 L377.1,205.3" stroke="#5058aa" fill="none" stroke-width="0.5"/>
<path d="M379.7,203.3 L380.7,204.3 L379.7,205.3" stroke="#5058aa" fill="none" stroke-width="0.5"/>
<rect x="145.5" y="203.1" width="1.1" height="2.4" fill="#5058aa"/>
<rect x="216.4" y="203.1" width="1.1" height="2.4" fill="#5058aa"/>
<rect x="328.9" y="203.1" width="1.1" height="2.4" fill="#5058aa"/>
<rect x="351.2" y="203.1" width="1.1" height="2.4" fill="#5058aa"/>
<rect x="195.3" y="203.1" width="1.1" height="2.4" fill="#5058aa"/>
<rect x="286.5" y="203.1" width="1.1" height="2.4" fill="#5058aa"/>
<rect x="381.8" y="202.7" width="1.9" height="3.2" fill="#5058aa"/>
<line x1="200.8" y1="208.8" x2="383.2" y2="208.8" stroke="#5058aa" stroke-width="0.95"/>
<path d="M203.1,207.8 L204.1,208.8 L203.1,209.8" stroke="#5058aa" fill="none" stroke-width="0.5"/>
<path d="M205.7,207.8 L206.7,208.8 L205.7,209.8" stroke="#5058aa" fill="none" stroke-width="0.5"/>
<path d="M208.3,207.8 L209.3,208.8 L208.3,209.8" stroke="#5058aa" fill="none" stroke-width="0.5"/>
<path d="M210.9,207.8 L211.9,208.8 L210.9,209.8" stroke="#5058aa" fill="none" stroke-width="0.5"/>
<path d="M213.5,207.8 L214.5,208.8 L213.5,209.8" stroke="#5058aa" fill="none" stroke-width="0.5"/>
<path d="M216.1,207.8 L217.1,208.8 L216.1,209.8" stroke="#5058aa" fill="none" stroke-width="0.5"/>
<path d="M218.7,207.8 L219.7,208.8 L218.7,209.8" stroke="#5058aa" fill="none" stroke-width="0.5"/>
<path d="M221.3,207.8 L222.3,208.8 L221.3,209.8" stroke="#5058aa" fill="none" stroke-width="0.5"/>
<path d="M223.9,207.8 L224.9,208.8 L223.9,209.8" stroke="#5058aa" fill="none" stroke-width="0.5"/>
<path d="M226.5,207.8 L227.5,208.8 L226.5,209.8" stroke="#5058aa" fill="none" stroke-width="0.5"/>
<path d="M229.1,207.8 L230.1,208.8 L229.1,209.8" stroke="#5058aa" fill="none" stroke-width="0.5"/>
<path d="M231.7,207.8 L232.7,208.8 L231.7,209.8" stroke="#5058aa" fill="none" stroke-width="0.5"/>
<path d="M234.3,207.8 L235.3,208.8 L234.3,209.8" stroke="#5058aa" fill="none" stroke-width="0.5"/>
<path d="M236.9,207.8 L237.9,208.8 L236.9,209.8" stroke="#5058aa" fill="none" stroke-width="0.5"/>
<path d="M239.5,207.8 L240.5,208.8 L239.5,209.8" stroke="#5058aa" fill="none" stroke-width="0.5"/>
<path d="M242.1,207.8 L243.1,208.8 L242.1,209.8" stroke="#5058aa" fill="none" stroke-width="0.5"/>
<path d="M244.7,207.8 L245.7,208.8 L244.7,209.8" stroke="#5058aa" fill="none" stroke-width="0.5"/>
<path d="M247.3,207.8 L248.3,208.8 L247.3,209.8" stroke="#5058aa" fill="none" stroke-width="0.5"/>
<path d="M249.9,207.8 L250.9,208.8 L249.9,209.8" stroke="#5058aa" fill="none" stroke-width="0.5"/>
<path d="M252.5,207.8 L253.5,208.8 L252.5,209.8" stroke="#5058aa" fill="none" stroke-width="0.5"/>
<path d="M255.1,207.8 L256.1,208.8 L255.1,209.8" stroke="#5058aa" fill="none" stroke-width="0.5"/>
<path d="M257.7,207.8 L258.7,208.8 L257.7,209.8" stroke="#5058aa" fill="none" stroke-width="0.5"/>
<path d="M260.3,207.8 L261.3,208.8 L260.3,209.8" stroke="#5058aa" fill="none" stroke-width="0.5"/>
<path d="M262.9,207.8 L263.9,208.8 L262.9,209.8" stroke="#5058aa" fill="none" stroke-width="0.5"/>
<path d="M265.5,207.8 L266.5,208.8 L265.5,209.8" stroke="#5058aa" fill="none" stroke-width="0.5"/>
<path d="M268.1,207.8 L269.1,208.8 L268.1,209.8" stroke="#5058aa" fill="none" stroke-width="0.5"/>
<path d="M270.7,207.8 L271.7,208.8 L270.7,209.8" stroke="#5058aa" fill="none" stroke-width="0.5"/>
<path d="M273.3,207.8 L274.3,208.8 L273.3,209.8" stroke="#5058aa" fill="none" stroke-width="0.5"/>
<path d="M275.9,207.8 L276.9,208.8 L275.9,209.8" stroke="#5058aa" fill="none" stroke-width="0.5"/>
<path d="M278.5,207.8 L279.5,208.8 L278.5,209.8" stroke="#5058aa" fill="none" stroke-width="0.5"/>
<path d="M281.1,207.8 L282.1,208.8 L281.1,209.8" stroke="#5058aa" fill="none" stroke-width="0.5"/>
<path d="M283.7,207.8 L284.7,208.8 L283.7,209.8" stroke="#5058aa" fill="none" stroke-width="0.5"/>
<path d="M286.3,207.8 L287.3,208.8 L286.3,209.8" stroke="#5058aa" fill="none" stroke-width="0.5"/>
<path d="M288.9,207.8 L289.9,208.8 L288.9,209.8" stroke="#5058aa" fill="none" stroke-width="0.5"/>
<path d="M291.5,207.8 L292.5,208.8 L291.5,209.8" stroke="#5058aa" fill="none" stroke-width="0.5"/>
<path d="M294.1,207.8 L295.1,208.8 L294.1,209.8" stroke="#5058aa" fill="none" stroke-width="0.5"/>
<path d="M296.7,207.8 L297.7,208.8 L296.7,209.8" stroke="#5058aa" fill="none" stroke-width="0.5"/>
<path d="M299.3,207.8 L300.3,208.8 L299.3,209.8" stroke="#5058aa" fill="none" stroke-width="0.5"/>
<path d="M301.9,207.8 L302.9,208.8 L301.9,209.8" stroke="#5058aa" fill="none" stroke-width="0.5"/>
<path d="M304.5,207.8 L305.5,208.8 L304.5,209.8" stroke="#5058aa" fill="none" stroke-width="0.5"/>
<path d="M307.1,207.8 L308.1,208.8 L307.1,209.8" stroke="#5058aa" fill="none" stroke-width="0.5"/>
<path d="M309.7,207.8 L310.7,208.8 L309.7,209.8" stroke="#5058aa" fill="none" stroke-width="0.5"/>
<path d="M312.3,207.8 L313.3,208.8 L312.3,209.8" stroke="#5058aa" fill="none" stroke-width="0.5"/>
<path d="M314.9,207.8 L315.9,208.8 L314.9,209.8" stroke="#5058aa" fill="none" stroke-width="0.5"/>
<path d="M317.5,207.8 L318.5,208.8 L317.5,209.8" stroke="#5058aa" fill="none" stroke-width="0.5"/>
<path d="M320.1,207.8 L321.1,208.8 L320.1,209.8" stroke="#5058aa" fill="none" stroke-width="0.5"/>
<path d="M322.7,207.8 L323.7,208.8 L322.7,209.8" stroke="#5058aa" fill="none" stroke-width="0.5"/>
<path d="M325.3,207.8 L326.3,208.8 L325.3,209.8" stroke="#5058aa" fill="none" stroke-width="0.5"/>
<path d="M327.9,207.8 L328.9,208.8 L327.9,209.8" stroke="#5058aa" fill="none" stroke-width="0.5"/>
<path d="M330.5,207.8 L331.5,208.8 L330.5,209.8" stroke="#5058aa" fill="none" stroke-width="0.5"/>
<path d="M333.1,207.8 L334.1,208.8 L333.1,209.8" stroke="#5058aa" fill="none" stroke-width="0.5"/>
<path d="M335.7,207.8 L336.7,208.8 L335.7,209.8" stroke="#5058aa" fill="none" stroke-width="0.5"/>
<path d="M338.3,207.8 L339.3,208.8 L338.3,209.8" stroke="#5058aa" fill="none" stroke-width="0.5"/>
<path d="M340.9,207.8 L341.9,208.8 L340.9,209.8" stroke="#5058aa" fill="none" stroke-width="0.5"/>
<path d="M343.5,207.8 L344.5,208.8 L343.5,209.8" stroke="#5058aa" fill="none" stroke-width="0.5"/>
<path d="M346.1,207.8 L347.1,208.8 L346.1,209.8" stroke="#5058aa" fill="none" stroke-width="0.5"/>
<path d="M348.7,207.8 L349.7,208.8 L348.7,209.8" stroke="#5058aa" fill="none" stroke-width="0.5"/>
<path d="M351.3,207.8 L352.3,208.8 L351.3,209.8" stroke="#5058aa" fill="none" stroke-width="0.5"/>
<path d="M353.9,207.8 L354.9,208.8 L353.9,209.8" stroke="#5058aa" fill="none" stroke-width="0.5"/>
<path d="M356.5,207.8 L357.5,208.8 L356.5,209.8" stroke="#5058aa" fill="none" stroke-width="0.5"/>
<path d="M359.1,207.8 L360.1,208.8 L359.1,209.8" stroke="#5058aa" fill="none" stroke-width="0.5"/>
<path d="M361.7,207.8 L362.7,208.8 L361.7,209.8" stroke="#5058aa" fill="none" stroke-width="0.5"/>
<path d="M364.3,207.8 L365.3,208.8 L364.3,209.8" stroke="#5058aa" fill="none" stroke-width="0.5"/>
<path d="M366.9,207.8 L367.9,208.8 L366.9,209.8" stroke="#5058aa" fill="none" stroke-width="0.5"/>
<path d="M369.5,207.8 L370.5,208.8 L369.5,209.8" stroke="#5058aa" fill="none" stroke-width="0.5"/>
<path d="M372.1,207.8 L373.1,208.8 L372.1,209.8" stroke="#5058aa" fill="none" stroke-width="0.5"/>
<path d="M374.7,207.8 L375.7,208.8 L374.7,209.8" stroke="#5058aa" fill="none" stroke-width="0.5"/>
<path d="M377.3,207.8 L378.3,208.8 L377.3,209.8" stroke="#5058aa" fill="none" stroke-width="0.5"/>
<path d="M379.9,207.8 L380.9,208.8 L379.9,209.8" stroke="#5058aa" fill="none" stroke-width="0.5"/>
<rect x="200.3" y="207.6" width="1.1" height="2.4" fill="#5058aa"/>
<rect x="216.4" y="207.6" width="1.1" height="2.4" fill="#5058aa"/>
<rect x="328.9" y="207.6" width="1.1" height="2.4" fill="#5058aa"/>
<rect x="351.2" y="207.6" width="1.1" height="2.4" fill="#5058aa"/>
<rect x="286.5" y="207.6" width="1.1" height="2.4" fill="#5058aa"/>
<rect x="381.8" y="207.2" width="1.9" height="3.2" fill="#5058aa"/>
<text x="143.8" y="197.3" font-size="5.7" text-anchor="end" fill="#2a2a2a" font-weight="normal" font-style="italic" textLength="28.8" lengthAdjust="spacingAndGlyphs" stroke="#2a2a2a" stroke-width="0.1">LINC00478</text>
<text x="143.8" y="202.2" font-size="5.7" text-anchor="end" fill="#2a2a2a" font-weight="normal" font-style="italic" textLength="28.8" lengthAdjust="spacingAndGlyphs" stroke="#2a2a2a" stroke-width="0.1">LINC00478</text>
<text x="143.8" y="208.4" font-size="5.7" text-anchor="end" fill="#2a2a2a" font-weight="normal" font-style="italic" textLength="28.8" lengthAdjust="spacingAndGlyphs" stroke="#2a2a2a" stroke-width="0.1">LINC00478</text>
<text x="198.8" y="211" font-size="5.7" text-anchor="end" fill="#2a2a2a" font-weight="normal" font-style="italic" textLength="29.2" lengthAdjust="spacingAndGlyphs" stroke="#2a2a2a" stroke-width="0.1">LINC00478</text>
<text x="335.2" y="215.3" font-size="5.6" text-anchor="start" fill="#3a3a3a" font-weight="normal" font-style="italic" textLength="20.2" lengthAdjust="spacingAndGlyphs" stroke="#3a3a3a" stroke-width="0.08">MIR99A</text>
<text x="329.4" y="220.9" font-size="5.6" text-anchor="start" fill="#3a3a3a" font-weight="normal" font-style="italic" textLength="26.9" lengthAdjust="spacingAndGlyphs" stroke="#3a3a3a" stroke-width="0.08">MIRLET7C</text>
<text x="352.6" y="228" font-size="5.6" text-anchor="start" fill="#3a3a3a" font-weight="normal" font-style="italic" textLength="26.9" lengthAdjust="spacingAndGlyphs" stroke="#3a3a3a" stroke-width="0.08">MIR125B2</text>
<text x="191" y="47.2" font-size="5.4" text-anchor="middle" fill="#111" font-weight="normal" font-style="normal" textLength="15.7" lengthAdjust="spacingAndGlyphs" stroke="#111" stroke-width="0.22">+1.3kb</text>
<path d="M188.6,53 L195,53" stroke="#111" fill="none" stroke-width="1.3"/>
<path d="M194,50.4 L199.2,53 L194,55.6 Z" stroke="none" fill="#111" stroke-width="1"/>
<text x="244.8" y="43.6" font-size="5.4" text-anchor="middle" fill="#111" font-weight="normal" font-style="normal" textLength="15.5" lengthAdjust="spacingAndGlyphs" stroke="#111" stroke-width="0.22">+29kb</text>
<path d="M244.8,48 L251,48" stroke="#111" fill="none" stroke-width="1.3"/>
<path d="M250,45.4 L255.2,48 L250,50.6 Z" stroke="none" fill="#111" stroke-width="1"/>
<text x="6.8" y="249.5" font-size="12.8" text-anchor="start" fill="#000" font-weight="bold" font-style="normal" stroke="#000" stroke-width="0.45">B</text>
<line x1="46.1" y1="330.7" x2="46.1" y2="253.6" stroke="#111" stroke-width="1.4"/>
<line x1="43.5" y1="330" x2="46.1" y2="330" stroke="#111" stroke-width="1.4"/>
<text x="39.3" y="332.4" font-size="6.6" text-anchor="end" fill="#222" font-weight="normal" font-style="normal" stroke="#222" stroke-width="0.22">0</text>
<line x1="43.5" y1="315.26" x2="46.1" y2="315.26" stroke="#111" stroke-width="1.4"/>
<text x="39.3" y="317.66" font-size="6.6" text-anchor="end" fill="#222" font-weight="normal" font-style="normal" stroke="#222" stroke-width="0.22">10</text>
<line x1="43.5" y1="300.52" x2="46.1" y2="300.52" stroke="#111" stroke-width="1.4"/>
<text x="39.3" y="302.92" font-size="6.6" text-anchor="end" fill="#222" font-weight="normal" font-style="normal" stroke="#222" stroke-width="0.22">20</text>
<line x1="43.5" y1="285.78" x2="46.1" y2="285.78" stroke="#111" stroke-width="1.4"/>
<text x="39.3" y="288.18" font-size="6.6" text-anchor="end" fill="#222" font-weight="normal" font-style="normal" stroke="#222" stroke-width="0.22">30</text>
<line x1="43.5" y1="271.04" x2="46.1" y2="271.04" stroke="#111" stroke-width="1.4"/>
<text x="39.3" y="273.44" font-size="6.6" text-anchor="end" fill="#222" font-weight="normal" font-style="normal" stroke="#222" stroke-width="0.22">40</text>
<line x1="43.5" y1="256.3" x2="46.1" y2="256.3" stroke="#111" stroke-width="1.4"/>
<text x="39.3" y="258.7" font-size="6.6" text-anchor="end" fill="#222" font-weight="normal" font-style="normal" stroke="#222" stroke-width="0.22">50</text>
<rect x="48.6" y="287.25" width="4.5" height="42.75" fill="#6aa543"/>
<line x1="50.85" y1="287.25" x2="50.85" y2="280.62" stroke="#111" stroke-width="1.3"/>
<line x1="49.45" y1="280.62" x2="52.25" y2="280.62" stroke="#111" stroke-width="1.3"/>
<rect x="54.4" y="327.05" width="4.3" height="2.95" fill="#931333"/>
<line x1="56.55" y1="327.05" x2="56.55" y2="326.31" stroke="#111" stroke-width="1.3"/>
<line x1="55.15" y1="326.31" x2="57.95" y2="326.31" stroke="#111" stroke-width="1.3"/>
<rect x="63.85" y="320.42" width="4.5" height="9.58" fill="#6aa543"/>
<line x1="66.1" y1="320.42" x2="66.1" y2="319.68" stroke="#111" stroke-width="1.3"/>
<line x1="64.7" y1="319.68" x2="67.5" y2="319.68" stroke="#111" stroke-width="1.3"/>
<rect x="69.65" y="326.31" width="4.3" height="3.69" fill="#931333"/>
<line x1="71.8" y1="326.31" x2="71.8" y2="325.58" stroke="#111" stroke-width="1.3"/>
<line x1="70.4" y1="325.58" x2="73.2" y2="325.58" stroke="#111" stroke-width="1.3"/>
<rect x="79.1" y="319.68" width="4.5" height="10.32" fill="#6aa543"/>
<line x1="81.35" y1="319.68" x2="81.35" y2="317.03" stroke="#111" stroke-width="1.3"/>
<line x1="79.95" y1="317.03" x2="82.75" y2="317.03" stroke="#111" stroke-width="1.3"/>
<rect x="84.9" y="328.53" width="4.3" height="1.47" fill="#931333"/>
<line x1="87.05" y1="328.53" x2="87.05" y2="328.08" stroke="#111" stroke-width="1.3"/>
<line x1="85.65" y1="328.08" x2="88.45" y2="328.08" stroke="#111" stroke-width="1.3"/>
<rect x="94.35" y="262.93" width="4.5" height="67.07" fill="#6aa543"/>
<line x1="96.6" y1="262.93" x2="96.6" y2="259.25" stroke="#111" stroke-width="1.3"/>
<line x1="95.2" y1="259.25" x2="98" y2="259.25" stroke="#111" stroke-width="1.3"/>
<rect x="100.15" y="328.53" width="4.3" height="1.47" fill="#931333"/>
<line x1="100.9" y1="328.53" x2="103.7" y2="328.53" stroke="#111" stroke-width="1.3"/>
<rect x="109.6" y="290.2" width="4.5" height="39.8" fill="#6aa543"/>
<line x1="111.85" y1="290.2" x2="111.85" y2="287.99" stroke="#111" stroke-width="1.3"/>
<line x1="110.45" y1="287.99" x2="113.25" y2="287.99" stroke="#111" stroke-width="1.3"/>
<rect x="115.4" y="325.58" width="4.3" height="4.42" fill="#931333"/>
<line x1="117.55" y1="325.58" x2="117.55" y2="325.14" stroke="#111" stroke-width="1.3"/>
<line x1="116.15" y1="325.14" x2="118.95" y2="325.14" stroke="#111" stroke-width="1.3"/>
<rect x="124.85" y="288.43" width="4.5" height="41.57" fill="#6aa543"/>
<line x1="125.7" y1="288.43" x2="128.5" y2="288.43" stroke="#111" stroke-width="1.3"/>
<rect x="130.65" y="328.53" width="4.3" height="1.47" fill="#931333"/>
<line x1="131.4" y1="328.53" x2="134.2" y2="328.53" stroke="#111" stroke-width="1.3"/>
<rect x="140.1" y="292.41" width="4.5" height="37.59" fill="#6aa543"/>
<line x1="142.35" y1="292.41" x2="142.35" y2="287.25" stroke="#111" stroke-width="1.3"/>
<line x1="140.95" y1="287.25" x2="143.75" y2="287.25" stroke="#111" stroke-width="1.3"/>
<rect x="145.9" y="328.23" width="4.3" height="1.77" fill="#931333"/>
<line x1="146.65" y1="328.23" x2="149.45" y2="328.23" stroke="#111" stroke-width="1.3"/>
<rect x="155.35" y="321.16" width="4.5" height="8.84" fill="#6aa543"/>
<line x1="157.6" y1="321.16" x2="157.6" y2="320.71" stroke="#111" stroke-width="1.3"/>
<line x1="156.2" y1="320.71" x2="159" y2="320.71" stroke="#111" stroke-width="1.3"/>
<rect x="161.15" y="328.53" width="4.3" height="1.47" fill="#931333"/>
<line x1="161.9" y1="328.53" x2="164.7" y2="328.53" stroke="#111" stroke-width="1.3"/>
<rect x="170.6" y="328.53" width="4.5" height="1.47" fill="#6aa543"/>
<line x1="171.45" y1="328.53" x2="174.25" y2="328.53" stroke="#111" stroke-width="1.3"/>
<rect x="176.4" y="328.23" width="4.3" height="1.77" fill="#931333"/>
<line x1="177.15" y1="328.23" x2="179.95" y2="328.23" stroke="#111" stroke-width="1.3"/>
<rect x="185.85" y="327.79" width="4.5" height="2.21" fill="#6aa543"/>
<line x1="188.1" y1="327.79" x2="188.1" y2="327.35" stroke="#111" stroke-width="1.3"/>
<line x1="186.7" y1="327.35" x2="189.5" y2="327.35" stroke="#111" stroke-width="1.3"/>
<rect x="191.65" y="328.53" width="4.3" height="1.47" fill="#931333"/>
<line x1="192.4" y1="328.53" x2="195.2" y2="328.53" stroke="#111" stroke-width="1.3"/>
<line x1="46.1" y1="330" x2="199" y2="330" stroke="#111" stroke-width="1.3"/>
<line x1="53.5" y1="330" x2="53.5" y2="332.6" stroke="#111" stroke-width="1.3"/>
<line x1="68.75" y1="330" x2="68.75" y2="332.6" stroke="#111" stroke-width="1.3"/>
<line x1="84" y1="330" x2="84" y2="332.6" stroke="#111" stroke-width="1.3"/>
<line x1="99.25" y1="330" x2="99.25" y2="332.6" stroke="#111" stroke-width="1.3"/>
<line x1="114.5" y1="330" x2="114.5" y2="332.6" stroke="#111" stroke-width="1.3"/>
<line x1="129.75" y1="330" x2="129.75" y2="332.6" stroke="#111" stroke-width="1.3"/>
<line x1="145" y1="330" x2="145" y2="332.6" stroke="#111" stroke-width="1.3"/>
<line x1="160.25" y1="330" x2="160.25" y2="332.6" stroke="#111" stroke-width="1.3"/>
<line x1="175.5" y1="330" x2="175.5" y2="332.6" stroke="#111" stroke-width="1.3"/>
<line x1="190.75" y1="330" x2="190.75" y2="332.6" stroke="#111" stroke-width="1.3"/>
<text x="24.9" y="291.8" font-size="7" text-anchor="middle" fill="#222" font-weight="bold" font-style="normal" transform="rotate(-90 24.9 291.8)" textLength="72.5" lengthAdjust="spacingAndGlyphs" stroke="#222" stroke-width="0.18">Fold enrichment (+1,3 kb)</text>
<line x1="169.1" y1="260" x2="169.1" y2="330" stroke="#111" stroke-width="1.5" stroke-dasharray="3.8,2.7"/>
<text x="181.5" y="259.3" font-size="6.4" text-anchor="middle" fill="#222" font-weight="normal" font-style="normal" stroke="#222" stroke-width="0.22">NS</text>
<rect x="48.9" y="254.6" width="4.9" height="3.8" fill="#6aa543"/>
<text x="55.2" y="258.4" font-size="5.4" text-anchor="start" fill="#4a4a4a" font-weight="normal" font-style="normal" textLength="21.5" lengthAdjust="spacingAndGlyphs" stroke="#4a4a4a" stroke-width="0.08">anti-TLX3</text>
<rect x="48.9" y="261.2" width="4.9" height="3.6" fill="#8e1030"/>
<text x="55.2" y="264.6" font-size="5.4" text-anchor="start" fill="#4a4a4a" font-weight="normal" font-style="normal" textLength="8.4" lengthAdjust="spacingAndGlyphs" stroke="#4a4a4a" stroke-width="0.08">IgG</text>
<path d="M78.6,255.3 L81.4,255.3 L81.4,265.4 L78.6,265.4" stroke="#111" fill="none" stroke-width="1.4"/>
<circle cx="83.5" cy="256.8" r="0.9" fill="#111"/>
<circle cx="86.4" cy="256.8" r="0.9" fill="#111"/>
<circle cx="89.3" cy="256.8" r="0.9" fill="#111"/>
<line x1="46.1" y1="422.1" x2="46.1" y2="344.5" stroke="#111" stroke-width="1.4"/>
<line x1="43.5" y1="421.4" x2="46.1" y2="421.4" stroke="#111" stroke-width="1.4"/>
<text x="39.8" y="423.8" font-size="6.6" text-anchor="end" fill="#222" font-weight="normal" font-style="normal" stroke="#222" stroke-width="0.22">0</text>
<line x1="43.5" y1="408.95" x2="46.1" y2="408.95" stroke="#111" stroke-width="1.4"/>
<text x="39.8" y="411.35" font-size="6.6" text-anchor="end" fill="#222" font-weight="normal" font-style="normal" stroke="#222" stroke-width="0.22">10</text>
<line x1="43.5" y1="396.5" x2="46.1" y2="396.5" stroke="#111" stroke-width="1.4"/>
<text x="39.8" y="398.9" font-size="6.6" text-anchor="end" fill="#222" font-weight="normal" font-style="normal" stroke="#222" stroke-width="0.22">20</text>
<line x1="43.5" y1="384.05" x2="46.1" y2="384.05" stroke="#111" stroke-width="1.4"/>
<text x="39.8" y="386.45" font-size="6.6" text-anchor="end" fill="#222" font-weight="normal" font-style="normal" stroke="#222" stroke-width="0.22">30</text>
<line x1="43.5" y1="371.6" x2="46.1" y2="371.6" stroke="#111" stroke-width="1.4"/>
<text x="39.8" y="374" font-size="6.6" text-anchor="end" fill="#222" font-weight="normal" font-style="normal" stroke="#222" stroke-width="0.22">40</text>
<line x1="43.5" y1="359.15" x2="46.1" y2="359.15" stroke="#111" stroke-width="1.4"/>
<text x="39.8" y="361.55" font-size="6.6" text-anchor="end" fill="#222" font-weight="normal" font-style="normal" stroke="#222" stroke-width="0.22">50</text>
<line x1="43.5" y1="346.7" x2="46.1" y2="346.7" stroke="#111" stroke-width="1.4"/>
<text x="39.8" y="349.1" font-size="6.6" text-anchor="end" fill="#222" font-weight="normal" font-style="normal" stroke="#222" stroke-width="0.22">60</text>
<rect x="48.6" y="350.06" width="4.5" height="71.34" fill="#6aa543"/>
<line x1="50.85" y1="350.06" x2="50.85" y2="346.08" stroke="#111" stroke-width="1.3"/>
<line x1="49.45" y1="346.08" x2="52.25" y2="346.08" stroke="#111" stroke-width="1.3"/>
<rect x="54.4" y="416.05" width="4.3" height="5.35" fill="#931333"/>
<line x1="56.55" y1="416.05" x2="56.55" y2="415.67" stroke="#111" stroke-width="1.3"/>
<line x1="55.15" y1="415.67" x2="57.95" y2="415.67" stroke="#111" stroke-width="1.3"/>
<rect x="63.85" y="416.05" width="4.5" height="5.35" fill="#6aa543"/>
<line x1="66.1" y1="416.05" x2="66.1" y2="415.67" stroke="#111" stroke-width="1.3"/>
<line x1="64.7" y1="415.67" x2="67.5" y2="415.67" stroke="#111" stroke-width="1.3"/>
<rect x="69.65" y="418.29" width="4.3" height="3.11" fill="#931333"/>
<line x1="71.8" y1="418.29" x2="71.8" y2="417.91" stroke="#111" stroke-width="1.3"/>
<line x1="70.4" y1="417.91" x2="73.2" y2="417.91" stroke="#111" stroke-width="1.3"/>
<rect x="79.1" y="415.42" width="4.5" height="5.98" fill="#6aa543"/>
<line x1="81.35" y1="415.42" x2="81.35" y2="414.93" stroke="#111" stroke-width="1.3"/>
<line x1="79.95" y1="414.93" x2="82.75" y2="414.93" stroke="#111" stroke-width="1.3"/>
<rect x="84.9" y="419.53" width="4.3" height="1.87" fill="#931333"/>
<line x1="85.65" y1="419.53" x2="88.45" y2="419.53" stroke="#111" stroke-width="1.3"/>
<rect x="94.35" y="366.87" width="4.5" height="54.53" fill="#6aa543"/>
<line x1="96.6" y1="366.87" x2="96.6" y2="359.52" stroke="#111" stroke-width="1.3"/>
<line x1="95.2" y1="359.52" x2="98" y2="359.52" stroke="#111" stroke-width="1.3"/>
<rect x="100.15" y="419.53" width="4.3" height="1.87" fill="#931333"/>
<line x1="100.9" y1="419.53" x2="103.7" y2="419.53" stroke="#111" stroke-width="1.3"/>
<rect x="109.6" y="412.69" width="4.5" height="8.71" fill="#6aa543"/>
<line x1="111.85" y1="412.69" x2="111.85" y2="412.06" stroke="#111" stroke-width="1.3"/>
<line x1="110.45" y1="412.06" x2="113.25" y2="412.06" stroke="#111" stroke-width="1.3"/>
<rect x="115.4" y="419.53" width="4.3" height="1.87" fill="#931333"/>
<line x1="116.15" y1="419.53" x2="118.95" y2="419.53" stroke="#111" stroke-width="1.3"/>
<rect x="124.85" y="374.34" width="4.5" height="47.06" fill="#6aa543"/>
<line x1="127.1" y1="374.34" x2="127.1" y2="367.99" stroke="#111" stroke-width="1.3"/>
<line x1="125.7" y1="367.99" x2="128.5" y2="367.99" stroke="#111" stroke-width="1.3"/>
<rect x="130.65" y="419.53" width="4.3" height="1.87" fill="#931333"/>
<line x1="131.4" y1="419.53" x2="134.2" y2="419.53" stroke="#111" stroke-width="1.3"/>
<rect x="140.1" y="373.59" width="4.5" height="47.81" fill="#6aa543"/>
<line x1="140.95" y1="373.59" x2="143.75" y2="373.59" stroke="#111" stroke-width="1.3"/>
<rect x="145.9" y="419.53" width="4.3" height="1.87" fill="#931333"/>
<line x1="146.65" y1="419.53" x2="149.45" y2="419.53" stroke="#111" stroke-width="1.3"/>
<rect x="155.35" y="402.48" width="4.5" height="18.92" fill="#6aa543"/>
<line x1="157.6" y1="402.48" x2="157.6" y2="402.1" stroke="#111" stroke-width="1.3"/>
<line x1="156.2" y1="402.1" x2="159" y2="402.1" stroke="#111" stroke-width="1.3"/>
<rect x="161.15" y="418.91" width="4.3" height="2.49" fill="#931333"/>
<line x1="163.3" y1="418.91" x2="163.3" y2="418.54" stroke="#111" stroke-width="1.3"/>
<line x1="161.9" y1="418.54" x2="164.7" y2="418.54" stroke="#111" stroke-width="1.3"/>
<rect x="170.6" y="420.15" width="4.5" height="1.25" fill="#6aa543"/>
<line x1="171.45" y1="420.15" x2="174.25" y2="420.15" stroke="#111" stroke-width="1.3"/>
<rect x="176.4" y="420.15" width="4.3" height="1.25" fill="#931333"/>
<line x1="177.15" y1="420.15" x2="179.95" y2="420.15" stroke="#111" stroke-width="1.3"/>
<rect x="185.85" y="419.53" width="4.5" height="1.87" fill="#6aa543"/>
<line x1="186.7" y1="419.53" x2="189.5" y2="419.53" stroke="#111" stroke-width="1.3"/>
<rect x="191.65" y="419.78" width="4.3" height="1.62" fill="#931333"/>
<line x1="192.4" y1="419.78" x2="195.2" y2="419.78" stroke="#111" stroke-width="1.3"/>
<line x1="46.1" y1="421.4" x2="199" y2="421.4" stroke="#111" stroke-width="1.3"/>
<line x1="53.5" y1="421.4" x2="53.5" y2="424" stroke="#111" stroke-width="1.3"/>
<line x1="68.75" y1="421.4" x2="68.75" y2="424" stroke="#111" stroke-width="1.3"/>
<line x1="84" y1="421.4" x2="84" y2="424" stroke="#111" stroke-width="1.3"/>
<line x1="99.25" y1="421.4" x2="99.25" y2="424" stroke="#111" stroke-width="1.3"/>
<line x1="114.5" y1="421.4" x2="114.5" y2="424" stroke="#111" stroke-width="1.3"/>
<line x1="129.75" y1="421.4" x2="129.75" y2="424" stroke="#111" stroke-width="1.3"/>
<line x1="145" y1="421.4" x2="145" y2="424" stroke="#111" stroke-width="1.3"/>
<line x1="160.25" y1="421.4" x2="160.25" y2="424" stroke="#111" stroke-width="1.3"/>
<line x1="175.5" y1="421.4" x2="175.5" y2="424" stroke="#111" stroke-width="1.3"/>
<line x1="190.75" y1="421.4" x2="190.75" y2="424" stroke="#111" stroke-width="1.3"/>
<text x="24.6" y="383.4" font-size="7" text-anchor="middle" fill="#222" font-weight="bold" font-style="normal" transform="rotate(-90 24.6 383.4)" textLength="69.3" lengthAdjust="spacingAndGlyphs" stroke="#222" stroke-width="0.18">Fold enrichment (+29 kb)</text>
<line x1="168.6" y1="352.5" x2="168.6" y2="421" stroke="#111" stroke-width="1.5" stroke-dasharray="3.8,2.7"/>
<text x="55.1" y="431.8" font-size="5.8" text-anchor="end" fill="#222" font-weight="normal" font-style="normal" transform="rotate(-45 55.1 431.8)" stroke="#222" stroke-width="0.22">DND41</text>
<text x="70.35" y="431.8" font-size="5.8" text-anchor="end" fill="#222" font-weight="normal" font-style="normal" transform="rotate(-45 70.35 431.8)" stroke="#222" stroke-width="0.22">HPB-ALL</text>
<text x="85.6" y="431.8" font-size="5.8" text-anchor="end" fill="#222" font-weight="normal" font-style="normal" transform="rotate(-45 85.6 431.8)" stroke="#222" stroke-width="0.22">M112</text>
<text x="100.85" y="431.8" font-size="5.8" text-anchor="end" fill="#222" font-weight="normal" font-style="normal" transform="rotate(-45 100.85 431.8)" stroke="#222" stroke-width="0.22">M126</text>
<text x="116.1" y="431.8" font-size="5.8" text-anchor="end" fill="#222" font-weight="normal" font-style="normal" transform="rotate(-45 116.1 431.8)" stroke="#222" stroke-width="0.22">M147</text>
<text x="131.35" y="431.8" font-size="5.8" text-anchor="end" fill="#222" font-weight="normal" font-style="normal" transform="rotate(-45 131.35 431.8)" stroke="#222" stroke-width="0.22">M149</text>
<text x="146.6" y="431.8" font-size="5.8" text-anchor="end" fill="#222" font-weight="normal" font-style="normal" transform="rotate(-45 146.6 431.8)" stroke="#222" stroke-width="0.22">M150</text>
<text x="161.85" y="431.8" font-size="5.8" text-anchor="end" fill="#222" font-weight="normal" font-style="normal" transform="rotate(-45 161.85 431.8)" stroke="#222" stroke-width="0.22">M152</text>
<text x="177.1" y="431.8" font-size="5.8" text-anchor="end" fill="#222" font-weight="normal" font-style="normal" transform="rotate(-45 177.1 431.8)" stroke="#222" stroke-width="0.22">Jurkat</text>
<text x="192.35" y="431.8" font-size="5.8" text-anchor="end" fill="#222" font-weight="normal" font-style="normal" transform="rotate(-45 192.35 431.8)" stroke="#222" stroke-width="0.22">M106</text>
<line x1="40" y1="453.8" x2="70.8" y2="453.8" stroke="#000" stroke-width="1.5"/>
<line x1="76.2" y1="453.8" x2="162.5" y2="453.8" stroke="#000" stroke-width="1.5"/>
<line x1="166.8" y1="453.8" x2="195" y2="453.8" stroke="#000" stroke-width="1.5"/>
<text x="55.4" y="462.8" font-size="6.2" text-anchor="middle" fill="#222" font-weight="normal" font-style="normal" textLength="18.3" lengthAdjust="spacingAndGlyphs" stroke="#222" stroke-width="0.22">TLX3+</text>
<text x="55.4" y="470.6" font-size="6.2" text-anchor="middle" fill="#222" font-weight="normal" font-style="normal" textLength="24.2" lengthAdjust="spacingAndGlyphs" stroke="#222" stroke-width="0.22">cell lines</text>
<text x="119.3" y="462.8" font-size="6.2" text-anchor="middle" fill="#222" font-weight="normal" font-style="normal" textLength="39" lengthAdjust="spacingAndGlyphs" stroke="#222" stroke-width="0.22">TLX3+ T-ALLs</text>
<text x="181.2" y="462.8" font-size="6.2" text-anchor="middle" fill="#222" font-weight="normal" font-style="normal" textLength="27.7" lengthAdjust="spacingAndGlyphs" stroke="#222" stroke-width="0.22">TLX3- cell</text>
<text x="180.6" y="470.6" font-size="6.2" text-anchor="middle" fill="#222" font-weight="normal" font-style="normal" textLength="33.5" lengthAdjust="spacingAndGlyphs" stroke="#222" stroke-width="0.22">line &amp; T-ALL</text>
<text x="214.5" y="249.5" font-size="12.8" text-anchor="start" fill="#000" font-weight="bold" font-style="normal" stroke="#000" stroke-width="0.45">C</text>
<line x1="257.6" y1="330.3" x2="257.6" y2="254.2" stroke="#111" stroke-width="1.4"/>
<line x1="255" y1="329.6" x2="257.6" y2="329.6" stroke="#111" stroke-width="1.4"/>
<text x="251" y="332" font-size="6.2" text-anchor="end" fill="#222" font-weight="normal" font-style="normal" stroke="#222" stroke-width="0.22">0</text>
<line x1="255" y1="315.2" x2="257.6" y2="315.2" stroke="#111" stroke-width="1.4"/>
<text x="251" y="317.6" font-size="6.2" text-anchor="end" fill="#222" font-weight="normal" font-style="normal" stroke="#222" stroke-width="0.22">20</text>
<line x1="255" y1="300.8" x2="257.6" y2="300.8" stroke="#111" stroke-width="1.4"/>
<text x="251" y="303.2" font-size="6.2" text-anchor="end" fill="#222" font-weight="normal" font-style="normal" stroke="#222" stroke-width="0.22">40</text>
<line x1="255" y1="286.4" x2="257.6" y2="286.4" stroke="#111" stroke-width="1.4"/>
<text x="251" y="288.8" font-size="6.2" text-anchor="end" fill="#222" font-weight="normal" font-style="normal" stroke="#222" stroke-width="0.22">60</text>
<line x1="255" y1="272" x2="257.6" y2="272" stroke="#111" stroke-width="1.4"/>
<text x="251" y="274.4" font-size="6.2" text-anchor="end" fill="#222" font-weight="normal" font-style="normal" stroke="#222" stroke-width="0.22">80</text>
<line x1="255" y1="257.6" x2="257.6" y2="257.6" stroke="#111" stroke-width="1.4"/>
<text x="251" y="260" font-size="6.2" text-anchor="end" fill="#222" font-weight="normal" font-style="normal" stroke="#222" stroke-width="0.22">100</text>
<rect x="260.4" y="274.16" width="4.5" height="55.44" fill="#2f4d7e"/>
<line x1="261.25" y1="274.16" x2="264.05" y2="274.16" stroke="#111" stroke-width="1.3"/>
<rect x="266.2" y="328.88" width="4.3" height="0.72" fill="#a50a2a"/>
<line x1="266.95" y1="328.88" x2="269.75" y2="328.88" stroke="#111" stroke-width="1.3"/>
<rect x="276.14" y="318.08" width="4.5" height="11.52" fill="#2f4d7e"/>
<line x1="278.39" y1="318.08" x2="278.39" y2="315.92" stroke="#111" stroke-width="1.3"/>
<line x1="276.99" y1="315.92" x2="279.79" y2="315.92" stroke="#111" stroke-width="1.3"/>
<rect x="281.94" y="328.88" width="4.3" height="0.72" fill="#a50a2a"/>
<line x1="282.69" y1="328.88" x2="285.49" y2="328.88" stroke="#111" stroke-width="1.3"/>
<rect x="291.88" y="318.8" width="4.5" height="10.8" fill="#2f4d7e"/>
<line x1="294.13" y1="318.8" x2="294.13" y2="315.92" stroke="#111" stroke-width="1.3"/>
<line x1="292.73" y1="315.92" x2="295.53" y2="315.92" stroke="#111" stroke-width="1.3"/>
<rect x="297.68" y="329.02" width="4.3" height="0.58" fill="#a50a2a"/>
<line x1="298.43" y1="329.02" x2="301.23" y2="329.02" stroke="#111" stroke-width="1.3"/>
<rect x="307.62" y="271.28" width="4.5" height="58.32" fill="#2f4d7e"/>
<line x1="309.87" y1="271.28" x2="309.87" y2="262.64" stroke="#111" stroke-width="1.3"/>
<line x1="308.47" y1="262.64" x2="311.27" y2="262.64" stroke="#111" stroke-width="1.3"/>
<rect x="313.42" y="328.88" width="4.3" height="0.72" fill="#a50a2a"/>
<line x1="314.17" y1="328.88" x2="316.97" y2="328.88" stroke="#111" stroke-width="1.3"/>
<rect x="323.36" y="263.36" width="4.5" height="66.24" fill="#2f4d7e"/>
<line x1="324.21" y1="263.36" x2="327.01" y2="263.36" stroke="#111" stroke-width="1.3"/>
<rect x="329.16" y="328.16" width="4.3" height="1.44" fill="#a50a2a"/>
<line x1="329.91" y1="328.16" x2="332.71" y2="328.16" stroke="#111" stroke-width="1.3"/>
<rect x="339.1" y="307.28" width="4.5" height="22.32" fill="#2f4d7e"/>
<line x1="341.35" y1="307.28" x2="341.35" y2="305.12" stroke="#111" stroke-width="1.3"/>
<line x1="339.95" y1="305.12" x2="342.75" y2="305.12" stroke="#111" stroke-width="1.3"/>
<rect x="344.9" y="328.88" width="4.3" height="0.72" fill="#a50a2a"/>
<line x1="345.65" y1="328.88" x2="348.45" y2="328.88" stroke="#111" stroke-width="1.3"/>
<rect x="354.84" y="307.28" width="4.5" height="22.32" fill="#2f4d7e"/>
<line x1="357.09" y1="307.28" x2="357.09" y2="305.12" stroke="#111" stroke-width="1.3"/>
<line x1="355.69" y1="305.12" x2="358.49" y2="305.12" stroke="#111" stroke-width="1.3"/>
<rect x="360.64" y="328.88" width="4.3" height="0.72" fill="#a50a2a"/>
<line x1="361.39" y1="328.88" x2="364.19" y2="328.88" stroke="#111" stroke-width="1.3"/>
<rect x="370.58" y="303.68" width="4.5" height="25.92" fill="#2f4d7e"/>
<line x1="372.83" y1="303.68" x2="372.83" y2="299.36" stroke="#111" stroke-width="1.3"/>
<line x1="371.43" y1="299.36" x2="374.23" y2="299.36" stroke="#111" stroke-width="1.3"/>
<rect x="376.38" y="328.52" width="4.3" height="1.08" fill="#a50a2a"/>
<line x1="377.13" y1="328.52" x2="379.93" y2="328.52" stroke="#111" stroke-width="1.3"/>
<rect x="386.32" y="322.4" width="4.5" height="7.2" fill="#2f4d7e"/>
<line x1="388.57" y1="322.4" x2="388.57" y2="322.04" stroke="#111" stroke-width="1.3"/>
<line x1="387.17" y1="322.04" x2="389.97" y2="322.04" stroke="#111" stroke-width="1.3"/>
<rect x="392.12" y="328.88" width="4.3" height="0.72" fill="#a50a2a"/>
<line x1="392.87" y1="328.88" x2="395.67" y2="328.88" stroke="#111" stroke-width="1.3"/>
<rect x="402.06" y="328.52" width="4.5" height="1.08" fill="#2f4d7e"/>
<line x1="402.91" y1="328.52" x2="405.71" y2="328.52" stroke="#111" stroke-width="1.3"/>
<rect x="407.86" y="328.66" width="4.3" height="0.94" fill="#a50a2a"/>
<line x1="408.61" y1="328.66" x2="411.41" y2="328.66" stroke="#111" stroke-width="1.3"/>
<rect x="417.8" y="324.56" width="4.5" height="5.04" fill="#2f4d7e"/>
<line x1="420.05" y1="324.56" x2="420.05" y2="324.2" stroke="#111" stroke-width="1.3"/>
<line x1="418.65" y1="324.2" x2="421.45" y2="324.2" stroke="#111" stroke-width="1.3"/>
<rect x="423.6" y="328.88" width="4.3" height="0.72" fill="#a50a2a"/>
<line x1="424.35" y1="328.88" x2="427.15" y2="328.88" stroke="#111" stroke-width="1.3"/>
<rect x="433.54" y="328.52" width="4.5" height="1.08" fill="#2f4d7e"/>
<line x1="434.39" y1="328.52" x2="437.19" y2="328.52" stroke="#111" stroke-width="1.3"/>
<rect x="439.34" y="327.8" width="4.3" height="1.8" fill="#a50a2a"/>
<line x1="440.09" y1="327.8" x2="442.89" y2="327.8" stroke="#111" stroke-width="1.3"/>
<line x1="257.6" y1="329.6" x2="446" y2="329.6" stroke="#111" stroke-width="1.3"/>
<line x1="265.3" y1="329.6" x2="265.3" y2="332.2" stroke="#111" stroke-width="1.3"/>
<line x1="281.04" y1="329.6" x2="281.04" y2="332.2" stroke="#111" stroke-width="1.3"/>
<line x1="296.78" y1="329.6" x2="296.78" y2="332.2" stroke="#111" stroke-width="1.3"/>
<line x1="312.52" y1="329.6" x2="312.52" y2="332.2" stroke="#111" stroke-width="1.3"/>
<line x1="328.26" y1="329.6" x2="328.26" y2="332.2" stroke="#111" stroke-width="1.3"/>
<line x1="344" y1="329.6" x2="344" y2="332.2" stroke="#111" stroke-width="1.3"/>
<line x1="359.74" y1="329.6" x2="359.74" y2="332.2" stroke="#111" stroke-width="1.3"/>
<line x1="375.48" y1="329.6" x2="375.48" y2="332.2" stroke="#111" stroke-width="1.3"/>
<line x1="391.22" y1="329.6" x2="391.22" y2="332.2" stroke="#111" stroke-width="1.3"/>
<line x1="406.96" y1="329.6" x2="406.96" y2="332.2" stroke="#111" stroke-width="1.3"/>
<line x1="422.7" y1="329.6" x2="422.7" y2="332.2" stroke="#111" stroke-width="1.3"/>
<line x1="438.44" y1="329.6" x2="438.44" y2="332.2" stroke="#111" stroke-width="1.3"/>
<text x="234.2" y="292.5" font-size="7" text-anchor="middle" fill="#222" font-weight="bold" font-style="normal" transform="rotate(-90 234.2 292.5)" textLength="69" lengthAdjust="spacingAndGlyphs" stroke="#222" stroke-width="0.18">Fold enrichment (+1,3 kb)</text>
<line x1="383.1" y1="259.5" x2="383.1" y2="330" stroke="#111" stroke-width="1.5" stroke-dasharray="3.8,2.7"/>
<text x="398.5" y="258.8" font-size="6.4" text-anchor="middle" fill="#222" font-weight="normal" font-style="normal" stroke="#222" stroke-width="0.22">NS</text>
<rect x="261.6" y="254.3" width="4.8" height="3.2" fill="#2f4d7e"/>
<text x="267.6" y="258" font-size="5.4" text-anchor="start" fill="#4a4a4a" font-weight="normal" font-style="normal" textLength="24" lengthAdjust="spacingAndGlyphs" stroke="#4a4a4a" stroke-width="0.08">anti-H3 ac</text>
<rect x="261.6" y="260.8" width="4.8" height="3.2" fill="#a50a2a"/>
<text x="267.6" y="264.6" font-size="5.4" text-anchor="start" fill="#4a4a4a" font-weight="normal" font-style="normal" textLength="9" lengthAdjust="spacingAndGlyphs" stroke="#4a4a4a" stroke-width="0.08">IgG</text>
<path d="M293.4,254.3 L296,254.3 L296,265 L293.4,265" stroke="#111" fill="none" stroke-width="1.4"/>
<circle cx="297.7" cy="256.4" r="0.9" fill="#111"/>
<circle cx="300.6" cy="256.4" r="0.9" fill="#111"/>
<circle cx="303.5" cy="256.4" r="0.9" fill="#111"/>
<line x1="257.7" y1="422.5" x2="257.7" y2="346.2" stroke="#111" stroke-width="1.4"/>
<line x1="255.1" y1="421.8" x2="257.7" y2="421.8" stroke="#111" stroke-width="1.4"/>
<text x="251.2" y="424.2" font-size="6.2" text-anchor="end" fill="#222" font-weight="normal" font-style="normal" stroke="#222" stroke-width="0.22">0</text>
<line x1="255.1" y1="410.3" x2="257.7" y2="410.3" stroke="#111" stroke-width="1.4"/>
<text x="251.2" y="412.7" font-size="6.2" text-anchor="end" fill="#222" font-weight="normal" font-style="normal" stroke="#222" stroke-width="0.22">2</text>
<line x1="255.1" y1="398.8" x2="257.7" y2="398.8" stroke="#111" stroke-width="1.4"/>
<text x="251.2" y="401.2" font-size="6.2" text-anchor="end" fill="#222" font-weight="normal" font-style="normal" stroke="#222" stroke-width="0.22">4</text>
<line x1="255.1" y1="387.3" x2="257.7" y2="387.3" stroke="#111" stroke-width="1.4"/>
<text x="251.2" y="389.7" font-size="6.2" text-anchor="end" fill="#222" font-weight="normal" font-style="normal" stroke="#222" stroke-width="0.22">6</text>
<line x1="255.1" y1="375.8" x2="257.7" y2="375.8" stroke="#111" stroke-width="1.4"/>
<text x="251.2" y="378.2" font-size="6.2" text-anchor="end" fill="#222" font-weight="normal" font-style="normal" stroke="#222" stroke-width="0.22">8</text>
<line x1="255.1" y1="364.3" x2="257.7" y2="364.3" stroke="#111" stroke-width="1.4"/>
<text x="251.2" y="366.7" font-size="6.2" text-anchor="end" fill="#222" font-weight="normal" font-style="normal" stroke="#222" stroke-width="0.22">10</text>
<line x1="255.1" y1="352.8" x2="257.7" y2="352.8" stroke="#111" stroke-width="1.4"/>
<text x="251.2" y="355.2" font-size="6.2" text-anchor="end" fill="#222" font-weight="normal" font-style="normal" stroke="#222" stroke-width="0.22">12</text>
<rect x="260.4" y="392.48" width="4.5" height="29.32" fill="#2f4d7e"/>
<line x1="262.65" y1="392.48" x2="262.65" y2="389.03" stroke="#111" stroke-width="1.3"/>
<line x1="261.25" y1="389.03" x2="264.05" y2="389.03" stroke="#111" stroke-width="1.3"/>
<rect x="266.2" y="414.9" width="4.3" height="6.9" fill="#a50a2a"/>
<line x1="268.35" y1="414.9" x2="268.35" y2="414.32" stroke="#111" stroke-width="1.3"/>
<line x1="266.95" y1="414.32" x2="269.75" y2="414.32" stroke="#111" stroke-width="1.3"/>
<rect x="276.14" y="402.25" width="4.5" height="19.55" fill="#2f4d7e"/>
<line x1="278.39" y1="402.25" x2="278.39" y2="399.38" stroke="#111" stroke-width="1.3"/>
<line x1="276.99" y1="399.38" x2="279.79" y2="399.38" stroke="#111" stroke-width="1.3"/>
<rect x="281.94" y="410.3" width="4.3" height="11.5" fill="#a50a2a"/>
<line x1="284.09" y1="410.3" x2="284.09" y2="409.73" stroke="#111" stroke-width="1.3"/>
<line x1="282.69" y1="409.73" x2="285.49" y2="409.73" stroke="#111" stroke-width="1.3"/>
<rect x="291.88" y="406.85" width="4.5" height="14.95" fill="#2f4d7e"/>
<line x1="294.13" y1="406.85" x2="294.13" y2="401.68" stroke="#111" stroke-width="1.3"/>
<line x1="292.73" y1="401.68" x2="295.53" y2="401.68" stroke="#111" stroke-width="1.3"/>
<rect x="297.68" y="420.65" width="4.3" height="1.15" fill="#a50a2a"/>
<line x1="298.43" y1="420.65" x2="301.23" y2="420.65" stroke="#111" stroke-width="1.3"/>
<rect x="307.62" y="410.88" width="4.5" height="10.93" fill="#2f4d7e"/>
<line x1="309.87" y1="410.88" x2="309.87" y2="408.57" stroke="#111" stroke-width="1.3"/>
<line x1="308.47" y1="408.57" x2="311.27" y2="408.57" stroke="#111" stroke-width="1.3"/>
<rect x="313.42" y="420.65" width="4.3" height="1.15" fill="#a50a2a"/>
<line x1="314.17" y1="420.65" x2="316.97" y2="420.65" stroke="#111" stroke-width="1.3"/>
<rect x="323.36" y="405.7" width="4.5" height="16.1" fill="#2f4d7e"/>
<line x1="325.61" y1="405.7" x2="325.61" y2="405.12" stroke="#111" stroke-width="1.3"/>
<line x1="324.21" y1="405.12" x2="327.01" y2="405.12" stroke="#111" stroke-width="1.3"/>
<rect x="329.16" y="414.9" width="4.3" height="6.9" fill="#a50a2a"/>
<line x1="331.31" y1="414.9" x2="331.31" y2="414.32" stroke="#111" stroke-width="1.3"/>
<line x1="329.91" y1="414.32" x2="332.71" y2="414.32" stroke="#111" stroke-width="1.3"/>
<rect x="339.1" y="367.75" width="4.5" height="54.05" fill="#2f4d7e"/>
<line x1="341.35" y1="367.75" x2="341.35" y2="364.3" stroke="#111" stroke-width="1.3"/>
<line x1="339.95" y1="364.3" x2="342.75" y2="364.3" stroke="#111" stroke-width="1.3"/>
<rect x="344.9" y="407.71" width="4.3" height="14.09" fill="#a50a2a"/>
<line x1="347.05" y1="407.71" x2="347.05" y2="403.98" stroke="#111" stroke-width="1.3"/>
<line x1="345.65" y1="403.98" x2="348.45" y2="403.98" stroke="#111" stroke-width="1.3"/>
<rect x="354.84" y="371.78" width="4.5" height="50.02" fill="#2f4d7e"/>
<line x1="357.09" y1="371.78" x2="357.09" y2="368.32" stroke="#111" stroke-width="1.3"/>
<line x1="355.69" y1="368.32" x2="358.49" y2="368.32" stroke="#111" stroke-width="1.3"/>
<rect x="360.64" y="406.85" width="4.3" height="14.95" fill="#a50a2a"/>
<line x1="362.79" y1="406.85" x2="362.79" y2="403.98" stroke="#111" stroke-width="1.3"/>
<line x1="361.39" y1="403.98" x2="364.19" y2="403.98" stroke="#111" stroke-width="1.3"/>
<rect x="370.58" y="363.73" width="4.5" height="58.07" fill="#2f4d7e"/>
<line x1="372.83" y1="363.73" x2="372.83" y2="355.68" stroke="#111" stroke-width="1.3"/>
<line x1="371.43" y1="355.68" x2="374.23" y2="355.68" stroke="#111" stroke-width="1.3"/>
<rect x="376.38" y="411.74" width="4.3" height="10.06" fill="#a50a2a"/>
<line x1="378.53" y1="411.74" x2="378.53" y2="411.16" stroke="#111" stroke-width="1.3"/>
<line x1="377.13" y1="411.16" x2="379.93" y2="411.16" stroke="#111" stroke-width="1.3"/>
<rect x="386.32" y="414.9" width="4.5" height="6.9" fill="#2f4d7e"/>
<line x1="388.57" y1="414.9" x2="388.57" y2="414.32" stroke="#111" stroke-width="1.3"/>
<line x1="387.17" y1="414.32" x2="389.97" y2="414.32" stroke="#111" stroke-width="1.3"/>
<rect x="392.12" y="413.18" width="4.3" height="8.62" fill="#a50a2a"/>
<line x1="394.27" y1="413.18" x2="394.27" y2="412.03" stroke="#111" stroke-width="1.3"/>
<line x1="392.87" y1="412.03" x2="395.67" y2="412.03" stroke="#111" stroke-width="1.3"/>
<rect x="402.06" y="401.68" width="4.5" height="20.12" fill="#2f4d7e"/>
<line x1="404.31" y1="401.68" x2="404.31" y2="397.65" stroke="#111" stroke-width="1.3"/>
<line x1="402.91" y1="397.65" x2="405.71" y2="397.65" stroke="#111" stroke-width="1.3"/>
<rect x="407.86" y="398.8" width="4.3" height="23" fill="#a50a2a"/>
<line x1="410.01" y1="398.8" x2="410.01" y2="387.88" stroke="#111" stroke-width="1.3"/>
<line x1="408.61" y1="387.88" x2="411.41" y2="387.88" stroke="#111" stroke-width="1.3"/>
<rect x="417.8" y="410.3" width="4.5" height="11.5" fill="#2f4d7e"/>
<line x1="420.05" y1="410.3" x2="420.05" y2="408" stroke="#111" stroke-width="1.3"/>
<line x1="418.65" y1="408" x2="421.45" y2="408" stroke="#111" stroke-width="1.3"/>
<rect x="423.6" y="415.76" width="4.3" height="6.04" fill="#a50a2a"/>
<line x1="425.75" y1="415.76" x2="425.75" y2="415.19" stroke="#111" stroke-width="1.3"/>
<line x1="424.35" y1="415.19" x2="427.15" y2="415.19" stroke="#111" stroke-width="1.3"/>
<rect x="433.54" y="408" width="4.5" height="13.8" fill="#2f4d7e"/>
<line x1="435.79" y1="408" x2="435.79" y2="402.82" stroke="#111" stroke-width="1.3"/>
<line x1="434.39" y1="402.82" x2="437.19" y2="402.82" stroke="#111" stroke-width="1.3"/>
<rect x="439.34" y="413.75" width="4.3" height="8.05" fill="#a50a2a"/>
<line x1="441.49" y1="413.75" x2="441.49" y2="410.88" stroke="#111" stroke-width="1.3"/>
<line x1="440.09" y1="410.88" x2="442.89" y2="410.88" stroke="#111" stroke-width="1.3"/>
<line x1="257.7" y1="421.8" x2="446" y2="421.8" stroke="#111" stroke-width="1.3"/>
<line x1="265.3" y1="421.8" x2="265.3" y2="424.4" stroke="#111" stroke-width="1.3"/>
<line x1="281.04" y1="421.8" x2="281.04" y2="424.4" stroke="#111" stroke-width="1.3"/>
<line x1="296.78" y1="421.8" x2="296.78" y2="424.4" stroke="#111" stroke-width="1.3"/>
<line x1="312.52" y1="421.8" x2="312.52" y2="424.4" stroke="#111" stroke-width="1.3"/>
<line x1="328.26" y1="421.8" x2="328.26" y2="424.4" stroke="#111" stroke-width="1.3"/>
<line x1="344" y1="421.8" x2="344" y2="424.4" stroke="#111" stroke-width="1.3"/>
<line x1="359.74" y1="421.8" x2="359.74" y2="424.4" stroke="#111" stroke-width="1.3"/>
<line x1="375.48" y1="421.8" x2="375.48" y2="424.4" stroke="#111" stroke-width="1.3"/>
<line x1="391.22" y1="421.8" x2="391.22" y2="424.4" stroke="#111" stroke-width="1.3"/>
<line x1="406.96" y1="421.8" x2="406.96" y2="424.4" stroke="#111" stroke-width="1.3"/>
<line x1="422.7" y1="421.8" x2="422.7" y2="424.4" stroke="#111" stroke-width="1.3"/>
<line x1="438.44" y1="421.8" x2="438.44" y2="424.4" stroke="#111" stroke-width="1.3"/>
<text x="236.6" y="384" font-size="7" text-anchor="middle" fill="#222" font-weight="bold" font-style="normal" transform="rotate(-90 236.6 384)" textLength="68" lengthAdjust="spacingAndGlyphs" stroke="#222" stroke-width="0.18">Fold enrichment (+29 kb)</text>
<line x1="383.1" y1="352.3" x2="383.1" y2="421" stroke="#111" stroke-width="1.5" stroke-dasharray="3.8,2.7"/>
<text x="266.9" y="432" font-size="5.8" text-anchor="end" fill="#222" font-weight="normal" font-style="normal" transform="rotate(-45 266.9 432)" stroke="#222" stroke-width="0.22">DND41</text>
<text x="282.64" y="432" font-size="5.8" text-anchor="end" fill="#222" font-weight="normal" font-style="normal" transform="rotate(-45 282.64 432)" stroke="#222" stroke-width="0.22">HPB-ALL</text>
<text x="298.38" y="432" font-size="5.8" text-anchor="end" fill="#222" font-weight="normal" font-style="normal" transform="rotate(-45 298.38 432)" stroke="#222" stroke-width="0.22">M112</text>
<text x="314.12" y="432" font-size="5.8" text-anchor="end" fill="#222" font-weight="normal" font-style="normal" transform="rotate(-45 314.12 432)" stroke="#222" stroke-width="0.22">M126</text>
<text x="329.86" y="432" font-size="5.8" text-anchor="end" fill="#222" font-weight="normal" font-style="normal" transform="rotate(-45 329.86 432)" stroke="#222" stroke-width="0.22">M147</text>
<text x="345.6" y="432" font-size="5.8" text-anchor="end" fill="#222" font-weight="normal" font-style="normal" transform="rotate(-45 345.6 432)" stroke="#222" stroke-width="0.22">M149</text>
<text x="361.34" y="432" font-size="5.8" text-anchor="end" fill="#222" font-weight="normal" font-style="normal" transform="rotate(-45 361.34 432)" stroke="#222" stroke-width="0.22">M150</text>
<text x="377.08" y="432" font-size="5.8" text-anchor="end" fill="#222" font-weight="normal" font-style="normal" transform="rotate(-45 377.08 432)" stroke="#222" stroke-width="0.22">M152</text>
<text x="392.82" y="432" font-size="5.8" text-anchor="end" fill="#222" font-weight="normal" font-style="normal" transform="rotate(-45 392.82 432)" stroke="#222" stroke-width="0.22">Jurkat</text>
<text x="408.56" y="432" font-size="5.8" text-anchor="end" fill="#222" font-weight="normal" font-style="normal" transform="rotate(-45 408.56 432)" stroke="#222" stroke-width="0.22">M69</text>
<text x="424.3" y="432" font-size="5.8" text-anchor="end" fill="#222" font-weight="normal" font-style="normal" transform="rotate(-45 424.3 432)" stroke="#222" stroke-width="0.22">M106</text>
<text x="440.04" y="432" font-size="5.8" text-anchor="end" fill="#222" font-weight="normal" font-style="normal" transform="rotate(-45 440.04 432)" stroke="#222" stroke-width="0.22">M115</text>
<line x1="251.4" y1="452.8" x2="282.5" y2="452.8" stroke="#000" stroke-width="1.5"/>
<line x1="287.5" y1="452.8" x2="374.8" y2="452.8" stroke="#000" stroke-width="1.5"/>
<line x1="379" y1="452.8" x2="443.7" y2="452.8" stroke="#000" stroke-width="1.5"/>
<text x="266.2" y="462.2" font-size="6.2" text-anchor="middle" fill="#222" font-weight="normal" font-style="normal" textLength="18.3" lengthAdjust="spacingAndGlyphs" stroke="#222" stroke-width="0.22">TLX3+</text>
<text x="266.7" y="469.9" font-size="6.2" text-anchor="middle" fill="#222" font-weight="normal" font-style="normal" textLength="24" lengthAdjust="spacingAndGlyphs" stroke="#222" stroke-width="0.22">cell lines</text>
<text x="331" y="462.2" font-size="6.2" text-anchor="middle" fill="#222" font-weight="normal" font-style="normal" textLength="39" lengthAdjust="spacingAndGlyphs" stroke="#222" stroke-width="0.22">TLX3+ T-ALLs</text>
<text x="411" y="462.2" font-size="6.2" text-anchor="middle" fill="#222" font-weight="normal" font-style="normal" stroke="#222" stroke-width="0.22">TLX3- cell line</text>
<text x="411" y="469.9" font-size="6.2" text-anchor="middle" fill="#222" font-weight="normal" font-style="normal" stroke="#222" stroke-width="0.22">&amp; T-ALLs</text>
<text x="6.6" y="492.7" font-size="12.8" text-anchor="start" fill="#000" font-weight="bold" font-style="normal" stroke="#000" stroke-width="0.45">D</text>
<line x1="46.3" y1="588.8" x2="46.3" y2="582.3" stroke="#111" stroke-width="1.4"/>
<line x1="46.3" y1="579.8" x2="46.3" y2="501.6" stroke="#111" stroke-width="1.4"/>
<line x1="43.5" y1="561" x2="46.3" y2="561" stroke="#111" stroke-width="1.3"/>
<text x="39.6" y="563.4" font-size="6.6" text-anchor="end" fill="#222" font-weight="normal" font-style="normal" stroke="#222" stroke-width="0.22">30</text>
<line x1="43.5" y1="542.2" x2="46.3" y2="542.2" stroke="#111" stroke-width="1.3"/>
<text x="39.6" y="544.6" font-size="6.6" text-anchor="end" fill="#222" font-weight="normal" font-style="normal" stroke="#222" stroke-width="0.22">40</text>
<line x1="43.5" y1="523.4" x2="46.3" y2="523.4" stroke="#111" stroke-width="1.3"/>
<text x="39.6" y="525.8" font-size="6.6" text-anchor="end" fill="#222" font-weight="normal" font-style="normal" stroke="#222" stroke-width="0.22">50</text>
<line x1="43.5" y1="504.6" x2="46.3" y2="504.6" stroke="#111" stroke-width="1.3"/>
<text x="39.6" y="507" font-size="6.6" text-anchor="end" fill="#222" font-weight="normal" font-style="normal" stroke="#222" stroke-width="0.22">60</text>
<text x="39.6" y="582.2" font-size="6.6" text-anchor="end" fill="#222" font-weight="normal" font-style="normal" stroke="#222" stroke-width="0.22">20</text>
<line x1="43.5" y1="588.1" x2="46.3" y2="588.1" stroke="#111" stroke-width="1.3"/>
<text x="39.6" y="590.5" font-size="6.6" text-anchor="end" fill="#222" font-weight="normal" font-style="normal" stroke="#222" stroke-width="0.22">0</text>
<line x1="43.2" y1="579.8" x2="48.9" y2="579.8" stroke="#111" stroke-width="1.3"/>
<line x1="43.2" y1="582.3" x2="48.9" y2="582.3" stroke="#111" stroke-width="1.3"/>
<rect x="50.3" y="575.29" width="8.6" height="12.81" fill="#a50a2a"/>
<line x1="54.6" y1="575.29" x2="54.6" y2="572.84" stroke="#111" stroke-width="1.2"/>
<line x1="53" y1="572.84" x2="56.2" y2="572.84" stroke="#111" stroke-width="1.2"/>
<rect x="62.7" y="571.72" width="8.6" height="16.38" fill="#2f4d7e"/>
<line x1="67" y1="571.72" x2="67" y2="569.46" stroke="#111" stroke-width="1.2"/>
<line x1="65.4" y1="569.46" x2="68.6" y2="569.46" stroke="#111" stroke-width="1.2"/>
<rect x="83.9" y="560.25" width="8.6" height="27.85" fill="#a50a2a"/>
<line x1="88.2" y1="560.25" x2="88.2" y2="557.05" stroke="#111" stroke-width="1.2"/>
<line x1="86.6" y1="557.05" x2="89.8" y2="557.05" stroke="#111" stroke-width="1.2"/>
<rect x="96.3" y="545.4" width="8.6" height="42.7" fill="#2f4d7e"/>
<line x1="100.6" y1="545.4" x2="100.6" y2="542.95" stroke="#111" stroke-width="1.2"/>
<line x1="99" y1="542.95" x2="102.2" y2="542.95" stroke="#111" stroke-width="1.2"/>
<rect x="117.6" y="560.25" width="8.6" height="27.85" fill="#a50a2a"/>
<line x1="121.9" y1="560.25" x2="121.9" y2="557.05" stroke="#111" stroke-width="1.2"/>
<line x1="120.3" y1="557.05" x2="123.5" y2="557.05" stroke="#111" stroke-width="1.2"/>
<rect x="130" y="522.08" width="8.6" height="66.02" fill="#2f4d7e"/>
<line x1="134.3" y1="522.08" x2="134.3" y2="519.45" stroke="#111" stroke-width="1.2"/>
<line x1="132.7" y1="519.45" x2="135.9" y2="519.45" stroke="#111" stroke-width="1.2"/>
<rect x="151.2" y="573.22" width="8.6" height="14.88" fill="#a50a2a"/>
<line x1="155.5" y1="573.22" x2="155.5" y2="570.59" stroke="#111" stroke-width="1.2"/>
<line x1="153.9" y1="570.59" x2="157.1" y2="570.59" stroke="#111" stroke-width="1.2"/>
<rect x="163.6" y="564.38" width="8.6" height="23.72" fill="#2f4d7e"/>
<line x1="167.9" y1="564.38" x2="167.9" y2="561.94" stroke="#111" stroke-width="1.2"/>
<line x1="166.3" y1="561.94" x2="169.5" y2="561.94" stroke="#111" stroke-width="1.2"/>
<rect x="49.5" y="579.1" width="128" height="2.8" fill="#fff"/>
<line x1="46.3" y1="588.1" x2="177.5" y2="588.1" stroke="#111" stroke-width="1.4"/>
<line x1="60.7" y1="588.1" x2="60.7" y2="590.9" stroke="#111" stroke-width="1.4"/>
<line x1="94.3" y1="588.1" x2="94.3" y2="590.9" stroke="#111" stroke-width="1.4"/>
<line x1="128" y1="588.1" x2="128" y2="590.9" stroke="#111" stroke-width="1.4"/>
<line x1="161.6" y1="588.1" x2="161.6" y2="590.9" stroke="#111" stroke-width="1.4"/>
<text x="26.6" y="545.6" font-size="7" text-anchor="middle" fill="#222" font-weight="bold" font-style="normal" transform="rotate(-90 26.6 545.6)" textLength="9.6" lengthAdjust="spacingAndGlyphs" stroke="#222" stroke-width="0.18">RLU</text>
<text x="60.7" y="600.6" font-size="6.4" text-anchor="middle" fill="#222" font-weight="normal" font-style="normal" stroke="#222" stroke-width="0.22">pGL3</text>
<text x="94.3" y="600.6" font-size="6.4" text-anchor="middle" fill="#222" font-weight="normal" font-style="normal" stroke="#222" stroke-width="0.22">P1</text>
<text x="128" y="600.6" font-size="6.4" text-anchor="middle" fill="#222" font-weight="normal" font-style="normal" stroke="#222" stroke-width="0.22">P2-3</text>
<text x="161.6" y="600.6" font-size="6.4" text-anchor="middle" fill="#222" font-weight="normal" font-style="normal" stroke="#222" stroke-width="0.22">NB</text>
<rect x="54.4" y="502.6" width="8.2" height="6.3" fill="#a50a2a"/>
<text x="65.5" y="507.7" font-size="5.6" text-anchor="start" fill="#444" font-weight="normal" font-style="normal" style="font-family:'Liberation Serif', serif" textLength="26.3" lengthAdjust="spacingAndGlyphs" stroke="#444" stroke-width="0.12">CTRL GFP</text>
<rect x="54.4" y="514" width="8.2" height="6.3" fill="#2f4d7e"/>
<text x="65.5" y="519.5" font-size="5.6" text-anchor="start" fill="#444" font-weight="normal" font-style="normal" style="font-family:'Liberation Serif', serif" textLength="21.2" lengthAdjust="spacingAndGlyphs" stroke="#444" stroke-width="0.12">TLX3/OE</text>
<line x1="85.5" y1="535" x2="100.5" y2="535" stroke="#111" stroke-width="1.2"/>
<line x1="85.5" y1="533.5" x2="85.5" y2="536.5" stroke="#111" stroke-width="1.2"/>
<line x1="100.5" y1="533.5" x2="100.5" y2="536.5" stroke="#111" stroke-width="1.2"/>
<circle cx="93" cy="529.9" r="1.15" fill="#111"/>
<line x1="118" y1="511.5" x2="133.5" y2="511.5" stroke="#111" stroke-width="1.2"/>
<line x1="118" y1="510" x2="118" y2="513" stroke="#111" stroke-width="1.2"/>
<line x1="133.5" y1="510" x2="133.5" y2="513" stroke="#111" stroke-width="1.2"/>
<circle cx="124.15" cy="506.9" r="1.15" fill="#111"/>
<circle cx="127.35" cy="506.9" r="1.15" fill="#111"/>
<text x="191.4" y="492.7" font-size="12.8" text-anchor="start" fill="#000" font-weight="bold" font-style="normal" stroke="#000" stroke-width="0.45">E</text>
<text x="234" y="498.6" font-size="6.6" text-anchor="start" fill="#333" font-weight="normal" font-style="normal" textLength="51.8" lengthAdjust="spacingAndGlyphs" stroke="#333" stroke-width="0.1">Short <tspan font-style="italic">LINC00478</tspan></text>
<line x1="231.5" y1="588.9" x2="231.5" y2="549.3" stroke="#111" stroke-width="1.3"/>
<line x1="231.5" y1="545.9" x2="231.5" y2="504.7" stroke="#111" stroke-width="1.3"/>
<line x1="228.2" y1="549.3" x2="234.8" y2="549.3" stroke="#111" stroke-width="1.4"/>
<line x1="228.2" y1="545.9" x2="234.8" y2="545.9" stroke="#111" stroke-width="1.4"/>
<line x1="228.9" y1="588.3" x2="231.5" y2="588.3" stroke="#111" stroke-width="1.3"/>
<text x="225.2" y="590.5" font-size="6.2" text-anchor="end" fill="#222" font-weight="normal" font-style="normal" stroke="#222" stroke-width="0.22">0</text>
<line x1="228.9" y1="576.2" x2="231.5" y2="576.2" stroke="#111" stroke-width="1.3"/>
<text x="225.2" y="578.4" font-size="6.2" text-anchor="end" fill="#222" font-weight="normal" font-style="normal" stroke="#222" stroke-width="0.22">0.5</text>
<line x1="228.9" y1="564.1" x2="231.5" y2="564.1" stroke="#111" stroke-width="1.3"/>
<text x="225.2" y="566.3" font-size="6.2" text-anchor="end" fill="#222" font-weight="normal" font-style="normal" stroke="#222" stroke-width="0.22">1</text>
<line x1="228.9" y1="551.6" x2="231.5" y2="551.6" stroke="#111" stroke-width="1.3"/>
<text x="225.2" y="553.8" font-size="6.2" text-anchor="end" fill="#222" font-weight="normal" font-style="normal" stroke="#222" stroke-width="0.22">1.5</text>
<line x1="228.9" y1="536.7" x2="231.5" y2="536.7" stroke="#111" stroke-width="1.3"/>
<text x="225.2" y="538.9" font-size="6.2" text-anchor="end" fill="#222" font-weight="normal" font-style="normal" stroke="#222" stroke-width="0.22">5</text>
<line x1="228.9" y1="522" x2="231.5" y2="522" stroke="#111" stroke-width="1.3"/>
<text x="225.2" y="524.2" font-size="6.2" text-anchor="end" fill="#222" font-weight="normal" font-style="normal" stroke="#222" stroke-width="0.22">10</text>
<line x1="228.9" y1="506.8" x2="231.5" y2="506.8" stroke="#111" stroke-width="1.3"/>
<text x="225.2" y="509" font-size="6.2" text-anchor="end" fill="#222" font-weight="normal" font-style="normal" stroke="#222" stroke-width="0.22">15</text>
<line x1="231.5" y1="588.3" x2="336" y2="588.3" stroke="#111" stroke-width="1.3"/>
<line x1="257.3" y1="588.3" x2="257.3" y2="590.8" stroke="#111" stroke-width="1.2"/>
<line x1="309.8" y1="588.3" x2="309.8" y2="590.8" stroke="#111" stroke-width="1.2"/>
<text x="208.9" y="545.3" font-size="7.6" text-anchor="middle" fill="#222" font-weight="bold" font-style="normal" transform="rotate(-90 208.9 545.3)" textLength="77.5" lengthAdjust="spacingAndGlyphs" stroke="#222" stroke-width="0.18">Relative expression in T-ALL</text>
<text x="257.3" y="598.6" font-size="6" text-anchor="middle" fill="#222" font-weight="normal" font-style="normal" stroke="#222" stroke-width="0.22">TLX3-</text>
<text x="309.8" y="598.6" font-size="6" text-anchor="middle" fill="#222" font-weight="normal" font-style="normal" stroke="#222" stroke-width="0.22">TLX3+</text>
<line x1="257.3" y1="507.9" x2="309.8" y2="507.9" stroke="#111" stroke-width="1.4"/>
<line x1="257.3" y1="506" x2="257.3" y2="509.8" stroke="#111" stroke-width="1.2"/>
<line x1="309.8" y1="506" x2="309.8" y2="509.8" stroke="#111" stroke-width="1.2"/>
<circle cx="279.4" cy="504.4" r="0.85" fill="#111"/>
<circle cx="281.9" cy="504.4" r="0.85" fill="#111"/>
<circle cx="284.4" cy="504.4" r="0.85" fill="#111"/>
<line x1="240" y1="586.6" x2="276" y2="586.6" stroke="#111" stroke-width="1.2"/>
<rect x="257.85" y="549.85" width="3.1" height="3.1" fill="#a8123a" stroke="#5a0c22" stroke-width="0.4"/>
<rect x="254.35" y="553.85" width="3.1" height="3.1" fill="#a8123a" stroke="#5a0c22" stroke-width="0.4"/>
<rect x="251.25" y="576.05" width="3.1" height="3.1" fill="#a8123a" stroke="#5a0c22" stroke-width="0.4"/>
<rect x="253.65" y="577.05" width="3.1" height="3.1" fill="#a8123a" stroke="#5a0c22" stroke-width="0.4"/>
<rect x="256.05" y="578.25" width="3.1" height="3.1" fill="#a8123a" stroke="#5a0c22" stroke-width="0.4"/>
<rect x="258.45" y="578.05" width="3.1" height="3.1" fill="#a8123a" stroke="#5a0c22" stroke-width="0.4"/>
<rect x="261.05" y="576.45" width="3.1" height="3.1" fill="#a8123a" stroke="#5a0c22" stroke-width="0.4"/>
<rect x="257.05" y="580.05" width="3.1" height="3.1" fill="#a8123a" stroke="#5a0c22" stroke-width="0.4"/>
<rect x="247.55" y="585.96" width="3.1" height="3.1" fill="#a8123a" stroke="#5a0c22" stroke-width="0.4"/>
<rect x="251.93" y="586.1" width="3.1" height="3.1" fill="#a8123a" stroke="#5a0c22" stroke-width="0.4"/>
<rect x="260.42" y="584.81" width="3.1" height="3.1" fill="#a8123a" stroke="#5a0c22" stroke-width="0.4"/>
<rect x="240.09" y="586.66" width="3.1" height="3.1" fill="#a8123a" stroke="#5a0c22" stroke-width="0.4"/>
<rect x="248.26" y="585.21" width="3.1" height="3.1" fill="#a8123a" stroke="#5a0c22" stroke-width="0.4"/>
<rect x="272.71" y="585.78" width="3.1" height="3.1" fill="#a8123a" stroke="#5a0c22" stroke-width="0.4"/>
<rect x="267.42" y="585.79" width="3.1" height="3.1" fill="#a8123a" stroke="#5a0c22" stroke-width="0.4"/>
<rect x="260.87" y="585.01" width="3.1" height="3.1" fill="#a8123a" stroke="#5a0c22" stroke-width="0.4"/>
<rect x="260.73" y="586.73" width="3.1" height="3.1" fill="#a8123a" stroke="#5a0c22" stroke-width="0.4"/>
<rect x="257.02" y="586.43" width="3.1" height="3.1" fill="#a8123a" stroke="#5a0c22" stroke-width="0.4"/>
<rect x="261.94" y="584.8" width="3.1" height="3.1" fill="#a8123a" stroke="#5a0c22" stroke-width="0.4"/>
<rect x="264.82" y="586.07" width="3.1" height="3.1" fill="#a8123a" stroke="#5a0c22" stroke-width="0.4"/>
<rect x="249.65" y="584.72" width="3.1" height="3.1" fill="#a8123a" stroke="#5a0c22" stroke-width="0.4"/>
<rect x="268.39" y="585.78" width="3.1" height="3.1" fill="#a8123a" stroke="#5a0c22" stroke-width="0.4"/>
<rect x="263.51" y="586.76" width="3.1" height="3.1" fill="#a8123a" stroke="#5a0c22" stroke-width="0.4"/>
<rect x="263.36" y="586.86" width="3.1" height="3.1" fill="#a8123a" stroke="#5a0c22" stroke-width="0.4"/>
<rect x="252.76" y="586.57" width="3.1" height="3.1" fill="#a8123a" stroke="#5a0c22" stroke-width="0.4"/>
<rect x="254.41" y="586.9" width="3.1" height="3.1" fill="#a8123a" stroke="#5a0c22" stroke-width="0.4"/>
<rect x="268.83" y="584.88" width="3.1" height="3.1" fill="#a8123a" stroke="#5a0c22" stroke-width="0.4"/>
<rect x="244.16" y="585.17" width="3.1" height="3.1" fill="#a8123a" stroke="#5a0c22" stroke-width="0.4"/>
<rect x="271.7" y="585.7" width="3.1" height="3.1" fill="#a8123a" stroke="#5a0c22" stroke-width="0.4"/>
<rect x="260.45" y="585.37" width="3.1" height="3.1" fill="#a8123a" stroke="#5a0c22" stroke-width="0.4"/>
<rect x="256.49" y="585.58" width="3.1" height="3.1" fill="#a8123a" stroke="#5a0c22" stroke-width="0.4"/>
<rect x="251.3" y="586.05" width="3.1" height="3.1" fill="#a8123a" stroke="#5a0c22" stroke-width="0.4"/>
<rect x="259.05" y="586.82" width="3.1" height="3.1" fill="#a8123a" stroke="#5a0c22" stroke-width="0.4"/>
<rect x="262.29" y="586.88" width="3.1" height="3.1" fill="#a8123a" stroke="#5a0c22" stroke-width="0.4"/>
<rect x="268.08" y="587.03" width="3.1" height="3.1" fill="#a8123a" stroke="#5a0c22" stroke-width="0.4"/>
<rect x="261.94" y="585.04" width="3.1" height="3.1" fill="#a8123a" stroke="#5a0c22" stroke-width="0.4"/>
<rect x="268.22" y="586.97" width="3.1" height="3.1" fill="#a8123a" stroke="#5a0c22" stroke-width="0.4"/>
<rect x="269.69" y="586.02" width="3.1" height="3.1" fill="#a8123a" stroke="#5a0c22" stroke-width="0.4"/>
<rect x="263.35" y="585.16" width="3.1" height="3.1" fill="#a8123a" stroke="#5a0c22" stroke-width="0.4"/>
<rect x="267.26" y="586.03" width="3.1" height="3.1" fill="#a8123a" stroke="#5a0c22" stroke-width="0.4"/>
<rect x="249.11" y="584.8" width="3.1" height="3.1" fill="#a8123a" stroke="#5a0c22" stroke-width="0.4"/>
<rect x="268" y="587.03" width="3.1" height="3.1" fill="#a8123a" stroke="#5a0c22" stroke-width="0.4"/>
<rect x="242.59" y="586.57" width="3.1" height="3.1" fill="#a8123a" stroke="#5a0c22" stroke-width="0.4"/>
<rect x="253.28" y="585.01" width="3.1" height="3.1" fill="#a8123a" stroke="#5a0c22" stroke-width="0.4"/>
<rect x="249.41" y="586.5" width="3.1" height="3.1" fill="#a8123a" stroke="#5a0c22" stroke-width="0.4"/>
<rect x="268.63" y="584.76" width="3.1" height="3.1" fill="#a8123a" stroke="#5a0c22" stroke-width="0.4"/>
<rect x="260.05" y="584.76" width="3.1" height="3.1" fill="#a8123a" stroke="#5a0c22" stroke-width="0.4"/>
<rect x="263.5" y="585.44" width="3.1" height="3.1" fill="#a8123a" stroke="#5a0c22" stroke-width="0.4"/>
<rect x="268.9" y="587" width="3.1" height="3.1" fill="#a8123a" stroke="#5a0c22" stroke-width="0.4"/>
<rect x="256.43" y="587.05" width="3.1" height="3.1" fill="#a8123a" stroke="#5a0c22" stroke-width="0.4"/>
<rect x="249.93" y="584.83" width="3.1" height="3.1" fill="#a8123a" stroke="#5a0c22" stroke-width="0.4"/>
<rect x="259.56" y="584.73" width="3.1" height="3.1" fill="#a8123a" stroke="#5a0c22" stroke-width="0.4"/>
<rect x="246.2" y="585.63" width="3.1" height="3.1" fill="#a8123a" stroke="#5a0c22" stroke-width="0.4"/>
<rect x="259.92" y="585.02" width="3.1" height="3.1" fill="#a8123a" stroke="#5a0c22" stroke-width="0.4"/>
<rect x="241.06" y="586.73" width="3.1" height="3.1" fill="#a8123a" stroke="#5a0c22" stroke-width="0.4"/>
<rect x="250.07" y="586.95" width="3.1" height="3.1" fill="#a8123a" stroke="#5a0c22" stroke-width="0.4"/>
<rect x="269.42" y="585.56" width="3.1" height="3.1" fill="#a8123a" stroke="#5a0c22" stroke-width="0.4"/>
<rect x="254.94" y="585.9" width="3.1" height="3.1" fill="#a8123a" stroke="#5a0c22" stroke-width="0.4"/>
<rect x="261.03" y="586.08" width="3.1" height="3.1" fill="#a8123a" stroke="#5a0c22" stroke-width="0.4"/>
<rect x="258.22" y="586.14" width="3.1" height="3.1" fill="#a8123a" stroke="#5a0c22" stroke-width="0.4"/>
<rect x="270.88" y="585.87" width="3.1" height="3.1" fill="#a8123a" stroke="#5a0c22" stroke-width="0.4"/>
<rect x="253.97" y="586.38" width="3.1" height="3.1" fill="#a8123a" stroke="#5a0c22" stroke-width="0.4"/>
<rect x="247.54" y="585.37" width="3.1" height="3.1" fill="#a8123a" stroke="#5a0c22" stroke-width="0.4"/>
<rect x="272.11" y="585.9" width="3.1" height="3.1" fill="#a8123a" stroke="#5a0c22" stroke-width="0.4"/>
<rect x="257.86" y="584.68" width="3.1" height="3.1" fill="#a8123a" stroke="#5a0c22" stroke-width="0.4"/>
<rect x="253.43" y="586.04" width="3.1" height="3.1" fill="#a8123a" stroke="#5a0c22" stroke-width="0.4"/>
<rect x="240.32" y="586.13" width="3.1" height="3.1" fill="#a8123a" stroke="#5a0c22" stroke-width="0.4"/>
<rect x="260.64" y="584.79" width="3.1" height="3.1" fill="#a8123a" stroke="#5a0c22" stroke-width="0.4"/>
<rect x="260.48" y="585.77" width="3.1" height="3.1" fill="#a8123a" stroke="#5a0c22" stroke-width="0.4"/>
<rect x="262.2" y="585.5" width="3.1" height="3.1" fill="#a8123a" stroke="#5a0c22" stroke-width="0.4"/>
<rect x="263.12" y="586.42" width="3.1" height="3.1" fill="#a8123a" stroke="#5a0c22" stroke-width="0.4"/>
<rect x="240.39" y="584.8" width="3.1" height="3.1" fill="#a8123a" stroke="#5a0c22" stroke-width="0.4"/>
<rect x="262.09" y="586.96" width="3.1" height="3.1" fill="#a8123a" stroke="#5a0c22" stroke-width="0.4"/>
<rect x="247.99" y="585.75" width="3.1" height="3.1" fill="#a8123a" stroke="#5a0c22" stroke-width="0.4"/>
<rect x="259.33" y="585.42" width="3.1" height="3.1" fill="#a8123a" stroke="#5a0c22" stroke-width="0.4"/>
<rect x="251.73" y="585.4" width="3.1" height="3.1" fill="#a8123a" stroke="#5a0c22" stroke-width="0.4"/>
<rect x="251.91" y="586.08" width="3.1" height="3.1" fill="#a8123a" stroke="#5a0c22" stroke-width="0.4"/>
<rect x="249.62" y="585.56" width="3.1" height="3.1" fill="#a8123a" stroke="#5a0c22" stroke-width="0.4"/>
<rect x="261.98" y="583.09" width="3.1" height="3.1" fill="#a8123a" stroke="#5a0c22" stroke-width="0.4"/>
<rect x="257.11" y="584.23" width="3.1" height="3.1" fill="#a8123a" stroke="#5a0c22" stroke-width="0.4"/>
<rect x="250.89" y="583.41" width="3.1" height="3.1" fill="#a8123a" stroke="#5a0c22" stroke-width="0.4"/>
<rect x="262.74" y="583.43" width="3.1" height="3.1" fill="#a8123a" stroke="#5a0c22" stroke-width="0.4"/>
<rect x="247.95" y="583.75" width="3.1" height="3.1" fill="#a8123a" stroke="#5a0c22" stroke-width="0.4"/>
<rect x="260.2" y="583.21" width="3.1" height="3.1" fill="#a8123a" stroke="#5a0c22" stroke-width="0.4"/>
<rect x="251.18" y="583.58" width="3.1" height="3.1" fill="#a8123a" stroke="#5a0c22" stroke-width="0.4"/>
<rect x="263.45" y="583.75" width="3.1" height="3.1" fill="#a8123a" stroke="#5a0c22" stroke-width="0.4"/>
<rect x="263.98" y="583.32" width="3.1" height="3.1" fill="#a8123a" stroke="#5a0c22" stroke-width="0.4"/>
<rect x="251.53" y="584.09" width="3.1" height="3.1" fill="#a8123a" stroke="#5a0c22" stroke-width="0.4"/>
<rect x="264.69" y="583.77" width="3.1" height="3.1" fill="#a8123a" stroke="#5a0c22" stroke-width="0.4"/>
<rect x="248.85" y="583.24" width="3.1" height="3.1" fill="#a8123a" stroke="#5a0c22" stroke-width="0.4"/>
<rect x="256.16" y="583.36" width="3.1" height="3.1" fill="#a8123a" stroke="#5a0c22" stroke-width="0.4"/>
<rect x="262.81" y="584.39" width="3.1" height="3.1" fill="#a8123a" stroke="#5a0c22" stroke-width="0.4"/>
<line x1="292.5" y1="560.1" x2="328" y2="560.1" stroke="#111" stroke-width="1.4"/>
<circle cx="310.2" cy="515.1" r="1.75" fill="#2a3d68" stroke="#181c30" stroke-width="0.5"/>
<circle cx="310.2" cy="530.2" r="1.75" fill="#2a3d68" stroke="#181c30" stroke-width="0.5"/>
<circle cx="307.7" cy="533.6" r="1.75" fill="#2a3d68" stroke="#181c30" stroke-width="0.5"/>
<circle cx="311.5" cy="536.4" r="1.75" fill="#2a3d68" stroke="#181c30" stroke-width="0.5"/>
<circle cx="310.2" cy="540.5" r="1.75" fill="#2a3d68" stroke="#181c30" stroke-width="0.5"/>
<circle cx="313.3" cy="541.9" r="1.75" fill="#2a3d68" stroke="#181c30" stroke-width="0.5"/>
<circle cx="306.3" cy="543.3" r="1.75" fill="#2a3d68" stroke="#181c30" stroke-width="0.5"/>
<circle cx="309.8" cy="545.7" r="1.75" fill="#2a3d68" stroke="#181c30" stroke-width="0.5"/>
<circle cx="308.1" cy="560.1" r="1.75" fill="#2a3d68" stroke="#181c30" stroke-width="0.5"/>
<circle cx="312.4" cy="561" r="1.75" fill="#2a3d68" stroke="#181c30" stroke-width="0.5"/>
<circle cx="306" cy="564.4" r="1.75" fill="#2a3d68" stroke="#181c30" stroke-width="0.5"/>
<circle cx="310.2" cy="565.8" r="1.75" fill="#2a3d68" stroke="#181c30" stroke-width="0.5"/>
<circle cx="310.2" cy="578.3" r="1.75" fill="#2a3d68" stroke="#181c30" stroke-width="0.5"/>
<circle cx="306.3" cy="582.6" r="1.75" fill="#2a3d68" stroke="#181c30" stroke-width="0.5"/>
<circle cx="313.3" cy="581.7" r="1.75" fill="#2a3d68" stroke="#181c30" stroke-width="0.5"/>
<circle cx="309" cy="584.3" r="1.75" fill="#2a3d68" stroke="#181c30" stroke-width="0.5"/>
<circle cx="311.5" cy="586" r="1.75" fill="#2a3d68" stroke="#181c30" stroke-width="0.5"/>
<circle cx="310.2" cy="589.2" r="1.75" fill="#2a3d68" stroke="#181c30" stroke-width="0.5"/>
<text x="351" y="492.7" font-size="12.8" text-anchor="start" fill="#000" font-weight="bold" font-style="normal" stroke="#000" stroke-width="0.45">F</text>
<text x="388.7" y="498.6" font-size="6.6" text-anchor="start" fill="#333" font-weight="normal" font-style="normal" textLength="52" lengthAdjust="spacingAndGlyphs" stroke="#333" stroke-width="0.1">Long <tspan font-style="italic">LINC00478</tspan></text>
<line x1="391.3" y1="588.9" x2="391.3" y2="549.3" stroke="#111" stroke-width="1.3"/>
<line x1="391.3" y1="545.9" x2="391.3" y2="506.4" stroke="#111" stroke-width="1.3"/>
<line x1="388" y1="549.3" x2="394.6" y2="549.3" stroke="#111" stroke-width="1.4"/>
<line x1="388" y1="545.9" x2="394.6" y2="545.9" stroke="#111" stroke-width="1.4"/>
<line x1="388.7" y1="588.3" x2="391.3" y2="588.3" stroke="#111" stroke-width="1.3"/>
<text x="385" y="590.5" font-size="6.2" text-anchor="end" fill="#222" font-weight="normal" font-style="normal" stroke="#222" stroke-width="0.22">0</text>
<line x1="388.7" y1="576.2" x2="391.3" y2="576.2" stroke="#111" stroke-width="1.3"/>
<text x="385" y="578.4" font-size="6.2" text-anchor="end" fill="#222" font-weight="normal" font-style="normal" stroke="#222" stroke-width="0.22">0.5</text>
<line x1="388.7" y1="564.1" x2="391.3" y2="564.1" stroke="#111" stroke-width="1.3"/>
<text x="385" y="566.3" font-size="6.2" text-anchor="end" fill="#222" font-weight="normal" font-style="normal" stroke="#222" stroke-width="0.22">1</text>
<line x1="388.7" y1="551.6" x2="391.3" y2="551.6" stroke="#111" stroke-width="1.3"/>
<text x="385" y="553.8" font-size="6.2" text-anchor="end" fill="#222" font-weight="normal" font-style="normal" stroke="#222" stroke-width="0.22">1.5</text>
<line x1="388.7" y1="545.9" x2="391.3" y2="545.9" stroke="#111" stroke-width="1.3"/>
<text x="385" y="548.1" font-size="6.2" text-anchor="end" fill="#222" font-weight="normal" font-style="normal" stroke="#222" stroke-width="0.22">2</text>
<line x1="388.7" y1="530.7" x2="391.3" y2="530.7" stroke="#111" stroke-width="1.3"/>
<text x="385" y="532.9" font-size="6.2" text-anchor="end" fill="#222" font-weight="normal" font-style="normal" stroke="#222" stroke-width="0.22">3</text>
<line x1="388.7" y1="514.7" x2="391.3" y2="514.7" stroke="#111" stroke-width="1.3"/>
<text x="385" y="516.9" font-size="6.2" text-anchor="end" fill="#222" font-weight="normal" font-style="normal" stroke="#222" stroke-width="0.22">4</text>
<line x1="391.3" y1="588.3" x2="493.2" y2="588.3" stroke="#111" stroke-width="1.3"/>
<line x1="416.4" y1="588.3" x2="416.4" y2="590.8" stroke="#111" stroke-width="1.2"/>
<line x1="467.6" y1="588.3" x2="467.6" y2="590.8" stroke="#111" stroke-width="1.2"/>
<text x="369.8" y="545.3" font-size="7.6" text-anchor="middle" fill="#222" font-weight="bold" font-style="normal" transform="rotate(-90 369.8 545.3)" textLength="77.5" lengthAdjust="spacingAndGlyphs" stroke="#222" stroke-width="0.18">Relative expression in T-ALL</text>
<text x="416.4" y="598.6" font-size="6" text-anchor="middle" fill="#222" font-weight="normal" font-style="normal" stroke="#222" stroke-width="0.22">TLX3-</text>
<text x="467.6" y="598.6" font-size="6" text-anchor="middle" fill="#222" font-weight="normal" font-style="normal" stroke="#222" stroke-width="0.22">TLX3+</text>
<line x1="416.4" y1="507.4" x2="467.7" y2="507.4" stroke="#111" stroke-width="1.4"/>
<line x1="416.4" y1="505.5" x2="416.4" y2="509.3" stroke="#111" stroke-width="1.2"/>
<line x1="467.7" y1="505.5" x2="467.7" y2="509.3" stroke="#111" stroke-width="1.2"/>
<circle cx="437.9" cy="503.8" r="0.85" fill="#111"/>
<circle cx="440.4" cy="503.8" r="0.85" fill="#111"/>
<circle cx="442.9" cy="503.8" r="0.85" fill="#111"/>
<line x1="398.8" y1="586.3" x2="433.5" y2="586.3" stroke="#111" stroke-width="1.2"/>
<rect x="414.85" y="533.75" width="3.1" height="3.1" fill="#a8123a" stroke="#5a0c22" stroke-width="0.4"/>
<rect x="414.85" y="552.45" width="3.1" height="3.1" fill="#a8123a" stroke="#5a0c22" stroke-width="0.4"/>
<rect x="414.85" y="558.55" width="3.1" height="3.1" fill="#a8123a" stroke="#5a0c22" stroke-width="0.4"/>
<rect x="414.85" y="566.35" width="3.1" height="3.1" fill="#a8123a" stroke="#5a0c22" stroke-width="0.4"/>
<rect x="414.85" y="571.55" width="3.1" height="3.1" fill="#a8123a" stroke="#5a0c22" stroke-width="0.4"/>
<rect x="414.85" y="576.95" width="3.1" height="3.1" fill="#a8123a" stroke="#5a0c22" stroke-width="0.4"/>
<rect x="410.25" y="580.75" width="3.1" height="3.1" fill="#a8123a" stroke="#5a0c22" stroke-width="0.4"/>
<rect x="418.95" y="581.25" width="3.1" height="3.1" fill="#a8123a" stroke="#5a0c22" stroke-width="0.4"/>
<rect x="418.58" y="586.23" width="3.1" height="3.1" fill="#a8123a" stroke="#5a0c22" stroke-width="0.4"/>
<rect x="424.1" y="586.71" width="3.1" height="3.1" fill="#a8123a" stroke="#5a0c22" stroke-width="0.4"/>
<rect x="422.33" y="586.66" width="3.1" height="3.1" fill="#a8123a" stroke="#5a0c22" stroke-width="0.4"/>
<rect x="399.58" y="585.57" width="3.1" height="3.1" fill="#a8123a" stroke="#5a0c22" stroke-width="0.4"/>
<rect x="428.84" y="586.01" width="3.1" height="3.1" fill="#a8123a" stroke="#5a0c22" stroke-width="0.4"/>
<rect x="427.48" y="584.72" width="3.1" height="3.1" fill="#a8123a" stroke="#5a0c22" stroke-width="0.4"/>
<rect x="413.66" y="585.04" width="3.1" height="3.1" fill="#a8123a" stroke="#5a0c22" stroke-width="0.4"/>
<rect x="416.05" y="585.83" width="3.1" height="3.1" fill="#a8123a" stroke="#5a0c22" stroke-width="0.4"/>
<rect x="399.07" y="584.97" width="3.1" height="3.1" fill="#a8123a" stroke="#5a0c22" stroke-width="0.4"/>
<rect x="407.59" y="586.65" width="3.1" height="3.1" fill="#a8123a" stroke="#5a0c22" stroke-width="0.4"/>
<rect x="423.15" y="584.83" width="3.1" height="3.1" fill="#a8123a" stroke="#5a0c22" stroke-width="0.4"/>
<rect x="424.16" y="584.78" width="3.1" height="3.1" fill="#a8123a" stroke="#5a0c22" stroke-width="0.4"/>
<rect x="418.41" y="584.75" width="3.1" height="3.1" fill="#a8123a" stroke="#5a0c22" stroke-width="0.4"/>
<rect x="398.71" y="586.54" width="3.1" height="3.1" fill="#a8123a" stroke="#5a0c22" stroke-width="0.4"/>
<rect x="405.35" y="584.97" width="3.1" height="3.1" fill="#a8123a" stroke="#5a0c22" stroke-width="0.4"/>
<rect x="430.09" y="586.54" width="3.1" height="3.1" fill="#a8123a" stroke="#5a0c22" stroke-width="0.4"/>
<rect x="407.91" y="586.76" width="3.1" height="3.1" fill="#a8123a" stroke="#5a0c22" stroke-width="0.4"/>
<rect x="415.91" y="586.08" width="3.1" height="3.1" fill="#a8123a" stroke="#5a0c22" stroke-width="0.4"/>
<rect x="405.2" y="586.71" width="3.1" height="3.1" fill="#a8123a" stroke="#5a0c22" stroke-width="0.4"/>
<rect x="420.75" y="586.77" width="3.1" height="3.1" fill="#a8123a" stroke="#5a0c22" stroke-width="0.4"/>
<rect x="427.25" y="585.17" width="3.1" height="3.1" fill="#a8123a" stroke="#5a0c22" stroke-width="0.4"/>
<rect x="410.21" y="584.85" width="3.1" height="3.1" fill="#a8123a" stroke="#5a0c22" stroke-width="0.4"/>
<rect x="403.31" y="584.61" width="3.1" height="3.1" fill="#a8123a" stroke="#5a0c22" stroke-width="0.4"/>
<rect x="408.29" y="585.9" width="3.1" height="3.1" fill="#a8123a" stroke="#5a0c22" stroke-width="0.4"/>
<rect x="398.76" y="586.08" width="3.1" height="3.1" fill="#a8123a" stroke="#5a0c22" stroke-width="0.4"/>
<rect x="409.46" y="585.19" width="3.1" height="3.1" fill="#a8123a" stroke="#5a0c22" stroke-width="0.4"/>
<rect x="424.84" y="585.6" width="3.1" height="3.1" fill="#a8123a" stroke="#5a0c22" stroke-width="0.4"/>
<rect x="408.76" y="585.6" width="3.1" height="3.1" fill="#a8123a" stroke="#5a0c22" stroke-width="0.4"/>
<rect x="421.2" y="584.59" width="3.1" height="3.1" fill="#a8123a" stroke="#5a0c22" stroke-width="0.4"/>
<rect x="429.85" y="584.5" width="3.1" height="3.1" fill="#a8123a" stroke="#5a0c22" stroke-width="0.4"/>
<rect x="422.64" y="586.48" width="3.1" height="3.1" fill="#a8123a" stroke="#5a0c22" stroke-width="0.4"/>
<rect x="399.23" y="586.34" width="3.1" height="3.1" fill="#a8123a" stroke="#5a0c22" stroke-width="0.4"/>
<rect x="410.37" y="585.84" width="3.1" height="3.1" fill="#a8123a" stroke="#5a0c22" stroke-width="0.4"/>
<rect x="398.94" y="584.56" width="3.1" height="3.1" fill="#a8123a" stroke="#5a0c22" stroke-width="0.4"/>
<rect x="404.44" y="586.74" width="3.1" height="3.1" fill="#a8123a" stroke="#5a0c22" stroke-width="0.4"/>
<rect x="404.94" y="586.26" width="3.1" height="3.1" fill="#a8123a" stroke="#5a0c22" stroke-width="0.4"/>
<rect x="428.4" y="586.71" width="3.1" height="3.1" fill="#a8123a" stroke="#5a0c22" stroke-width="0.4"/>
<rect x="409.67" y="585.3" width="3.1" height="3.1" fill="#a8123a" stroke="#5a0c22" stroke-width="0.4"/>
<rect x="415.44" y="586.31" width="3.1" height="3.1" fill="#a8123a" stroke="#5a0c22" stroke-width="0.4"/>
<rect x="402.11" y="586.25" width="3.1" height="3.1" fill="#a8123a" stroke="#5a0c22" stroke-width="0.4"/>
<rect x="424.16" y="586.51" width="3.1" height="3.1" fill="#a8123a" stroke="#5a0c22" stroke-width="0.4"/>
<rect x="399.82" y="586.72" width="3.1" height="3.1" fill="#a8123a" stroke="#5a0c22" stroke-width="0.4"/>
<rect x="401.57" y="585.27" width="3.1" height="3.1" fill="#a8123a" stroke="#5a0c22" stroke-width="0.4"/>
<rect x="418.2" y="586.65" width="3.1" height="3.1" fill="#a8123a" stroke="#5a0c22" stroke-width="0.4"/>
<rect x="409.53" y="586.67" width="3.1" height="3.1" fill="#a8123a" stroke="#5a0c22" stroke-width="0.4"/>
<rect x="416.09" y="585.2" width="3.1" height="3.1" fill="#a8123a" stroke="#5a0c22" stroke-width="0.4"/>
<rect x="408.79" y="584.88" width="3.1" height="3.1" fill="#a8123a" stroke="#5a0c22" stroke-width="0.4"/>
<rect x="401.15" y="584.81" width="3.1" height="3.1" fill="#a8123a" stroke="#5a0c22" stroke-width="0.4"/>
<rect x="420.7" y="586.84" width="3.1" height="3.1" fill="#a8123a" stroke="#5a0c22" stroke-width="0.4"/>
<rect x="403.82" y="584.57" width="3.1" height="3.1" fill="#a8123a" stroke="#5a0c22" stroke-width="0.4"/>
<rect x="430.22" y="585.73" width="3.1" height="3.1" fill="#a8123a" stroke="#5a0c22" stroke-width="0.4"/>
<rect x="411.64" y="585.02" width="3.1" height="3.1" fill="#a8123a" stroke="#5a0c22" stroke-width="0.4"/>
<rect x="417.66" y="586.43" width="3.1" height="3.1" fill="#a8123a" stroke="#5a0c22" stroke-width="0.4"/>
<rect x="413.23" y="585.46" width="3.1" height="3.1" fill="#a8123a" stroke="#5a0c22" stroke-width="0.4"/>
<rect x="400.43" y="586.65" width="3.1" height="3.1" fill="#a8123a" stroke="#5a0c22" stroke-width="0.4"/>
<rect x="399.7" y="585.63" width="3.1" height="3.1" fill="#a8123a" stroke="#5a0c22" stroke-width="0.4"/>
<rect x="425.48" y="584.76" width="3.1" height="3.1" fill="#a8123a" stroke="#5a0c22" stroke-width="0.4"/>
<rect x="422.06" y="586.73" width="3.1" height="3.1" fill="#a8123a" stroke="#5a0c22" stroke-width="0.4"/>
<rect x="418.82" y="586.34" width="3.1" height="3.1" fill="#a8123a" stroke="#5a0c22" stroke-width="0.4"/>
<rect x="402.06" y="585.49" width="3.1" height="3.1" fill="#a8123a" stroke="#5a0c22" stroke-width="0.4"/>
<rect x="403.43" y="586.48" width="3.1" height="3.1" fill="#a8123a" stroke="#5a0c22" stroke-width="0.4"/>
<rect x="408.08" y="585.54" width="3.1" height="3.1" fill="#a8123a" stroke="#5a0c22" stroke-width="0.4"/>
<rect x="430.63" y="586.5" width="3.1" height="3.1" fill="#a8123a" stroke="#5a0c22" stroke-width="0.4"/>
<rect x="429.88" y="585.54" width="3.1" height="3.1" fill="#a8123a" stroke="#5a0c22" stroke-width="0.4"/>
<rect x="414.75" y="584.02" width="3.1" height="3.1" fill="#a8123a" stroke="#5a0c22" stroke-width="0.4"/>
<rect x="414.59" y="583.32" width="3.1" height="3.1" fill="#a8123a" stroke="#5a0c22" stroke-width="0.4"/>
<rect x="413.31" y="583.08" width="3.1" height="3.1" fill="#a8123a" stroke="#5a0c22" stroke-width="0.4"/>
<rect x="412.86" y="584.43" width="3.1" height="3.1" fill="#a8123a" stroke="#5a0c22" stroke-width="0.4"/>
<rect x="422.77" y="583.85" width="3.1" height="3.1" fill="#a8123a" stroke="#5a0c22" stroke-width="0.4"/>
<rect x="414.94" y="583.39" width="3.1" height="3.1" fill="#a8123a" stroke="#5a0c22" stroke-width="0.4"/>
<rect x="407.97" y="583.29" width="3.1" height="3.1" fill="#a8123a" stroke="#5a0c22" stroke-width="0.4"/>
<rect x="419.74" y="584.24" width="3.1" height="3.1" fill="#a8123a" stroke="#5a0c22" stroke-width="0.4"/>
<rect x="412.59" y="584.11" width="3.1" height="3.1" fill="#a8123a" stroke="#5a0c22" stroke-width="0.4"/>
<rect x="419.62" y="583.96" width="3.1" height="3.1" fill="#a8123a" stroke="#5a0c22" stroke-width="0.4"/>
<line x1="449.9" y1="574.6" x2="485.2" y2="574.6" stroke="#111" stroke-width="1.4"/>
<circle cx="467.2" cy="513" r="1.7" fill="#2a3d68" stroke="#181c30" stroke-width="0.5"/>
<circle cx="469.5" cy="520.3" r="1.7" fill="#2a3d68" stroke="#181c30" stroke-width="0.5"/>
<circle cx="465.5" cy="524.3" r="1.7" fill="#2a3d68" stroke="#181c30" stroke-width="0.5"/>
<circle cx="467.6" cy="529.8" r="1.7" fill="#2a3d68" stroke="#181c30" stroke-width="0.5"/>
<circle cx="467.6" cy="535.9" r="1.7" fill="#2a3d68" stroke="#181c30" stroke-width="0.5"/>
<circle cx="467.6" cy="545.4" r="1.7" fill="#2a3d68" stroke="#181c30" stroke-width="0.5"/>
<circle cx="467.6" cy="550.2" r="1.7" fill="#2a3d68" stroke="#181c30" stroke-width="0.5"/>
<circle cx="465.2" cy="569.1" r="1.7" fill="#2a3d68" stroke="#181c30" stroke-width="0.5"/>
<circle cx="469.5" cy="570.1" r="1.7" fill="#2a3d68" stroke="#181c30" stroke-width="0.5"/>
<circle cx="463.8" cy="574.4" r="1.7" fill="#2a3d68" stroke="#181c30" stroke-width="0.5"/>
<circle cx="467.6" cy="577.3" r="1.7" fill="#2a3d68" stroke="#181c30" stroke-width="0.5"/>
<circle cx="471" cy="577.8" r="1.7" fill="#2a3d68" stroke="#181c30" stroke-width="0.5"/>
<circle cx="467.6" cy="582.6" r="1.7" fill="#2a3d68" stroke="#181c30" stroke-width="0.5"/>
<circle cx="467.07" cy="586.77" r="1.7" fill="#2a3d68" stroke="#181c30" stroke-width="0.5"/>
<circle cx="461.06" cy="588.05" r="1.7" fill="#2a3d68" stroke="#181c30" stroke-width="0.5"/>
<circle cx="458.62" cy="587.11" r="1.7" fill="#2a3d68" stroke="#181c30" stroke-width="0.5"/>
<circle cx="475.12" cy="586.01" r="1.7" fill="#2a3d68" stroke="#181c30" stroke-width="0.5"/>
<circle cx="468.75" cy="587.4" r="1.7" fill="#2a3d68" stroke="#181c30" stroke-width="0.5"/>
<circle cx="459.26" cy="586.79" r="1.7" fill="#2a3d68" stroke="#181c30" stroke-width="0.5"/>
<circle cx="471.51" cy="586.98" r="1.7" fill="#2a3d68" stroke="#181c30" stroke-width="0.5"/>
<circle cx="471.91" cy="586.21" r="1.7" fill="#2a3d68" stroke="#181c30" stroke-width="0.5"/>
<circle cx="462.9" cy="586.09" r="1.7" fill="#2a3d68" stroke="#181c30" stroke-width="0.5"/>
<circle cx="467.87" cy="588.2" r="1.7" fill="#2a3d68" stroke="#181c30" stroke-width="0.5"/>
<circle cx="469.42" cy="587.81" r="1.7" fill="#2a3d68" stroke="#181c30" stroke-width="0.5"/>
<circle cx="465.6" cy="587.74" r="1.7" fill="#2a3d68" stroke="#181c30" stroke-width="0.5"/>
<circle cx="460.38" cy="586.56" r="1.7" fill="#2a3d68" stroke="#181c30" stroke-width="0.5"/>
<circle cx="470.97" cy="587.69" r="1.7" fill="#2a3d68" stroke="#181c30" stroke-width="0.5"/>
<circle cx="466.3" cy="586.03" r="1.7" fill="#2a3d68" stroke="#181c30" stroke-width="0.5"/>
<circle cx="463.43" cy="586.35" r="1.7" fill="#2a3d68" stroke="#181c30" stroke-width="0.5"/>
<text x="6.4" y="621.8" font-size="12.8" text-anchor="start" fill="#000" font-weight="bold" font-style="normal" stroke="#000" stroke-width="0.45">G</text>
<text x="49.2" y="636.2" font-size="6.6" text-anchor="start" fill="#333" font-weight="normal" font-style="normal" textLength="52.3" lengthAdjust="spacingAndGlyphs" stroke="#333" stroke-width="0.1">Short <tspan font-style="italic">LINC00478</tspan></text>
<line x1="46.5" y1="716.1" x2="46.5" y2="642.4" stroke="#111" stroke-width="1.4"/>
<line x1="43.7" y1="715.5" x2="46.5" y2="715.5" stroke="#111" stroke-width="1.3"/>
<text x="39.6" y="717.8" font-size="6.2" text-anchor="end" fill="#222" font-weight="normal" font-style="normal" stroke="#222" stroke-width="0.22">0</text>
<line x1="43.7" y1="701.4" x2="46.5" y2="701.4" stroke="#111" stroke-width="1.3"/>
<text x="39.6" y="703.7" font-size="6.2" text-anchor="end" fill="#222" font-weight="normal" font-style="normal" stroke="#222" stroke-width="0.22">2</text>
<line x1="43.7" y1="687.3" x2="46.5" y2="687.3" stroke="#111" stroke-width="1.3"/>
<text x="39.6" y="689.6" font-size="6.2" text-anchor="end" fill="#222" font-weight="normal" font-style="normal" stroke="#222" stroke-width="0.22">4</text>
<line x1="43.7" y1="673.2" x2="46.5" y2="673.2" stroke="#111" stroke-width="1.3"/>
<text x="39.6" y="675.5" font-size="6.2" text-anchor="end" fill="#222" font-weight="normal" font-style="normal" stroke="#222" stroke-width="0.22">6</text>
<line x1="43.7" y1="659.1" x2="46.5" y2="659.1" stroke="#111" stroke-width="1.3"/>
<text x="39.6" y="661.4" font-size="6.2" text-anchor="end" fill="#222" font-weight="normal" font-style="normal" stroke="#222" stroke-width="0.22">8</text>
<line x1="43.7" y1="645" x2="46.5" y2="645" stroke="#111" stroke-width="1.3"/>
<text x="39.6" y="647.3" font-size="6.2" text-anchor="end" fill="#222" font-weight="normal" font-style="normal" stroke="#222" stroke-width="0.22">10</text>
<rect x="52.6" y="695.05" width="8.2" height="20.45" fill="#a50a2a"/>
<line x1="56.7" y1="695.05" x2="56.7" y2="689.77" stroke="#111" stroke-width="1.3"/>
<line x1="55.1" y1="689.77" x2="58.3" y2="689.77" stroke="#111" stroke-width="1.3"/>
<rect x="64.3" y="668.26" width="8.2" height="47.24" fill="#2f4d7e"/>
<line x1="68.4" y1="668.26" x2="68.4" y2="656.99" stroke="#111" stroke-width="1.3"/>
<line x1="66.8" y1="656.99" x2="70" y2="656.99" stroke="#111" stroke-width="1.3"/>
<rect x="84.2" y="705.98" width="8.2" height="9.52" fill="#a50a2a"/>
<line x1="88.3" y1="705.98" x2="88.3" y2="704.92" stroke="#111" stroke-width="1.3"/>
<line x1="86.7" y1="704.92" x2="89.9" y2="704.92" stroke="#111" stroke-width="1.3"/>
<rect x="95.9" y="663.33" width="8.2" height="52.17" fill="#2f4d7e"/>
<line x1="100" y1="663.33" x2="100" y2="655.22" stroke="#111" stroke-width="1.3"/>
<line x1="98.4" y1="655.22" x2="101.6" y2="655.22" stroke="#111" stroke-width="1.3"/>
<rect x="116.3" y="709.86" width="8.2" height="5.64" fill="#a50a2a"/>
<line x1="120.4" y1="709.86" x2="120.4" y2="709.15" stroke="#111" stroke-width="1.3"/>
<line x1="118.8" y1="709.15" x2="122" y2="709.15" stroke="#111" stroke-width="1.3"/>
<rect x="128" y="676.3" width="8.2" height="39.2" fill="#2f4d7e"/>
<line x1="132.1" y1="676.3" x2="132.1" y2="671.3" stroke="#111" stroke-width="1.3"/>
<line x1="130.5" y1="671.3" x2="133.7" y2="671.3" stroke="#111" stroke-width="1.3"/>
<line x1="46.5" y1="715.5" x2="140" y2="715.5" stroke="#111" stroke-width="1.4"/>
<line x1="62.4" y1="715.5" x2="62.4" y2="718.3" stroke="#111" stroke-width="1.4"/>
<line x1="94" y1="715.5" x2="94" y2="718.3" stroke="#111" stroke-width="1.4"/>
<line x1="126.1" y1="715.5" x2="126.1" y2="718.3" stroke="#111" stroke-width="1.4"/>
<text x="62.4" y="727.6" font-size="7" text-anchor="middle" fill="#222" font-weight="normal" font-style="normal" stroke="#222" stroke-width="0.22">DN</text>
<text x="94" y="727.6" font-size="7" text-anchor="middle" fill="#222" font-weight="normal" font-style="normal" stroke="#222" stroke-width="0.22">ISP</text>
<text x="126.1" y="727.6" font-size="7" text-anchor="middle" fill="#222" font-weight="normal" font-style="normal" stroke="#222" stroke-width="0.22">DP</text>
<text x="25.8" y="678.5" font-size="7.6" text-anchor="middle" fill="#222" font-weight="bold" font-style="normal" transform="rotate(-90 25.8 678.5)" textLength="77" lengthAdjust="spacingAndGlyphs" stroke="#222" stroke-width="0.18">Relative expression in T-cells</text>
<rect x="111.2" y="632.1" width="5.3" height="4.3" fill="#a50a2a"/>
<text x="119.1" y="636.6" font-size="5.6" text-anchor="start" fill="#555" font-weight="normal" font-style="normal" style="font-family:'Liberation Serif', serif" textLength="13.6" lengthAdjust="spacingAndGlyphs" stroke="#555" stroke-width="0.1">CTRL</text>
<rect x="111.2" y="640" width="5.3" height="4.4" fill="#2f4d7e"/>
<text x="119.1" y="644.6" font-size="5.6" text-anchor="start" fill="#555" font-weight="normal" font-style="normal" style="font-family:'Liberation Serif', serif" textLength="12.8" lengthAdjust="spacingAndGlyphs" stroke="#555" stroke-width="0.1">TLX3</text>
<line x1="57.3" y1="651.9" x2="68.8" y2="651.9" stroke="#111" stroke-width="1.2"/>
<line x1="57.3" y1="650.4" x2="57.3" y2="653.4" stroke="#111" stroke-width="1.2"/>
<line x1="68.8" y1="650.4" x2="68.8" y2="653.4" stroke="#111" stroke-width="1.2"/>
<text x="63.05" y="649.3" font-size="5" text-anchor="middle" fill="#444" font-weight="normal" font-style="normal" textLength="8.4" lengthAdjust="spacingAndGlyphs" stroke="#444" stroke-width="0.05">NS</text>
<line x1="88.6" y1="651.6" x2="100.3" y2="651.6" stroke="#111" stroke-width="1.2"/>
<line x1="88.6" y1="650.1" x2="88.6" y2="653.1" stroke="#111" stroke-width="1.2"/>
<line x1="100.3" y1="650.1" x2="100.3" y2="653.1" stroke="#111" stroke-width="1.2"/>
<circle cx="92.7" cy="647" r="1.15" fill="#111"/>
<circle cx="96.2" cy="647" r="1.15" fill="#111"/>
<line x1="120.3" y1="651.6" x2="131.9" y2="651.6" stroke="#111" stroke-width="1.2"/>
<line x1="120.3" y1="650.1" x2="120.3" y2="653.1" stroke="#111" stroke-width="1.2"/>
<line x1="131.9" y1="650.1" x2="131.9" y2="653.1" stroke="#111" stroke-width="1.2"/>
<circle cx="124.35" cy="647" r="1.15" fill="#111"/>
<circle cx="127.85" cy="647" r="1.15" fill="#111"/>
<text x="154.9" y="621.8" font-size="12.8" text-anchor="start" fill="#000" font-weight="bold" font-style="normal" stroke="#000" stroke-width="0.45">H</text>
<text x="197.8" y="636.2" font-size="6.6" text-anchor="start" fill="#333" font-weight="normal" font-style="normal" textLength="51.4" lengthAdjust="spacingAndGlyphs" stroke="#333" stroke-width="0.1">Long <tspan font-style="italic">LINC00478</tspan></text>
<line x1="194" y1="715.9" x2="194" y2="642.4" stroke="#111" stroke-width="1.4"/>
<line x1="191.2" y1="715.3" x2="194" y2="715.3" stroke="#111" stroke-width="1.3"/>
<text x="188.1" y="717.6" font-size="6.2" text-anchor="end" fill="#222" font-weight="normal" font-style="normal" stroke="#222" stroke-width="0.22">0</text>
<line x1="191.2" y1="701" x2="194" y2="701" stroke="#111" stroke-width="1.3"/>
<text x="188.1" y="703.3" font-size="6.2" text-anchor="end" fill="#222" font-weight="normal" font-style="normal" stroke="#222" stroke-width="0.22">1</text>
<line x1="191.2" y1="686.7" x2="194" y2="686.7" stroke="#111" stroke-width="1.3"/>
<text x="188.1" y="689" font-size="6.2" text-anchor="end" fill="#222" font-weight="normal" font-style="normal" stroke="#222" stroke-width="0.22">2</text>
<line x1="191.2" y1="672.4" x2="194" y2="672.4" stroke="#111" stroke-width="1.3"/>
<text x="188.1" y="674.7" font-size="6.2" text-anchor="end" fill="#222" font-weight="normal" font-style="normal" stroke="#222" stroke-width="0.22">3</text>
<line x1="191.2" y1="658.1" x2="194" y2="658.1" stroke="#111" stroke-width="1.3"/>
<text x="188.1" y="660.4" font-size="6.2" text-anchor="end" fill="#222" font-weight="normal" font-style="normal" stroke="#222" stroke-width="0.22">4</text>
<line x1="191.2" y1="643.8" x2="194" y2="643.8" stroke="#111" stroke-width="1.3"/>
<text x="188.1" y="646.1" font-size="6.2" text-anchor="end" fill="#222" font-weight="normal" font-style="normal" stroke="#222" stroke-width="0.22">5</text>
<rect x="200.5" y="710.29" width="8.2" height="5" fill="#a50a2a"/>
<line x1="204.6" y1="710.29" x2="204.6" y2="709.87" stroke="#111" stroke-width="1.3"/>
<line x1="203" y1="709.87" x2="206.2" y2="709.87" stroke="#111" stroke-width="1.3"/>
<rect x="212.2" y="678.12" width="8.2" height="37.18" fill="#2f4d7e"/>
<line x1="216.3" y1="678.12" x2="216.3" y2="671.68" stroke="#111" stroke-width="1.3"/>
<line x1="214.7" y1="671.68" x2="217.9" y2="671.68" stroke="#111" stroke-width="1.3"/>
<rect x="232.7" y="701" width="8.2" height="14.3" fill="#a50a2a"/>
<line x1="236.8" y1="701" x2="236.8" y2="699.57" stroke="#111" stroke-width="1.3"/>
<line x1="235.2" y1="699.57" x2="238.4" y2="699.57" stroke="#111" stroke-width="1.3"/>
<rect x="244.4" y="691.56" width="8.2" height="23.74" fill="#2f4d7e"/>
<line x1="248.5" y1="691.56" x2="248.5" y2="687.41" stroke="#111" stroke-width="1.3"/>
<line x1="246.9" y1="687.41" x2="250.1" y2="687.41" stroke="#111" stroke-width="1.3"/>
<rect x="264.4" y="682.84" width="8.2" height="32.46" fill="#a50a2a"/>
<line x1="268.5" y1="682.84" x2="268.5" y2="679.12" stroke="#111" stroke-width="1.3"/>
<line x1="266.9" y1="679.12" x2="270.1" y2="679.12" stroke="#111" stroke-width="1.3"/>
<rect x="276.1" y="665.25" width="8.2" height="50.05" fill="#2f4d7e"/>
<line x1="280.2" y1="665.25" x2="280.2" y2="656.24" stroke="#111" stroke-width="1.3"/>
<line x1="278.6" y1="656.24" x2="281.8" y2="656.24" stroke="#111" stroke-width="1.3"/>
<line x1="194" y1="715.3" x2="287.5" y2="715.3" stroke="#111" stroke-width="1.4"/>
<line x1="210.3" y1="715.3" x2="210.3" y2="718.1" stroke="#111" stroke-width="1.4"/>
<line x1="242.5" y1="715.3" x2="242.5" y2="718.1" stroke="#111" stroke-width="1.4"/>
<line x1="274.2" y1="715.3" x2="274.2" y2="718.1" stroke="#111" stroke-width="1.4"/>
<text x="210.3" y="727.6" font-size="7" text-anchor="middle" fill="#222" font-weight="normal" font-style="normal" stroke="#222" stroke-width="0.22">DN</text>
<text x="242.5" y="727.6" font-size="7" text-anchor="middle" fill="#222" font-weight="normal" font-style="normal" stroke="#222" stroke-width="0.22">ISP</text>
<text x="274.2" y="727.6" font-size="7" text-anchor="middle" fill="#222" font-weight="normal" font-style="normal" stroke="#222" stroke-width="0.22">DP</text>
<text x="174.2" y="678.5" font-size="7.6" text-anchor="middle" fill="#222" font-weight="bold" font-style="normal" transform="rotate(-90 174.2 678.5)" textLength="77" lengthAdjust="spacingAndGlyphs" stroke="#222" stroke-width="0.18">Relative expression in T-cells</text>
<rect x="254.4" y="630.3" width="5.3" height="4.3" fill="#a50a2a"/>
<text x="262.3" y="634.8" font-size="5.6" text-anchor="start" fill="#555" font-weight="normal" font-style="normal" textLength="13.6" lengthAdjust="spacingAndGlyphs" stroke="#555" stroke-width="0.1">CTRL</text>
<rect x="254.4" y="638.2" width="5.3" height="4.4" fill="#2f4d7e"/>
<text x="262.3" y="642.8" font-size="5.6" text-anchor="start" fill="#555" font-weight="normal" font-style="normal" textLength="12.8" lengthAdjust="spacingAndGlyphs" stroke="#555" stroke-width="0.1">TLX3</text>
<line x1="204.5" y1="664" x2="217" y2="664" stroke="#111" stroke-width="1.2"/>
<line x1="204.5" y1="662.5" x2="204.5" y2="665.5" stroke="#111" stroke-width="1.2"/>
<line x1="217" y1="662.5" x2="217" y2="665.5" stroke="#111" stroke-width="1.2"/>
<circle cx="209" cy="659.4" r="1.15" fill="#111"/>
<circle cx="212.5" cy="659.4" r="1.15" fill="#111"/>
<line x1="236.3" y1="664" x2="248.8" y2="664" stroke="#111" stroke-width="1.2"/>
<line x1="236.3" y1="662.5" x2="236.3" y2="665.5" stroke="#111" stroke-width="1.2"/>
<line x1="248.8" y1="662.5" x2="248.8" y2="665.5" stroke="#111" stroke-width="1.2"/>
<circle cx="242.55" cy="659.4" r="1.15" fill="#111"/>
<line x1="269" y1="651.3" x2="281" y2="651.3" stroke="#111" stroke-width="1.2"/>
<line x1="269" y1="649.8" x2="269" y2="652.8" stroke="#111" stroke-width="1.2"/>
<line x1="281" y1="649.8" x2="281" y2="652.8" stroke="#111" stroke-width="1.2"/>
<text x="275" y="648.7" font-size="5" text-anchor="middle" fill="#444" font-weight="normal" font-style="normal" textLength="8.4" lengthAdjust="spacingAndGlyphs" stroke="#444" stroke-width="0.05">NS</text>
<text x="303" y="621.4" font-size="12.8" text-anchor="start" fill="#000" font-weight="bold" font-style="normal" stroke="#000" stroke-width="0.45">I</text>
<ellipse cx="399.8" cy="624.8" rx="12.9" ry="10" fill="#c4d9f2" stroke="#111826" stroke-width="1.5"/>
<text x="399.9" y="628" font-size="6.6" text-anchor="middle" fill="#1c2a48" font-weight="bold" font-style="normal" textLength="14.2" lengthAdjust="spacingAndGlyphs" stroke="#1c2a48" stroke-width="0.18">TLX3</text>
<line x1="390.5" y1="632.5" x2="359.77" y2="653.5" stroke="#111" stroke-width="1.4"/>
<path d="M357,655.4 L360.21,650.18 L363.03,654.3 Z" stroke="none" fill="#111" stroke-width="1"/>
<line x1="413.6" y1="628.2" x2="487.2" y2="647.8" stroke="#111" stroke-width="1.5" stroke-dasharray="3.4,2.1"/>
<line x1="486.63" y1="649.93" x2="487.77" y2="645.67" stroke="#111" stroke-width="1.5"/>
<line x1="410.8" y1="633.6" x2="440.68" y2="647.53" stroke="#111" stroke-width="1.5" stroke-dasharray="3.4,2.1"/>
<path d="M443.4,648.8 L437.9,648.77 L439.84,644.6 Z" stroke="none" fill="#111" stroke-width="1"/>
<text x="422.4" y="643.6" font-size="5.8" text-anchor="middle" fill="#333" font-weight="normal" font-style="normal" stroke="#333" stroke-width="0.22">?</text>
<text x="427" y="629.8" font-size="6.6" text-anchor="start" fill="#222" font-weight="normal" font-style="normal" textLength="20" lengthAdjust="spacingAndGlyphs" stroke="#222" stroke-width="0.22">RUNX1</text>
<text x="451.5" y="629.9" font-size="5.4" text-anchor="start" fill="#333" font-weight="normal" font-style="normal" style="font-family:'Liberation Serif', serif" textLength="52.3" lengthAdjust="spacingAndGlyphs" stroke="#333" stroke-width="0.12">(Della Gatta, G. 2012)</text>
<text x="453.5" y="638.4" font-size="6.6" text-anchor="start" fill="#222" font-weight="normal" font-style="normal" textLength="13" lengthAdjust="spacingAndGlyphs" stroke="#222" stroke-width="0.22">TCR</text>
<text x="466.6" y="638.4" font-size="5.6" text-anchor="start" fill="#333" font-weight="normal" font-style="normal" style="font-family:'Liberation Serif', serif" stroke="#333" stroke-width="0.1">α</text>
<text x="471.6" y="638.5" font-size="5.4" text-anchor="start" fill="#333" font-weight="normal" font-style="normal" style="font-family:'Liberation Serif', serif" textLength="36.2" lengthAdjust="spacingAndGlyphs" stroke="#333" stroke-width="0.12">(Dadi, S. 2012)</text>
<rect x="427.6" y="651.1" width="35.6" height="11.2" fill="#c2e0a4" stroke="#1e2a16" stroke-width="1.4"/>
<text x="445.4" y="658.8" font-size="6" text-anchor="middle" fill="#1a2a10" font-weight="normal" font-style="normal" textLength="27.5" lengthAdjust="spacingAndGlyphs" stroke="#1a2a10" stroke-width="0.22">Cell growth</text>
<rect x="467.8" y="651.1" width="38" height="10.8" fill="#dfa293" stroke="#2a1614" stroke-width="1.4"/>
<text x="486.8" y="658.7" font-size="5.8" text-anchor="middle" fill="#6a0e10" font-weight="normal" font-style="normal" textLength="33" lengthAdjust="spacingAndGlyphs" stroke="#6a0e10" stroke-width="0.22">Differentiation</text>
<line x1="423" y1="662.9" x2="423" y2="655.2" stroke="#111" stroke-width="1.3"/>
<path d="M423,652.8 L424.9,656.8 L421.1,656.8 Z" stroke="none" fill="#111" stroke-width="1"/>
<line x1="508.4" y1="651.8" x2="508.4" y2="658.8" stroke="#111" stroke-width="1.3"/>
<path d="M508.4,661.2 L506.5,657.2 L510.3,657.2 Z" stroke="none" fill="#111" stroke-width="1"/>
<text x="326.3" y="674.6" font-size="6.4" text-anchor="end" fill="#222" font-weight="normal" font-style="normal" textLength="15" lengthAdjust="spacingAndGlyphs" stroke="#222" stroke-width="0.22">chr21</text>
<line x1="330.8" y1="674.4" x2="404.8" y2="674.4" stroke="#222" stroke-width="1.4"/>
<line x1="341.1" y1="674.4" x2="341.1" y2="662.6" stroke="#111" stroke-width="1.3"/>
<path d="M341.5,661.9 L348.4,664.1 L341.5,666.3 Z" stroke="none" fill="#111" stroke-width="1"/>
<line x1="363.4" y1="674.4" x2="363.4" y2="662.6" stroke="#111" stroke-width="1.3"/>
<path d="M363.8,661.9 L370.7,664.1 L363.8,666.3 Z" stroke="none" fill="#111" stroke-width="1"/>
<text x="341.9" y="681" font-size="6.4" text-anchor="middle" fill="#222" font-weight="normal" font-style="normal" textLength="14.6" lengthAdjust="spacingAndGlyphs" stroke="#222" stroke-width="0.22">TSS1</text>
<text x="364.6" y="681" font-size="6.4" text-anchor="middle" fill="#222" font-weight="normal" font-style="normal" textLength="15.3" lengthAdjust="spacingAndGlyphs" stroke="#222" stroke-width="0.22">TSS2</text>
<text x="381.6" y="672.8" font-size="6.7" text-anchor="start" fill="#333" font-weight="normal" font-style="italic" textLength="34.6" lengthAdjust="spacingAndGlyphs" stroke="#333" stroke-width="0.22">LINC00478</text>
<path d="M357,692.9 C359.5,691.2 362,694.4 365,692.9 C368,691.4 371,694.2 374,692.9 C376,692.2 377.5,692.9 379.2,692.9 L380.15,692.9 L380.15,685.6 A2.3,2.3 0 1 1 382.65,685.6 L382.65,692.9 L386.25,692.9 L386.25,685.6 A2.3,2.3 0 1 1 388.75,685.6 L388.75,692.9 L392.35,692.9 L392.35,685.6 A2.3,2.3 0 1 1 394.85,685.6 L394.85,692.9 L401.8,692.9" stroke="#1a1a1a" fill="none" stroke-width="1.2"/>
<line x1="359.4" y1="695.8" x2="359.4" y2="703.2" stroke="#111" stroke-width="1.3"/>
<path d="M359.4,705.6 L357.5,701.6 L361.3,701.6 Z" stroke="none" fill="#111" stroke-width="1"/>
<line x1="361.5" y1="710.7" x2="370.8" y2="710.7" stroke="#333" stroke-width="1.3"/>
<line x1="354.6" y1="717.3" x2="362.3" y2="717.3" stroke="#444" stroke-width="1.4"/>
<line x1="371.5" y1="717.3" x2="379.2" y2="717.3" stroke="#444" stroke-width="1.4"/>
<text x="364.6" y="724.8" font-size="6.5" text-anchor="middle" fill="#222" font-weight="normal" font-style="normal" textLength="53.8" lengthAdjust="spacingAndGlyphs" stroke="#222" stroke-width="0.22">miR-let7c miR-99a</text>
<rect x="377.2" y="701.3" width="27.4" height="12" fill="#8d95c5" stroke="#15152a" stroke-width="1.3"/>
<text x="390.6" y="708" font-size="5" text-anchor="middle" fill="#1a2050" font-weight="normal" font-style="normal" textLength="23.5" lengthAdjust="spacingAndGlyphs" stroke="#1a2050" stroke-width="0.22">miR-125b2</text>
<line x1="381.5" y1="710.8" x2="388.5" y2="710.8" stroke="#1a2050" stroke-width="1.1"/>
<line x1="404.3" y1="700.6" x2="438.17" y2="667.85" stroke="#111" stroke-width="1.4"/>
<path d="M440.5,665.6 L438.29,671.08 L434.95,667.63 Z" stroke="none" fill="#111" stroke-width="1"/>
<line x1="404.3" y1="704.4" x2="433.8" y2="691.6" stroke="#111" stroke-width="1.4"/>
<line x1="434.72" y1="693.71" x2="432.88" y2="689.49" stroke="#111" stroke-width="1.4"/>
<path d="M404.3,707.4 C428,706 452,703 468.6,695.6" stroke="#111" fill="none" stroke-width="1.4"/>
<line x1="466.6" y1="693.2" x2="470.6" y2="698" stroke="#111" stroke-width="1.4"/>
<line x1="404.3" y1="712.2" x2="441.4" y2="716.2" stroke="#111" stroke-width="1.4"/>
<line x1="441.16" y1="718.39" x2="441.64" y2="714.01" stroke="#111" stroke-width="1.4"/>
<text x="443.9" y="720.7" font-size="6.5" text-anchor="start" fill="#222" font-weight="normal" font-style="normal" textLength="38" lengthAdjust="spacingAndGlyphs" stroke="#222" stroke-width="0.22">Other targets</text>
<ellipse cx="448.6" cy="690.2" rx="12.2" ry="8" fill="#fff" stroke="#111" stroke-width="1.4"/>
<text x="448.6" y="692.7" font-size="6.6" text-anchor="middle" fill="#222" font-weight="normal" font-style="normal" textLength="15.4" lengthAdjust="spacingAndGlyphs" stroke="#222" stroke-width="0.22">ETS1</text>
<ellipse cx="481.5" cy="690.1" rx="12" ry="8" fill="#fff" stroke="#111" stroke-width="1.4"/>
<text x="481.6" y="692.7" font-size="6.6" text-anchor="middle" fill="#222" font-weight="normal" font-style="normal" textLength="16.4" lengthAdjust="spacingAndGlyphs" stroke="#222" stroke-width="0.22">CBFβ</text>
<line x1="457.8" y1="683.5" x2="481.67" y2="666.23" stroke="#111" stroke-width="1.4"/>
<path d="M484.2,664.4 L481.34,669.31 L478.64,665.58 Z" stroke="none" fill="#111" stroke-width="1"/>
<line x1="485.1" y1="682" x2="487.66" y2="667.95" stroke="#111" stroke-width="1.4"/>
<path d="M488.2,665 L489.47,670.31 L485.14,669.52 Z" stroke="none" fill="#111" stroke-width="1"/>
<line x1="0" y1="0.5" x2="520" y2="0.5" stroke="#000" stroke-width="1"/>
<line x1="0.5" y1="0" x2="0.5" y2="736" stroke="#000" stroke-width="1"/>
<line x1="519.5" y1="0" x2="519.5" y2="736" stroke="#000" stroke-width="1"/>
<line x1="0" y1="735.5" x2="520" y2="735.5" stroke="#000" stroke-width="1"/>
<line x1="518.5" y1="0" x2="518.5" y2="736" stroke="#d4d4d4" stroke-width="1"/>
<line x1="0" y1="734.5" x2="520" y2="734.5" stroke="#d0d0d0" stroke-width="1"/>
<line x1="1.5" y1="0" x2="1.5" y2="736" stroke="#e4e4e4" stroke-width="1"/>
</svg>
</body></html>
